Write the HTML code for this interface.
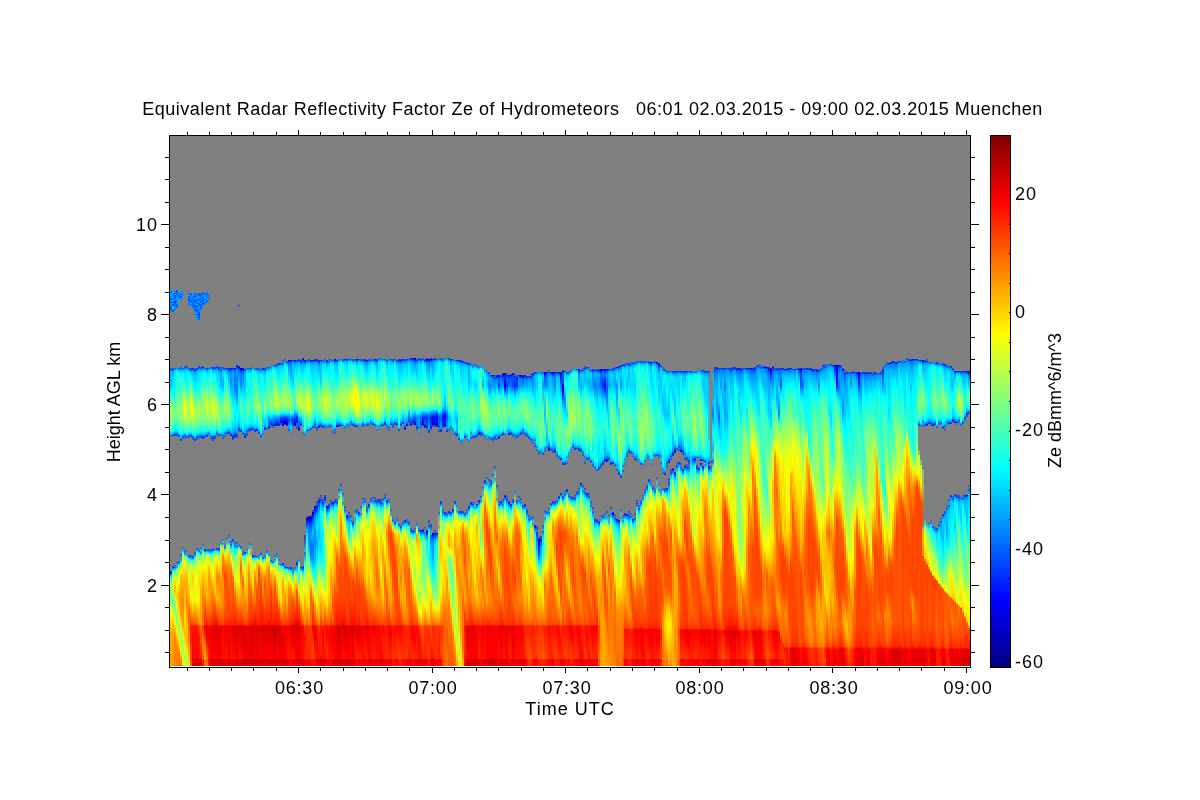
<!DOCTYPE html>
<html><head><meta charset="utf-8"><style>
html,body{margin:0;padding:0;background:#fff;width:1200px;height:800px;overflow:hidden;position:relative}
#hm{position:absolute;left:170px;top:136px;width:800px;height:530px;background:#808080;display:flex}
#hm i{display:block;width:2px;height:530px;flex:none}
svg{position:absolute;left:0;top:0;display:block;will-change:transform}
text{font-family:"Liberation Sans",sans-serif;font-size:18px;fill:#000}
</style></head><body>
<div id="hm"><i style="background:linear-gradient(#808080 0px 155px,#0af 155px,#04f 156.5px,#09f 157.5px,#09f 158.5px,#0af 160.5px,#07f 161.5px,#06f 162.5px,#03f 163.5px,#0bf 164.5px,#05f 166.5px,#09f 167.5px,#08f 168.5px,#07f 170.5px,#05f 171.5px,#06f 173.5px,#45b 175px,#808080 175px 232px,#45b 232px,#04f 233.5px,#0af 235.5px,#0bf 237.5px,#0bf 249.5px,#0ff 256.5px,#8f7 270.5px,#9f6 276.5px,#8f7 285.5px,#5fa 292.5px,#2fd 295.5px,#1de 297.5px,#0bf 298.5px,#07f 299.5px,#47b 301px,#808080 301px 435px,#44b 435px,#01f 436.5px,#0bf 439.5px,#0ef 441.5px,#1fe 442.5px,#9f6 449.5px,#8f7 461.5px,#9f6 464.5px,#df2 471.5px,#ff0 479.5px,#fa0 497.5px,#f90 530px)"></i><i style="background:linear-gradient(#808080 0px 155px,#0af 155px,#08f 158.5px,#06f 159.5px,#0af 161.5px,#07f 163.5px,#0af 165.5px,#05f 166.5px,#09f 167.5px,#04f 168.5px,#06f 169.5px,#0bf 170.5px,#0bf 172.5px,#05f 174.5px,#06f 176px,#808080 176px 232px,#45b 232px,#05f 233.5px,#0af 235.5px,#0cf 238.5px,#0ff 254.5px,#7f8 269.5px,#8f7 275.5px,#7f8 284.5px,#1fe 294.5px,#0ff 295.5px,#0bf 297.5px,#03f 300px,#808080 300px 430px,#45b 430px,#04f 431.5px,#08f 432.5px,#1ce 433.5px,#4fb 435.5px,#8f7 437.5px,#af5 439.5px,#df2 449.5px,#5fa 464.5px,#df2 476.5px,#fe0 480.5px,#fa0 492.5px,#f90 530px)"></i><i style="background:linear-gradient(#808080 0px 154px,#49b 154px,#47b 155.5px,#09f 156.5px,#04f 157.5px,#0bf 158.5px,#04f 159.5px,#05f 160.5px,#04f 161.5px,#07f 162.5px,#08f 164.5px,#03f 165.5px,#06f 167.5px,#07f 170.5px,#0af 171.5px,#09f 172.5px,#06f 173.5px,#49b 174.5px,#48b 176px,#808080 176px 232px,#05f 232px,#09f 233.5px,#0cf 234.5px,#0ef 237.5px,#0ff 254.5px,#7f8 274.5px,#6f9 281.5px,#0ff 292.5px,#0cf 295.5px,#07f 297.5px,#03f 298.5px,#44b 300px,#808080 300px 429px,#45b 429px,#47b 430.5px,#06f 431.5px,#0df 433.5px,#1fe 434.5px,#3fc 435.5px,#9f6 438.5px,#df2 442.5px,#fd0 446.5px,#fb0 450.5px,#fc0 456.5px,#cf3 461.5px,#8f7 466.5px,#6f9 471.5px,#8f8 476.5px,#df2 484.5px,#fe0 488.5px,#f80 500.5px,#f80 530px)"></i><i style="background:linear-gradient(#808080 0px 154px,#47b 154px,#04f 155.5px,#08f 157.5px,#05f 158.5px,#08f 159.5px,#08f 161.5px,#0bf 162.5px,#08f 163.5px,#07f 164.5px,#09f 165.5px,#07f 166.5px,#09f 167.5px,#06f 168.5px,#05f 169.5px,#06f 170.5px,#46b 172px,#808080 172px 232px,#08f 232px,#0cf 233.5px,#0ff 235.5px,#2fd 239.5px,#2fd 250.5px,#8f7 273.5px,#6f9 282.5px,#0ff 292.5px,#0cf 295.5px,#07f 297.5px,#03f 298.5px,#44b 300px,#808080 300px 426px,#45b 426px,#4bb 429.5px,#29d 430.5px,#6f9 433.5px,#9f6 437.5px,#af5 441.5px,#ff0 451.5px,#fc0 459.5px,#fe0 466.5px,#df2 471.5px,#af5 476.5px,#8f7 481.5px,#9f6 485.5px,#df2 492.5px,#fd0 497.5px,#f80 509.5px,#f70 530px)"></i><i style="background:linear-gradient(#808080 0px 154px,#47b 154px,#4ab 155.5px,#07f 156.5px,#09f 157.5px,#06f 159.5px,#07f 161.5px,#06f 162.5px,#0cf 163.5px,#49b 165px,#808080 165px 232px,#04f 232px,#09f 233.5px,#0cf 234.5px,#1fe 236.5px,#3fc 251.5px,#9f6 274.5px,#7f8 283.5px,#0ff 295.5px,#0af 298.5px,#03f 301px,#808080 301px 425px,#44b 425px,#05f 426.5px,#0df 428.5px,#2fd 429.5px,#9f6 432.5px,#af5 433.5px,#ff0 444.5px,#fb0 456.5px,#fa0 462.5px,#fb0 469.5px,#fd0 476.5px,#df2 483.5px,#9f6 491.5px,#af5 496.5px,#df2 501.5px,#fd0 506.5px,#f80 516.5px,#f60 530px)"></i><i style="background:linear-gradient(#808080 0px 154px,#49b 154px,#48b 155.5px,#0af 156.5px,#05f 158.5px,#0af 159.5px,#03f 160.5px,#09f 162.5px,#46b 164px,#808080 164px 231px,#45b 231px,#06f 232.5px,#09f 233.5px,#0df 235.5px,#1fe 240.5px,#4fb 256.5px,#9f6 274.5px,#8f7 284.5px,#1fe 297.5px,#0cf 300.5px,#08f 302.5px,#04f 303.5px,#45b 305px,#808080 305px 418px,#44b 418px,#4ab 422.5px,#09f 423.5px,#3fc 426.5px,#bf4 430.5px,#ff0 434.5px,#fe0 436.5px,#fb0 441.5px,#f80 467.5px,#f90 479.5px,#fd0 487.5px,#df2 492.5px,#9f6 501.5px,#af5 506.5px,#df2 511.5px,#fd0 517.5px,#f90 523.5px,#f60 530px)"></i><i style="background:linear-gradient(#808080 0px 156px,#46b 156px,#48b 158.5px,#47b 159.5px,#49b 160.5px,#48b 161.5px,#49b 163px,#808080 163px 232px,#05f 232px,#09f 233.5px,#0cf 234.5px,#0ff 237.5px,#3fc 249.5px,#9f6 260.5px,#bf4 271.5px,#9f6 281.5px,#1fe 294.5px,#0df 297.5px,#09f 299.5px,#05f 300.5px,#46b 301.5px,#44b 303px,#808080 303px 411px,#44b 411px,#49b 413.5px,#0af 414.5px,#3fc 416.5px,#6f9 417.5px,#bf4 420.5px,#df2 422.5px,#fd0 436.5px,#fb0 442.5px,#f80 464.5px,#f90 486.5px,#fd0 496.5px,#df2 502.5px,#9f6 512.5px,#af5 517.5px,#df2 523.5px,#fc0 530px)"></i><i style="background:linear-gradient(#808080 0px 230px,#45b 230px,#05f 231.5px,#08f 232.5px,#0cf 234.5px,#0ef 239.5px,#2fd 249.5px,#df2 265.5px,#ef1 273.5px,#cf3 281.5px,#2fd 294.5px,#0ef 296.5px,#09f 298.5px,#05f 299.5px,#46b 300.5px,#44b 302px,#808080 302px 414px,#44b 414px,#48b 416.5px,#08f 417.5px,#4fb 420.5px,#6f9 421.5px,#bf4 424.5px,#ef1 428.5px,#fd0 434.5px,#fa0 447.5px,#fc0 470.5px,#fe0 479.5px,#fb0 497.5px,#fd0 506.5px,#df2 512.5px,#af5 520.5px,#bf4 530px)"></i><i style="background:linear-gradient(#808080 0px 230px,#45b 230px,#06f 231.5px,#0cf 233.5px,#0ef 236.5px,#1fe 251.5px,#bf4 268.5px,#cf3 276.5px,#9f6 287.5px,#2fd 296.5px,#0ef 298.5px,#08f 300.5px,#03f 302px,#808080 302px 415px,#46b 415px,#4ab 417.5px,#18e 418.5px,#5fa 421.5px,#af5 425.5px,#fd0 433.5px,#fb0 441.5px,#f80 467.5px,#fb0 485.5px,#fb0 506.5px,#fe0 516.5px,#af5 530px)"></i><i style="background:linear-gradient(#808080 0px 156px,#48b 156px,#47b 157.5px,#07f 158.5px,#0bf 159.5px,#06f 160.5px,#07f 161.5px,#05f 163.5px,#05f 164.5px,#09f 166.5px,#07f 167.5px,#08f 168.5px,#07f 170px,#808080 170px 232px,#04f 232px,#0bf 234.5px,#0ef 236.5px,#0ff 238.5px,#bf4 273.5px,#9f6 283.5px,#5fa 291.5px,#1fe 295.5px,#0cf 297.5px,#06f 299.5px,#46b 300.5px,#44b 302px,#808080 302px 419px,#45b 419px,#05f 420.5px,#0df 422.5px,#1fe 423.5px,#7f8 426.5px,#df2 438.5px,#fd0 447.5px,#fb0 463.5px,#f70 472.5px,#f60 478.5px,#f60 490.5px,#fa0 514.5px,#ee1 530px)"></i><i style="background:linear-gradient(#808080 0px 157px,#46b 157px,#06f 158.5px,#09f 160.5px,#08f 163.5px,#05f 164.5px,#05f 166.5px,#0af 167.5px,#07f 168.5px,#0bf 170px,#808080 170px 232px,#44b 232px,#04f 233.5px,#0af 235.5px,#0df 237.5px,#1fe 243.5px,#df2 264.5px,#ef1 269.5px,#df2 274.5px,#bf4 281.5px,#4fb 291.5px,#1fe 295.5px,#0cf 297.5px,#05f 299.5px,#44b 301px,#808080 301px 419px,#44b 419px,#46b 420.5px,#07f 421.5px,#0bf 422.5px,#3fc 424.5px,#9f6 427.5px,#ef1 432.5px,#ee1 435.5px,#de2 444.5px,#df2 455.5px,#fe0 464.5px,#f90 473.5px,#f40 488.5px,#f20 490.5px,#f20 502.5px,#f50 522.5px,#f40 523.5px,#f60 530px)"></i><i style="background:linear-gradient(#808080 0px 156px,#47b 156px,#4ab 157.5px,#08f 158.5px,#09f 159.5px,#07f 160.5px,#08f 161.5px,#06f 163.5px,#08f 164.5px,#05f 165.5px,#07f 166.5px,#06f 168.5px,#07f 169.5px,#45b 170.5px,#46b 171.5px,#49b 173px,#808080 173px 232px,#01e 232px,#08f 234.5px,#0bf 236.5px,#1fe 248.5px,#4fb 255.5px,#bf4 265.5px,#df2 272.5px,#df2 278.5px,#bf4 283.5px,#5fa 292.5px,#0ff 297.5px,#0bf 299.5px,#04f 301.5px,#46b 302.5px,#44a 304px,#808080 304px 420px,#44b 420px,#04f 421.5px,#0df 423.5px,#1fe 424.5px,#7f8 427.5px,#fe0 436.5px,#fc0 441.5px,#fe0 454.5px,#ef1 463.5px,#fe0 468.5px,#f40 488.5px,#f10 490.5px,#e00 530px)"></i><i style="background:linear-gradient(#808080 0px 156px,#45b 156px,#46b 157.5px,#07f 158.5px,#07f 159.5px,#04f 160.5px,#05f 161.5px,#0bf 162.5px,#05f 163.5px,#05f 165.5px,#07f 166.5px,#09f 168.5px,#03f 170.5px,#08f 171.5px,#07f 172.5px,#04f 173.5px,#07f 174.5px,#09f 176.5px,#47b 177.5px,#49b 180px,#808080 180px 233px,#01d 233px,#07f 235.5px,#0bf 238.5px,#0ff 253.5px,#8f6 269.5px,#af5 275.5px,#8f7 286.5px,#1fe 298.5px,#0ff 299.5px,#0bf 301.5px,#04f 303.5px,#44b 305px,#808080 305px 416px,#44b 416px,#46b 417.5px,#06f 418.5px,#0df 420.5px,#1fe 421.5px,#6f9 424.5px,#cf3 434.5px,#ef1 439.5px,#ef1 447.5px,#df2 454.5px,#ef1 458.5px,#fe0 464.5px,#fb0 469.5px,#f60 485.5px,#f40 488.5px,#f10 490.5px,#f10 522.5px,#d00 523.5px,#d00 530px)"></i><i style="background:linear-gradient(#808080 0px 157px,#48b 157px,#07f 158.5px,#07f 159.5px,#0af 160.5px,#08f 161.5px,#0af 162.5px,#07f 163.5px,#08f 164.5px,#06f 165.5px,#08f 166.5px,#06f 167.5px,#0af 168.5px,#07f 169.5px,#06f 170.5px,#08f 172.5px,#05f 175.5px,#0bf 177.5px,#04f 178.5px,#09f 179.5px,#0af 180.5px,#06f 181.5px,#0af 182.5px,#08f 184px,#808080 184px 232px,#01f 232px,#06f 233.5px,#08f 234.5px,#0bf 236.5px,#0ff 250.5px,#8f7 265.5px,#af5 277.5px,#5fa 289.5px,#0ff 296.5px,#0af 299.5px,#04f 301.5px,#45b 302.5px,#44a 304px,#808080 304px 412px,#02f 412px,#0bf 414.5px,#2fd 416.5px,#6f9 418.5px,#cf3 429.5px,#ef1 440.5px,#df2 454.5px,#ff0 464.5px,#f50 488.5px,#f10 490.5px,#f00 522.5px,#d00 523.5px,#c00 530px)"></i><i style="background:linear-gradient(#808080 0px 157px,#46b 157px,#05f 158.5px,#0af 161.5px,#06f 162.5px,#07f 163.5px,#06f 164.5px,#0bf 165.5px,#04f 168.5px,#05f 169.5px,#09f 170.5px,#07f 171.5px,#0af 172.5px,#06f 174.5px,#09f 175.5px,#06f 176.5px,#04f 178.5px,#04f 179.5px,#06f 180.5px,#04f 181.5px,#07f 182.5px,#06f 184px,#808080 184px 230px,#45b 230px,#04f 231.5px,#0af 233.5px,#0cf 235.5px,#0ff 249.5px,#3fc 256.5px,#9f6 266.5px,#bf4 274.5px,#9f6 281.5px,#2fd 294.5px,#0cf 298.5px,#05f 300.5px,#47b 301.5px,#44b 303px,#808080 303px 414px,#02f 414px,#0cf 416.5px,#1fe 417.5px,#8f7 420.5px,#ef1 430.5px,#fd0 444.5px,#ff0 463.5px,#f80 487.5px,#f70 488.5px,#f40 490.5px,#f10 502.5px,#f10 522.5px,#d00 523.5px,#d00 530px)"></i><i style="background:linear-gradient(#808080 0px 157px,#47b 157px,#06f 158.5px,#06f 159.5px,#08f 161.5px,#06f 162.5px,#08f 163.5px,#06f 164.5px,#08f 167.5px,#07f 168.5px,#04f 169.5px,#07f 170.5px,#05f 171.5px,#06f 172.5px,#46b 173.5px,#49b 175px,#808080 175px 231px,#44b 231px,#05f 232.5px,#09f 233.5px,#0cf 235.5px,#0ef 238.5px,#0ff 245.5px,#9f6 274.5px,#7f8 284.5px,#1fe 294.5px,#0cf 297.5px,#07f 299.5px,#04f 300.5px,#44b 302px,#808080 302px 411px,#45b 411px,#4bb 414.5px,#4bb 415.5px,#28e 416.5px,#3ec 419.5px,#4fb 420.5px,#7f8 422.5px,#ef1 430.5px,#fe0 437.5px,#fb0 451.5px,#f90 488.5px,#f60 490.5px,#f40 508.5px,#f10 522.5px,#d00 523.5px,#d00 530px)"></i><i style="background:linear-gradient(#808080 0px 156px,#47b 156px,#05f 157.5px,#07f 158.5px,#09f 160.5px,#04f 161.5px,#08f 162.5px,#06f 163.5px,#06f 166.5px,#04f 167.5px,#07f 168.5px,#08f 169.5px,#49b 170.5px,#46b 172px,#808080 172px 230px,#44b 230px,#03f 231.5px,#07f 232.5px,#0cf 234.5px,#0ff 237.5px,#1fe 239.5px,#af5 273.5px,#7f8 284.5px,#0ff 295.5px,#0bf 298.5px,#05f 300.5px,#02e 301.5px,#44a 303px,#808080 303px 408px,#44b 408px,#4bb 411.5px,#5ba 412.5px,#2ad 413.5px,#4eb 415.5px,#6f9 416.5px,#af5 419.5px,#ef1 430.5px,#fb0 442.5px,#f80 455.5px,#f60 488.5px,#f30 490.5px,#f80 505.5px,#f80 511.5px,#f50 522.5px,#f20 523.5px,#e10 530px)"></i><i style="background:linear-gradient(#808080 0px 157px,#47b 157px,#07f 158.5px,#09f 159.5px,#08f 160.5px,#0bf 161.5px,#0af 162.5px,#05f 163.5px,#09f 164.5px,#09f 165.5px,#06f 167.5px,#48b 169px,#808080 169px 232px,#06f 232px,#0cf 234.5px,#0ff 237.5px,#3fc 248.5px,#9f6 258.5px,#bf4 266.5px,#6f9 287.5px,#1fe 295.5px,#0bf 298.5px,#05f 300.5px,#45b 302px,#808080 302px 413px,#45b 413px,#04f 414.5px,#1de 416.5px,#3fc 417.5px,#9f6 420.5px,#ff0 430.5px,#fc0 443.5px,#fa0 456.5px,#f40 475.5px,#f20 488.5px,#e00 490.5px,#f20 499.5px,#f70 508.5px,#fa0 518.5px,#fa0 522.5px,#f70 523.5px,#f60 530px)"></i><i style="background:linear-gradient(#808080 0px 156px,#46b 156px,#07f 157.5px,#07f 159.5px,#09f 160.5px,#06f 161.5px,#0bf 162.5px,#08f 163.5px,#06f 165.5px,#47b 167px,#808080 167px 232px,#01f 232px,#06f 233.5px,#0bf 235.5px,#0ef 238.5px,#0ff 242.5px,#4fc 252.5px,#cf3 266.5px,#df2 271.5px,#cf3 277.5px,#0ff 294.5px,#0af 297.5px,#03f 299.5px,#44b 301px,#808080 301px 413px,#46b 413px,#06f 414.5px,#0bf 415.5px,#2ed 416.5px,#4fa 417.5px,#af5 419.5px,#df2 421.5px,#fe0 430.5px,#fa0 463.5px,#f50 480.5px,#f20 488.5px,#f00 489.5px,#e00 490.5px,#e00 502.5px,#f70 522.5px,#f50 523.5px,#f70 530px)"></i><i style="background:linear-gradient(#808080 0px 158px,#48b 158px,#46b 159.5px,#48b 160.5px,#46b 161.5px,#48b 165px,#808080 165px 232px,#05f 232px,#0cf 234.5px,#0ef 236.5px,#1fe 243.5px,#4fb 254.5px,#af5 265.5px,#bf4 272.5px,#8f7 284.5px,#6f9 289.5px,#2fd 293.5px,#0df 295.5px,#07f 297.5px,#48b 298.5px,#46b 300px,#808080 300px 413px,#46b 413px,#05f 414.5px,#0af 415.5px,#2fd 417.5px,#af5 420.5px,#fe0 427.5px,#fb0 433.5px,#f90 441.5px,#fa0 455.5px,#f90 463.5px,#f30 488.5px,#e00 490.5px,#f00 505.5px,#f20 522.5px,#f00 523.5px,#f20 530px)"></i><i style="background:linear-gradient(#808080 0px 231px,#05f 231px,#0cf 233.5px,#1fe 236.5px,#af5 264.5px,#bf4 271.5px,#8f7 282.5px,#1fe 295.5px,#0cf 298.5px,#06f 300.5px,#46b 301.5px,#44b 303px,#808080 303px 413px,#44b 413px,#46b 414.5px,#06f 415.5px,#0ef 417.5px,#2fd 418.5px,#7f8 421.5px,#ef1 430.5px,#f90 447.5px,#f80 463.5px,#f50 480.5px,#f20 488.5px,#e00 490.5px,#f00 522.5px,#d00 523.5px,#d00 530px)"></i><i style="background:linear-gradient(#808080 0px 231px,#44b 231px,#04f 232.5px,#0bf 234.5px,#0ff 238.5px,#3fc 250.5px,#cf3 266.5px,#df2 273.5px,#af5 281.5px,#1fe 294.5px,#0cf 298.5px,#05f 301.5px,#02e 302.5px,#44b 303.5px,#449 305px,#808080 305px 413px,#01f 413px,#0ef 416.5px,#2fd 417.5px,#8f7 420.5px,#df2 429.5px,#ff0 438.5px,#f80 456.5px,#f20 487.5px,#f00 489.5px,#e00 490.5px,#f00 522.5px,#c00 523.5px,#c00 530px)"></i><i style="background:linear-gradient(#808080 0px 231px,#44b 231px,#05f 232.5px,#09f 233.5px,#0df 235.5px,#0ff 239.5px,#3fc 252.5px,#bf4 268.5px,#cf3 275.5px,#8f7 286.5px,#1fe 295.5px,#0df 297.5px,#09f 299.5px,#05f 300.5px,#45b 301.5px,#449 303px,#808080 303px 413px,#05f 413px,#0ff 415.5px,#cf3 419.5px,#fe0 429.5px,#fc0 442.5px,#fc0 455.5px,#f50 470.5px,#f10 488.5px,#f00 489.5px,#d00 490.5px,#f00 522.5px,#c00 523.5px,#c00 530px)"></i><i style="background:linear-gradient(#808080 0px 230px,#44b 230px,#04f 231.5px,#0af 233.5px,#0cf 235.5px,#1fe 250.5px,#af5 266.5px,#bf4 272.5px,#9f6 281.5px,#1fe 292.5px,#0df 294.5px,#05e 297.5px,#47b 298.5px,#45b 300px,#808080 300px 412px,#44b 412px,#05f 413.5px,#1ee 415.5px,#bf4 419.5px,#df2 421.5px,#fe0 425.5px,#fb0 430.5px,#f80 441.5px,#fb0 463.5px,#e00 489.5px,#d00 490.5px,#d00 493.5px,#f00 522.5px,#c00 523.5px,#c00 530px)"></i><i style="background:linear-gradient(#808080 0px 231px,#44a 231px,#03f 232.5px,#09f 234.5px,#0cf 237.5px,#0ff 255.5px,#9f6 272.5px,#af5 278.5px,#7f8 288.5px,#2fd 294.5px,#0ef 296.5px,#08f 298.5px,#03f 300px,#808080 300px 412px,#44b 412px,#04f 413.5px,#0df 415.5px,#1fe 416.5px,#7f8 419.5px,#df2 426.5px,#fe0 429.5px,#f80 441.5px,#fa0 463.5px,#f30 488.5px,#e00 490.5px,#d00 502.5px,#f00 522.5px,#c00 523.5px,#c00 530px)"></i><i style="background:linear-gradient(#808080 0px 231px,#44b 231px,#46b 232.5px,#05f 233.5px,#07f 234.5px,#09f 236.5px,#0bf 248.5px,#0ff 256.5px,#6f9 272.5px,#5fa 285.5px,#1fe 294.5px,#0ef 296.5px,#0cf 297.5px,#04f 300px,#808080 300px 405px,#45b 405px,#48b 406.5px,#09f 407.5px,#4eb 409.5px,#9f6 411.5px,#cf3 414.5px,#fd0 427.5px,#f80 451.5px,#f90 467.5px,#f30 488.5px,#e00 490.5px,#f00 522.5px,#c00 523.5px,#c00 530px)"></i><i style="background:linear-gradient(#808080 0px 231px,#46b 231px,#05f 232.5px,#0bf 234.5px,#0df 236.5px,#0cf 243.5px,#0af 249.5px,#0ff 257.5px,#6f9 266.5px,#8f7 273.5px,#7f8 279.5px,#1fe 290.5px,#0ef 295.5px,#0bf 297.5px,#07f 299.5px,#47b 300.5px,#44b 303px,#808080 303px 403px,#45b 403px,#4bb 405.5px,#6b9 406.5px,#48b 407.5px,#7e8 409.5px,#ed1 413.5px,#fd0 414.5px,#f80 422.5px,#f60 432.5px,#f90 448.5px,#f80 463.5px,#f50 485.5px,#f40 488.5px,#f00 490.5px,#f10 522.5px,#d00 523.5px,#c00 530px)"></i><i style="background:linear-gradient(#808080 0px 232px,#03f 232px,#08f 233.5px,#0bf 234.5px,#0ef 236.5px,#0ff 238.5px,#3fc 255.5px,#8f7 267.5px,#9f6 272.5px,#8f7 280.5px,#1fe 292.5px,#0cf 295.5px,#06f 297.5px,#47b 298.5px,#44a 301px,#808080 301px 409px,#44b 409px,#47b 410.5px,#06f 411.5px,#1ae 412.5px,#5fa 414.5px,#cf3 417.5px,#fd0 421.5px,#f80 428.5px,#f40 439.5px,#f60 466.5px,#f40 481.5px,#f20 488.5px,#e00 490.5px,#f10 522.5px,#e00 523.5px,#d00 530px)"></i><i style="background:linear-gradient(#808080 0px 232px,#02f 232px,#07f 233.5px,#0bf 235.5px,#0ef 240.5px,#2fd 247.5px,#8f7 263.5px,#af5 271.5px,#6f9 282.5px,#1fe 290.5px,#0bf 294.5px,#06f 296.5px,#02f 298px,#808080 298px 402px,#44b 402px,#4bb 405.5px,#6b9 406.5px,#4ab 407.5px,#6f9 409.5px,#bf4 412.5px,#df2 413.5px,#fd0 419.5px,#f70 432.5px,#f50 441.5px,#f40 480.5px,#f20 488.5px,#e00 490.5px,#f10 522.5px,#e00 523.5px,#d00 530px)"></i><i style="background:linear-gradient(#808080 0px 232px,#44b 232px,#02f 233.5px,#07f 235.5px,#09f 237.5px,#0ef 251.5px,#1fe 255.5px,#9f6 266.5px,#af5 273.5px,#9f6 279.5px,#3fc 288.5px,#0ff 291.5px,#0af 294.5px,#02f 296.5px,#44b 298px,#808080 298px 399px,#44b 399px,#4bb 403.5px,#5ba 404.5px,#38c 405.5px,#6e9 408.5px,#9f6 410.5px,#be4 412.5px,#fc0 418.5px,#fa0 422.5px,#f80 429.5px,#f50 456.5px,#f40 480.5px,#f20 488.5px,#e00 490.5px,#f00 522.5px,#d00 523.5px,#d00 530px)"></i><i style="background:linear-gradient(#808080 0px 232px,#00f 232px,#06f 234.5px,#09f 237.5px,#08f 249.5px,#0ef 260.5px,#2fd 265.5px,#4fb 270.5px,#5fa 276.5px,#3fc 285.5px,#0ef 293.5px,#0cf 295.5px,#08f 297.5px,#00f 300px,#808080 300px 405px,#44b 405px,#47b 407.5px,#05f 408.5px,#0af 410.5px,#1fe 413.5px,#df2 422.5px,#fd0 425.5px,#f70 433.5px,#f60 437.5px,#f60 464.5px,#f20 488.5px,#e00 490.5px,#f10 522.5px,#d00 523.5px,#d00 530px)"></i><i style="background:linear-gradient(#808080 0px 232px,#01f 232px,#08f 234.5px,#0af 237.5px,#0bf 256.5px,#1fe 271.5px,#2fd 279.5px,#0ff 285.5px,#0af 296.5px,#08f 298.5px,#03f 300.5px,#02d 301.5px,#44b 302.5px,#449 304px,#808080 304px 403px,#45b 403px,#03f 404.5px,#0af 406.5px,#0ff 409.5px,#df2 428.5px,#fc0 435.5px,#f70 441.5px,#f50 447.5px,#f40 478.5px,#f20 488.5px,#f00 489.5px,#d00 490.5px,#f10 522.5px,#e00 523.5px,#d00 530px)"></i><i style="background:linear-gradient(#808080 0px 232px,#00f 232px,#06f 234.5px,#08f 236.5px,#07f 250.5px,#0ef 265.5px,#0ff 270.5px,#0ef 282.5px,#0bf 291.5px,#09f 295.5px,#03f 298.5px,#01e 299.5px,#44b 300.5px,#448 302px,#808080 302px 406px,#44b 406px,#48b 408.5px,#06f 409.5px,#0df 412.5px,#1fe 414.5px,#9f6 425.5px,#ef1 442.5px,#f60 460.5px,#f20 485.5px,#f20 488.5px,#f00 489.5px,#d00 490.5px,#f00 513.5px,#f10 522.5px,#d00 523.5px,#e00 530px)"></i><i style="background:linear-gradient(#808080 0px 229px,#44b 229px,#02e 230.5px,#04f 231.5px,#08f 233.5px,#09f 235.5px,#07f 255.5px,#0ff 275.5px,#0ff 283.5px,#0cf 291.5px,#09f 296.5px,#03f 299.5px,#45b 300.5px,#44b 302px,#808080 302px 406px,#44b 406px,#4ab 409.5px,#07f 410.5px,#2fd 413.5px,#6f9 417.5px,#ef1 443.5px,#f50 474.5px,#f20 488.5px,#f00 489.5px,#d00 490.5px,#f00 522.5px,#c00 523.5px,#c00 530px)"></i><i style="background:linear-gradient(#808080 0px 166px,#46b 166px,#49b 167.5px,#45b 169.5px,#47b 171px,#808080 171px 230px,#44a 230px,#01e 231.5px,#03f 232.5px,#06f 234.5px,#08f 236.5px,#0ef 254.5px,#2ed 265.5px,#1fe 271.5px,#0df 286.5px,#0af 290.5px,#03e 293.5px,#46b 294.5px,#44b 296px,#808080 296px 409px,#03f 409px,#0ef 411.5px,#5fa 412.5px,#bf4 414.5px,#df2 415.5px,#ee1 416.5px,#ed1 425.5px,#ff0 446.5px,#f20 488.5px,#f00 489.5px,#d00 490.5px,#f10 522.5px,#d00 523.5px,#c00 530px)"></i><i style="background:linear-gradient(#808080 0px 232px,#009 232px,#00f 233.5px,#03f 234.5px,#07f 237.5px,#08f 249.5px,#0ef 257.5px,#2fd 261.5px,#4fb 266.5px,#5fa 272.5px,#2fd 280.5px,#0ef 290.5px,#09f 293.5px,#01e 296px,#808080 296px 410px,#46b 410px,#05f 411.5px,#0af 412.5px,#5fa 414.5px,#bf4 416.5px,#ce2 417.5px,#fc0 421.5px,#f80 426.5px,#f60 433.5px,#fa0 449.5px,#fb0 456.5px,#f20 488.5px,#f00 489.5px,#d00 490.5px,#f10 522.5px,#d00 523.5px,#d00 530px)"></i><i style="background:linear-gradient(#808080 0px 232px,#00b 232px,#01f 233.5px,#05f 235.5px,#07f 238.5px,#0ff 261.5px,#3fc 269.5px,#4fb 276.5px,#0ff 292.5px,#0bf 295.5px,#06f 297.5px,#45b 299px,#808080 299px 415px,#44b 415px,#47b 416.5px,#05f 417.5px,#09f 418.5px,#1fe 420.5px,#8f7 424.5px,#df2 429.5px,#fd0 434.5px,#f60 445.5px,#f90 464.5px,#f50 480.5px,#f20 488.5px,#f00 489.5px,#d00 490.5px,#d00 496.5px,#f00 522.5px,#c00 523.5px,#d00 530px)"></i><i style="background:linear-gradient(#808080 0px 233px,#02e 233px,#08f 235.5px,#0af 237.5px,#0bf 249.5px,#0ff 262.5px,#3fc 272.5px,#1fe 283.5px,#0df 290.5px,#0af 296.5px,#04f 299.5px,#01e 300.5px,#44a 302px,#808080 302px 416px,#00f 416px,#0ef 419.5px,#2fd 420.5px,#8f7 423.5px,#ef1 440.5px,#fd0 446.5px,#f70 469.5px,#f60 480.5px,#f30 488.5px,#e00 490.5px,#d00 502.5px,#f00 522.5px,#c00 523.5px,#c00 530px)"></i><i style="background:linear-gradient(#808080 0px 232px,#04f 232px,#09f 233.5px,#0cf 234.5px,#0ff 237.5px,#1ee 249.5px,#1fe 255.5px,#5fa 271.5px,#4fb 278.5px,#1fe 287.5px,#0cf 292.5px,#05f 295.5px,#47b 296.5px,#44b 298.5px,#448 300px,#808080 300px 413px,#45b 413px,#4ab 415.5px,#19e 416.5px,#4eb 418.5px,#6f9 419.5px,#cf3 422.5px,#df2 424.5px,#fd0 431.5px,#fa0 463.5px,#f40 485.5px,#f30 488.5px,#e00 490.5px,#e00 522.5px,#c00 523.5px,#c00 530px)"></i><i style="background:linear-gradient(#808080 0px 232px,#04f 232px,#08f 233.5px,#0bf 234.5px,#0ef 236.5px,#0ff 238.5px,#1fe 251.5px,#5fa 269.5px,#4fb 277.5px,#1fe 286.5px,#0cf 290.5px,#08f 292.5px,#04f 293.5px,#46b 294.5px,#44b 296px,#808080 296px 407px,#45b 407px,#4ab 409.5px,#5ba 410.5px,#38c 411.5px,#6e9 413.5px,#7f8 414.5px,#cf3 417.5px,#ef1 420.5px,#fe0 423.5px,#f80 437.5px,#f40 480.5px,#f20 488.5px,#e00 490.5px,#e00 522.5px,#c00 523.5px,#c00 530px)"></i><i style="background:linear-gradient(#808080 0px 232px,#03f 232px,#08f 233.5px,#0af 234.5px,#0ef 237.5px,#0ff 252.5px,#4fa 271.5px,#0ff 286.5px,#0bf 290.5px,#06f 292.5px,#03f 293.5px,#44a 295px,#808080 295px 408px,#46b 408px,#4bb 410.5px,#9b6 414.5px,#ab5 416.5px,#699 417.5px,#7e8 419.5px,#8f7 420.5px,#cf3 423.5px,#ee2 433.5px,#fb0 444.5px,#f60 455.5px,#f30 480.5px,#f10 488.5px,#e00 489.5px,#d00 490.5px,#e00 522.5px,#c00 523.5px,#c00 530px)"></i><i style="background:linear-gradient(#808080 0px 230px,#45b 230px,#48b 231.5px,#0af 232.5px,#0df 233.5px,#1fe 235.5px,#4fb 269.5px,#0ff 285.5px,#0ef 288.5px,#0bf 290.5px,#06f 292.5px,#03f 294px,#808080 294px 419px,#44b 419px,#03f 420.5px,#1de 422.5px,#3fc 423.5px,#bf4 426.5px,#df2 428.5px,#ed1 435.5px,#fe0 447.5px,#f50 468.5px,#f20 487.5px,#f00 489.5px,#d00 490.5px,#d00 491.5px,#e00 522.5px,#c00 523.5px,#c00 530px)"></i><i style="background:linear-gradient(#808080 0px 232px,#47b 232px,#08f 233.5px,#0ef 235.5px,#1fe 237.5px,#8f7 266.5px,#7f8 273.5px,#1fe 287.5px,#0cf 291.5px,#07f 293.5px,#03f 294.5px,#44b 296px,#808080 296px 419px,#44b 419px,#06f 420.5px,#0ef 422.5px,#bf4 426.5px,#df2 429.5px,#fe0 432.5px,#fa0 436.5px,#f70 444.5px,#f70 464.5px,#e00 489.5px,#d00 490.5px,#f00 522.5px,#c00 523.5px,#c00 530px)"></i><i style="background:linear-gradient(#808080 0px 232px,#44b 232px,#06f 233.5px,#0cf 235.5px,#0ff 239.5px,#af5 267.5px,#8f7 273.5px,#3fc 280.5px,#0ff 285.5px,#0df 289.5px,#0bf 291.5px,#05f 293.5px,#01f 295px,#808080 295px 420px,#04f 420px,#0bf 421.5px,#3ec 422.5px,#af5 424.5px,#ec1 427.5px,#fa0 444.5px,#f60 450.5px,#f50 455.5px,#f30 480.5px,#f10 488.5px,#f00 489.5px,#d00 491.5px,#e00 522.5px,#c00 523.5px,#c00 530px)"></i><i style="background:linear-gradient(#808080 0px 232px,#46b 232px,#05f 233.5px,#09f 234.5px,#0cf 236.5px,#0ef 240.5px,#1fe 251.5px,#8f7 266.5px,#9f6 271.5px,#8f7 277.5px,#2fd 288.5px,#0ef 291.5px,#0cf 293.5px,#07f 295.5px,#04f 296.5px,#44b 298px,#808080 298px 419px,#45b 419px,#48b 420.5px,#08f 421.5px,#4fb 423.5px,#df2 425.5px,#fe0 426.5px,#fc0 427.5px,#f50 433.5px,#f40 437.5px,#f50 456.5px,#f20 485.5px,#f20 488.5px,#f00 489.5px,#d00 490.5px,#f00 522.5px,#c00 523.5px,#c00 530px)"></i><i style="background:linear-gradient(#808080 0px 233px,#04f 233px,#09f 234.5px,#0bf 235.5px,#0ff 239.5px,#1fe 256.5px,#7f8 274.5px,#4fb 290.5px,#1fe 295.5px,#0ef 296.5px,#0af 298.5px,#02f 301px,#808080 301px 417px,#01f 417px,#0cf 419.5px,#2fd 420.5px,#df2 424.5px,#ff0 427.5px,#f70 441.5px,#f40 451.5px,#f10 488.5px,#d00 490.5px,#f00 522.5px,#c00 523.5px,#c00 530px)"></i><i style="background:linear-gradient(#808080 0px 232px,#00f 232px,#05f 233.5px,#09f 234.5px,#0cf 236.5px,#0ef 239.5px,#1fe 244.5px,#3fc 255.5px,#4fb 268.5px,#4fb 272.5px,#1fe 278.5px,#1de 283.5px,#1de 291.5px,#0cf 293.5px,#09f 295.5px,#49b 296.5px,#45b 299px,#808080 299px 421px,#46b 421px,#06f 422.5px,#0cf 423.5px,#2ed 424.5px,#cf3 427.5px,#ef1 428.5px,#fe0 430.5px,#fa0 438.5px,#f80 456.5px,#f30 471.5px,#f10 488.5px,#e00 489.5px,#c00 490.5px,#f00 522.5px,#c00 523.5px,#c00 530px)"></i><i style="background:linear-gradient(#808080 0px 232px,#45b 232px,#04f 233.5px,#0af 235.5px,#0df 239.5px,#0ff 250.5px,#7f8 264.5px,#9f6 270.5px,#7f8 275.5px,#2fd 280.5px,#0df 284.5px,#0af 289.5px,#05f 291.5px,#01f 292.5px,#44a 294px,#808080 294px 419px,#46b 419px,#48b 420.5px,#09f 421.5px,#3fc 423.5px,#9f6 425.5px,#cf3 427.5px,#fe0 432.5px,#f80 440.5px,#f50 448.5px,#f60 465.5px,#f30 480.5px,#f10 488.5px,#e00 489.5px,#d00 490.5px,#d00 496.5px,#f00 522.5px,#d00 523.5px,#d00 530px)"></i><i style="background:linear-gradient(#808080 0px 231px,#45b 231px,#07f 232.5px,#0df 234.5px,#1fe 237.5px,#5fa 265.5px,#5fa 271.5px,#2fd 276.5px,#0df 282.5px,#0df 289.5px,#0af 291.5px,#07f 292.5px,#46b 294px,#808080 294px 415px,#44b 415px,#07f 416.5px,#0df 417.5px,#3fc 418.5px,#df2 421.5px,#fe0 424.5px,#fa0 432.5px,#f40 468.5px,#f20 485.5px,#f10 488.5px,#f00 489.5px,#d00 490.5px,#f00 522.5px,#d00 523.5px,#d00 530px)"></i><i style="background:linear-gradient(#808080 0px 231px,#05f 231px,#0bf 233.5px,#0ff 237.5px,#9f6 266.5px,#7f8 271.5px,#2fd 276.5px,#0df 279.5px,#09f 282.5px,#06f 288.5px,#04f 290.5px,#01f 291.5px,#44a 293px,#808080 293px 418px,#04f 418px,#0bf 419.5px,#2fd 420.5px,#df2 423.5px,#fe0 424.5px,#f70 435.5px,#f50 463.5px,#f30 480.5px,#e00 489.5px,#d00 490.5px,#f00 522.5px,#c00 523.5px,#c00 530px)"></i><i style="background:linear-gradient(#808080 0px 230px,#47b 230px,#09f 231.5px,#0df 233.5px,#1fe 236.5px,#2fd 246.5px,#8f7 267.5px,#7f8 273.5px,#1fe 278.5px,#03e 288.5px,#46b 289.5px,#44b 291px,#808080 291px 424px,#45b 424px,#07f 425.5px,#0cf 426.5px,#2fd 427.5px,#cf3 430.5px,#ff0 432.5px,#f90 442.5px,#f40 454.5px,#f10 488.5px,#d00 490.5px,#f00 518.5px,#f00 522.5px,#c00 523.5px,#c00 530px)"></i><i style="background:linear-gradient(#808080 0px 229px,#47b 229px,#0af 230.5px,#0df 231.5px,#1fe 233.5px,#8f7 267.5px,#7f8 272.5px,#1fe 277.5px,#0ff 278.5px,#09f 282.5px,#06f 287.5px,#03f 289.5px,#46b 290.5px,#44b 292px,#808080 292px 425px,#46b 425px,#08f 426.5px,#0df 427.5px,#3fc 428.5px,#df2 431.5px,#ff0 432.5px,#fe0 434.5px,#fa0 442.5px,#f70 454.5px,#f10 488.5px,#e00 489.5px,#c00 491.5px,#f00 522.5px,#c00 523.5px,#c00 530px)"></i><i style="background:linear-gradient(#808080 0px 229px,#03f 229px,#08f 230.5px,#0df 232.5px,#1fe 235.5px,#af5 256.5px,#bf4 263.5px,#9f6 271.5px,#6f9 274.5px,#1fe 277.5px,#0ef 278.5px,#08f 282.5px,#04f 287.5px,#00f 290px,#808080 290px 419px,#44b 419px,#4bb 422.5px,#18e 423.5px,#4eb 426.5px,#4fb 427.5px,#9f6 430.5px,#df2 434.5px,#fe0 436.5px,#f80 444.5px,#f50 452.5px,#f50 463.5px,#f10 488.5px,#e00 489.5px,#c00 490.5px,#e00 522.5px,#c00 523.5px,#c00 530px)"></i><i style="background:linear-gradient(#808080 0px 228px,#01f 228px,#06f 229.5px,#09f 230.5px,#0cf 232.5px,#0ff 240.5px,#3fc 246.5px,#cf3 261.5px,#df2 266.5px,#af4 272.5px,#7f8 275.5px,#1fe 278.5px,#0df 279.5px,#08f 282.5px,#02f 287.5px,#01d 288.5px,#44b 290px,#808080 290px 417px,#44b 417px,#49b 419.5px,#09f 420.5px,#5fa 423.5px,#9f6 426.5px,#ff0 438.5px,#f40 467.5px,#f10 488.5px,#c00 490.5px,#f00 511.5px,#f00 522.5px,#c00 523.5px,#c00 530px)"></i><i style="background:linear-gradient(#808080 0px 227px,#00f 227px,#06f 228.5px,#09f 229.5px,#0cf 231.5px,#0ff 243.5px,#9f6 261.5px,#af5 267.5px,#9f6 272.5px,#7f8 274.5px,#2fd 277.5px,#0df 279.5px,#08f 282.5px,#04f 287.5px,#01f 290px,#808080 290px 423px,#45b 423px,#4bb 426.5px,#29d 427.5px,#4fb 430.5px,#9f6 434.5px,#ef1 446.5px,#fc0 462.5px,#f40 474.5px,#f10 488.5px,#e00 489.5px,#c00 490.5px,#c00 494.5px,#f00 522.5px,#c00 523.5px,#d00 530px)"></i><i style="background:linear-gradient(#808080 0px 227px,#03f 227px,#08f 228.5px,#0cf 230.5px,#0ef 233.5px,#0ff 237.5px,#9f6 266.5px,#7f8 272.5px,#1fe 276.5px,#0ef 277.5px,#05f 281.5px,#02f 283.5px,#01c 286.5px,#44b 287.5px,#44a 289px,#808080 289px 428px,#04f 428px,#0ff 430.5px,#cf3 434.5px,#ee1 444.5px,#fe0 464.5px,#f20 488.5px,#d00 490.5px,#e00 522.5px,#c00 523.5px,#c00 530px)"></i><i style="background:linear-gradient(#808080 0px 224px,#44b 224px,#48b 226.5px,#06f 227.5px,#0cf 230.5px,#0ff 236.5px,#9f6 262.5px,#8f7 270.5px,#5fa 273.5px,#2fd 275.5px,#0ff 276.5px,#03f 282.5px,#01f 284.5px,#01f 287.5px,#00c 290px,#808080 290px 427px,#44b 427px,#03f 428.5px,#0df 430.5px,#2fd 431.5px,#af5 434.5px,#cf3 436.5px,#fe0 440.5px,#fa0 445.5px,#f90 456.5px,#fb0 463.5px,#f90 472.5px,#f30 488.5px,#f00 490.5px,#e00 502.5px,#f00 522.5px,#d00 523.5px,#c00 530px)"></i><i style="background:linear-gradient(#808080 0px 223px,#44b 223px,#47b 224.5px,#08f 225.5px,#0df 227.5px,#0ff 229.5px,#2fd 242.5px,#9f6 257.5px,#bf4 264.5px,#8f7 271.5px,#5fa 274.5px,#1fe 276.5px,#0ef 277.5px,#04f 281.5px,#01f 283.5px,#00e 285.5px,#00a 287.5px,#448 289px,#808080 289px 430px,#02f 430px,#07f 431.5px,#0ff 433.5px,#6f9 436.5px,#ef1 447.5px,#fa0 459.5px,#f30 488.5px,#e00 490.5px,#f00 522.5px,#d00 523.5px,#d00 530px)"></i><i style="background:linear-gradient(#808080 0px 225px,#46b 225px,#06f 226.5px,#0cf 228.5px,#1fe 232.5px,#af5 266.5px,#8f7 272.5px,#2fd 276.5px,#0ff 277.5px,#05f 281.5px,#02f 283.5px,#00f 286.5px,#00c 288.5px,#449 290px,#808080 290px 431px,#03f 431px,#0ef 433.5px,#3fc 434.5px,#af5 437.5px,#fe0 446.5px,#fb0 457.5px,#fa0 467.5px,#f70 478.5px,#f30 488.5px,#e00 490.5px,#f10 522.5px,#d00 523.5px,#d00 530px)"></i><i style="background:linear-gradient(#808080 0px 224px,#00c 224px,#02f 225.5px,#07f 227.5px,#09f 229.5px,#0ef 241.5px,#1fe 246.5px,#8f7 257.5px,#9f6 265.5px,#8f7 271.5px,#6f9 273.5px,#1fe 276.5px,#0ef 277.5px,#07f 280.5px,#05f 283.5px,#05f 285.5px,#0af 290.5px,#09f 292.5px,#06f 293.5px,#46b 295px,#808080 295px 431px,#46b 431px,#06f 432.5px,#1ee 434.5px,#bf4 438.5px,#ff0 442.5px,#fa0 449.5px,#f70 461.5px,#f30 488.5px,#e00 490.5px,#f20 522.5px,#e00 523.5px,#e00 530px)"></i><i style="background:linear-gradient(#808080 0px 224px,#00e 224px,#06f 226.5px,#08f 228.5px,#0af 238.5px,#0ef 247.5px,#1fe 250.5px,#8f7 260.5px,#bf4 267.5px,#8f7 273.5px,#2fd 277.5px,#0cf 279.5px,#07f 282.5px,#06f 284.5px,#0cf 290.5px,#0df 292.5px,#0af 294.5px,#49b 295.5px,#46b 298px,#808080 298px 431px,#44b 431px,#03f 432.5px,#0bf 434.5px,#0ef 435.5px,#2fd 436.5px,#8f7 439.5px,#ef1 445.5px,#fa0 452.5px,#f60 460.5px,#f40 478.5px,#f10 488.5px,#f00 489.5px,#d00 490.5px,#f00 506.5px,#f10 518.5px,#e00 530px)"></i><i style="background:linear-gradient(#808080 0px 224px,#02f 224px,#07f 225.5px,#09f 226.5px,#0cf 229.5px,#0cf 244.5px,#0ff 253.5px,#6f9 262.5px,#7f8 268.5px,#6f9 272.5px,#2fd 276.5px,#0df 278.5px,#07f 281.5px,#04f 283.5px,#03f 286.5px,#04c 288.5px,#47b 289.5px,#45b 292px,#808080 292px 432px,#45b 432px,#4ab 434.5px,#08f 435.5px,#3ec 439.5px,#ff0 450.5px,#f50 464.5px,#f10 488.5px,#f00 489.5px,#d00 490.5px,#f00 507.5px,#f20 522.5px,#e00 523.5px,#e00 530px)"></i><i style="background:linear-gradient(#808080 0px 224px,#00d 224px,#03f 225.5px,#07f 226.5px,#0af 228.5px,#0ef 236.5px,#0ff 240.5px,#5fa 257.5px,#2fd 272.5px,#0df 275.5px,#03f 282.5px,#00f 287.5px,#00e 288.5px,#00b 290px,#808080 290px 431px,#45b 431px,#48b 432.5px,#08f 433.5px,#1ce 434.5px,#3ec 435.5px,#9f6 437.5px,#df2 439.5px,#fc0 448.5px,#e00 489.5px,#d00 490.5px,#f00 511.5px,#f10 522.5px,#d00 523.5px,#e00 530px)"></i><i style="background:linear-gradient(#808080 0px 224px,#02f 224px,#06f 225.5px,#09f 226.5px,#0bf 228.5px,#1fe 242.5px,#8f7 255.5px,#af5 261.5px,#8f7 268.5px,#3fc 273.5px,#0df 276.5px,#04f 280.5px,#02e 282.5px,#02b 286.5px,#46b 287.5px,#44b 291.5px,#44a 293px,#808080 293px 425px,#44a 425px,#45b 426.5px,#02e 427.5px,#09f 430.5px,#0cf 432.5px,#5fa 438.5px,#9f6 441.5px,#fc0 447.5px,#f50 456.5px,#f20 480.5px,#e00 489.5px,#d00 490.5px,#f00 522.5px,#d00 523.5px,#d00 530px)"></i><i style="background:linear-gradient(#808080 0px 223px,#44a 223px,#03f 224.5px,#0af 226.5px,#0cf 228.5px,#1fe 236.5px,#4fb 248.5px,#cf3 265.5px,#af5 272.5px,#3fc 277.5px,#0ef 279.5px,#08f 283.5px,#05f 290.5px,#02f 292.5px,#01c 293.5px,#44a 295px,#808080 295px 422px,#46b 422px,#48b 423.5px,#08f 424.5px,#1fe 426.5px,#5fa 428.5px,#7f8 430.5px,#3fc 441.5px,#4fb 444.5px,#df2 452.5px,#fc0 458.5px,#f50 469.5px,#e00 489.5px,#d00 490.5px,#f00 522.5px,#d00 523.5px,#d00 530px)"></i><i style="background:linear-gradient(#808080 0px 224px,#44b 224px,#02f 225.5px,#08f 227.5px,#0bf 229.5px,#1fe 242.5px,#af5 256.5px,#cf3 264.5px,#af5 272.5px,#0ef 280.5px,#05f 287.5px,#03e 288.5px,#45b 290px,#808080 290px 431px,#01f 431px,#0bf 433.5px,#3fc 435.5px,#8f7 437.5px,#cf3 440.5px,#ff0 459.5px,#fd0 464.5px,#f70 473.5px,#f20 488.5px,#e00 490.5px,#f00 522.5px,#c00 523.5px,#d00 530px)"></i><i style="background:linear-gradient(#808080 0px 222px,#449 222px,#00e 223.5px,#03f 224.5px,#08f 226.5px,#0bf 229.5px,#0ff 241.5px,#9f6 260.5px,#bf4 267.5px,#af5 273.5px,#2fd 281.5px,#1ee 283.5px,#1ce 288.5px,#19e 290.5px,#5ba 291.5px,#4bb 294.5px,#45b 298px,#808080 298px 430px,#44b 430px,#02e 431.5px,#0cf 435.5px,#3fc 438.5px,#bf4 444.5px,#ef1 450.5px,#fd0 471.5px,#f40 488.5px,#f00 490.5px,#f10 522.5px,#d00 523.5px,#d00 530px)"></i><i style="background:linear-gradient(#808080 0px 224px,#00d 224px,#03f 225.5px,#06f 226.5px,#0af 228.5px,#0ef 233.5px,#0ff 237.5px,#bf4 268.5px,#af5 274.5px,#4fb 283.5px,#4fb 290.5px,#1fe 294.5px,#0cf 296.5px,#08f 297.5px,#48b 298.5px,#45b 300px,#808080 300px 399px,#448 399px,#44b 403.5px,#4bb 415.5px,#18c 416.5px,#28d 418.5px,#3fc 427.5px,#6f9 432.5px,#ef1 453.5px,#fa0 467.5px,#f80 485.5px,#f70 488.5px,#f30 490.5px,#f30 493.5px,#f10 502.5px,#f20 522.5px,#e00 523.5px,#e00 530px)"></i><i style="background:linear-gradient(#808080 0px 224px,#44b 224px,#06f 225.5px,#09f 226.5px,#0df 228.5px,#0ff 235.5px,#2fd 242.5px,#bf4 257.5px,#df2 264.5px,#cf3 272.5px,#3fc 282.5px,#0ff 289.5px,#0cf 292.5px,#06f 294.5px,#46b 296px,#808080 296px 380px,#449 380px,#44a 381.5px,#00d 382.5px,#00e 383.5px,#09f 392.5px,#0df 398.5px,#2fd 402.5px,#bf4 444.5px,#ef1 454.5px,#fd0 464.5px,#f80 480.5px,#f50 488.5px,#f20 490.5px,#f30 511.5px,#f20 522.5px,#f00 523.5px,#e00 530px)"></i><i style="background:linear-gradient(#808080 0px 223px,#44b 223px,#04f 224.5px,#08f 225.5px,#0cf 227.5px,#0ff 231.5px,#2fc 245.5px,#ef1 263.5px,#ff0 268.5px,#df2 274.5px,#1fe 290.5px,#0cf 292.5px,#03f 295px,#808080 295px 380px,#449 380px,#00b 381.5px,#02f 385.5px,#07f 391.5px,#09f 408.5px,#0cf 414.5px,#4fb 423.5px,#cf3 433.5px,#ef1 438.5px,#ed1 445.5px,#fd0 467.5px,#f70 488.5px,#f30 490.5px,#f20 522.5px,#f00 523.5px,#e00 530px)"></i><i style="background:linear-gradient(#808080 0px 224px,#00f 224px,#08f 226.5px,#0bf 228.5px,#0ff 243.5px,#8f7 261.5px,#af5 270.5px,#9f6 276.5px,#1fe 288.5px,#0df 290.5px,#07f 292.5px,#45b 294px,#808080 294px 379px,#449 379px,#44a 380.5px,#00b 381.5px,#02f 386.5px,#06f 391.5px,#0af 400.5px,#07f 409.5px,#06f 415.5px,#09f 422.5px,#0df 427.5px,#3fc 432.5px,#bf4 440.5px,#fd0 447.5px,#f80 454.5px,#f60 458.5px,#f60 488.5px,#f30 490.5px,#f30 521.5px,#f30 522.5px,#f10 523.5px,#f00 530px)"></i><i style="background:linear-gradient(#808080 0px 224px,#00e 224px,#08f 226.5px,#0bf 229.5px,#0fe 248.5px,#6f9 259.5px,#8f7 267.5px,#6f9 274.5px,#1fe 284.5px,#0cf 288.5px,#07f 290.5px,#03f 292px,#808080 292px 374px,#449 374px,#44a 375.5px,#00c 376.5px,#02f 380.5px,#07f 386.5px,#0cf 396.5px,#07f 408.5px,#07f 414.5px,#09f 423.5px,#0ef 432.5px,#1fe 435.5px,#df2 450.5px,#fe0 454.5px,#f80 463.5px,#f50 469.5px,#f20 488.5px,#e00 490.5px,#f40 511.5px,#f40 522.5px,#f10 523.5px,#f10 530px)"></i><i style="background:linear-gradient(#808080 0px 223px,#44a 223px,#02f 224.5px,#09f 226.5px,#0cf 229.5px,#0ff 245.5px,#6f9 264.5px,#5fa 271.5px,#0ff 280.5px,#0bf 285.5px,#04f 288.5px,#47b 289.5px,#44a 292px,#808080 292px 370px,#00c 370px,#01f 373.5px,#08f 380.5px,#0af 384.5px,#0af 391.5px,#08f 397.5px,#08f 402.5px,#0bf 424.5px,#0ff 435.5px,#df2 457.5px,#fe0 462.5px,#f90 470.5px,#f30 488.5px,#e00 490.5px,#e00 500.5px,#f00 505.5px,#f30 522.5px,#f10 523.5px,#f10 530px)"></i><i style="background:linear-gradient(#808080 0px 223px,#44b 223px,#02f 224.5px,#09f 226.5px,#0cf 229.5px,#0ff 245.5px,#5fa 256.5px,#7f8 266.5px,#6f9 274.5px,#0ff 284.5px,#0bf 289.5px,#04f 292.5px,#46b 293.5px,#44b 295px,#808080 295px 365px,#44a 365px,#45b 368.5px,#02e 369.5px,#02f 371.5px,#0af 379.5px,#0ef 389.5px,#0af 406.5px,#0ef 421.5px,#1fe 427.5px,#ff0 468.5px,#f50 488.5px,#f10 490.5px,#f00 503.5px,#f10 522.5px,#d00 523.5px,#e00 530px)"></i><i style="background:linear-gradient(#808080 0px 224px,#44b 224px,#02e 225.5px,#04f 226.5px,#08f 228.5px,#0af 230.5px,#1fe 245.5px,#7f8 256.5px,#9f6 264.5px,#7f8 272.5px,#0ff 283.5px,#0bf 287.5px,#05f 289.5px,#02d 290.5px,#44b 292px,#808080 292px 362px,#44b 362px,#44b 363.5px,#01e 364.5px,#09f 373.5px,#0df 382.5px,#0cf 399.5px,#0ff 419.5px,#3fc 427.5px,#cf3 441.5px,#ef1 448.5px,#fa0 480.5px,#f70 488.5px,#f30 490.5px,#f20 497.5px,#f10 522.5px,#d00 523.5px,#d00 530px)"></i><i style="background:linear-gradient(#808080 0px 224px,#02f 224px,#06f 225.5px,#09f 226.5px,#0bf 228.5px,#0cf 244.5px,#1fe 251.5px,#8f7 259.5px,#af5 266.5px,#8f7 274.5px,#1fe 283.5px,#0cf 286.5px,#07f 288.5px,#04f 289.5px,#44b 291px,#808080 291px 359px,#44b 359px,#46b 362.5px,#04f 363.5px,#0bf 369.5px,#0ff 375.5px,#0df 411.5px,#0ef 417.5px,#5fa 433.5px,#df2 448.5px,#fe0 453.5px,#f40 488.5px,#f10 490.5px,#f20 508.5px,#f10 522.5px,#d00 523.5px,#d00 530px)"></i><i style="background:linear-gradient(#808080 0px 224px,#03f 224px,#0af 226.5px,#0df 228.5px,#0fe 235.5px,#9f6 258.5px,#af5 265.5px,#7f8 277.5px,#4fb 283.5px,#0ff 286.5px,#0bf 288.5px,#03f 290.5px,#44b 292px,#808080 292px 363px,#44b 363px,#45b 365.5px,#03e 366.5px,#04f 367.5px,#0cf 372.5px,#2fd 377.5px,#5fa 383.5px,#0ef 400.5px,#1fe 426.5px,#3fc 434.5px,#ff0 455.5px,#fb0 467.5px,#f90 480.5px,#f50 488.5px,#f20 490.5px,#f10 491.5px,#f00 502.5px,#f10 522.5px,#d00 523.5px,#d00 530px)"></i><i style="background:linear-gradient(#808080 0px 223px,#44b 223px,#47b 224.5px,#07f 225.5px,#0af 226.5px,#0df 228.5px,#0ff 237.5px,#3fc 244.5px,#bf4 258.5px,#df2 265.5px,#9f6 276.5px,#5fa 282.5px,#1fe 286.5px,#0ef 287.5px,#08f 289.5px,#47b 290.5px,#44b 292px,#808080 292px 359px,#44b 359px,#44b 360.5px,#01e 361.5px,#0cf 368.5px,#2fd 372.5px,#af5 379.5px,#cf3 387.5px,#bf4 395.5px,#6f9 412.5px,#5fa 420.5px,#8f7 445.5px,#df2 458.5px,#fd0 464.5px,#f70 477.5px,#f40 488.5px,#f10 490.5px,#f20 508.5px,#f10 522.5px,#d00 523.5px,#d00 530px)"></i><i style="background:linear-gradient(#808080 0px 224px,#44a 224px,#02f 225.5px,#06f 226.5px,#09f 227.5px,#0cf 229.5px,#1fe 237.5px,#cf3 265.5px,#af5 274.5px,#6f9 282.5px,#2fd 286.5px,#0df 288.5px,#09f 289.5px,#48b 290.5px,#45b 292px,#808080 292px 370px,#00e 370px,#00f 371.5px,#0ef 379.5px,#1fe 381.5px,#9f6 388.5px,#cf3 400.5px,#cf3 411.5px,#af5 430.5px,#df2 445.5px,#fe0 467.5px,#f40 488.5px,#f10 490.5px,#f00 502.5px,#f20 509.5px,#f30 522.5px,#f00 523.5px,#f00 530px)"></i><i style="background:linear-gradient(#808080 0px 223px,#45b 223px,#47b 224.5px,#06f 225.5px,#0bf 227.5px,#0ef 231.5px,#0ff 241.5px,#9f6 258.5px,#bf4 267.5px,#8f7 276.5px,#2fd 285.5px,#0ef 287.5px,#08f 289.5px,#47b 290.5px,#44b 292px,#808080 292px 368px,#44b 368px,#44b 369.5px,#02f 370.5px,#0df 376.5px,#0ff 378.5px,#8f7 385.5px,#cf3 397.5px,#ef1 416.5px,#fd0 440.5px,#fd0 456.5px,#f60 484.5px,#f50 488.5px,#f10 490.5px,#f00 502.5px,#f20 522.5px,#e00 523.5px,#f00 530px)"></i><i style="background:linear-gradient(#808080 0px 223px,#45b 223px,#07f 224.5px,#0af 225.5px,#0ef 227.5px,#0ff 238.5px,#2fd 248.5px,#8f7 258.5px,#af5 267.5px,#7f8 277.5px,#2fd 285.5px,#0df 287.5px,#07f 289.5px,#46b 291px,#808080 291px 364px,#44b 364px,#46b 366.5px,#04f 367.5px,#0bf 370.5px,#2fd 373.5px,#9f6 378.5px,#af5 380.5px,#ef1 401.5px,#ff0 413.5px,#fe0 423.5px,#f90 445.5px,#fa0 467.5px,#f30 488.5px,#e00 490.5px,#f10 518.5px,#e00 530px)"></i><i style="background:linear-gradient(#808080 0px 224px,#05f 224px,#09f 225.5px,#0df 227.5px,#0ff 231.5px,#2fd 249.5px,#6f9 260.5px,#8f7 270.5px,#6f9 277.5px,#2fd 286.5px,#1de 289.5px,#0af 291.5px,#4ab 292.5px,#48b 294.5px,#44b 297px,#808080 297px 366px,#00e 366px,#0bf 371.5px,#1fe 374.5px,#6f9 378.5px,#8f7 381.5px,#cf3 389.5px,#ff0 398.5px,#fb0 440.5px,#f50 466.5px,#f60 481.5px,#f40 488.5px,#f00 490.5px,#f00 492.5px,#e00 502.5px,#f10 522.5px,#d00 523.5px,#d00 530px)"></i><i style="background:linear-gradient(#808080 0px 223px,#00b 223px,#02f 224.5px,#08f 226.5px,#0bf 228.5px,#1fe 242.5px,#7f8 256.5px,#8f7 267.5px,#6f9 277.5px,#1fe 287.5px,#0df 291.5px,#06f 294.5px,#48b 295.5px,#44b 298px,#808080 298px 363px,#44b 363px,#45b 364.5px,#03f 365.5px,#0bf 368.5px,#0ff 371.5px,#3fc 374.5px,#5fa 380.5px,#df2 396.5px,#fe0 400.5px,#fa0 411.5px,#fa0 435.5px,#f50 455.5px,#f30 480.5px,#f20 488.5px,#e00 490.5px,#f00 522.5px,#c00 523.5px,#c00 530px)"></i><i style="background:linear-gradient(#808080 0px 224px,#02e 224px,#08f 226.5px,#0bf 229.5px,#0ff 245.5px,#8f7 258.5px,#af5 265.5px,#8f7 272.5px,#1fe 282.5px,#0bf 286.5px,#03f 289.5px,#00d 291px,#808080 291px 363px,#44b 363px,#46b 365.5px,#04f 366.5px,#0cf 369.5px,#2fd 372.5px,#6f9 375.5px,#7f8 378.5px,#8f7 397.5px,#ef2 404.5px,#fd0 408.5px,#f80 416.5px,#f50 423.5px,#f60 450.5px,#f10 488.5px,#d00 490.5px,#f00 522.5px,#d00 523.5px,#c00 530px)"></i><i style="background:linear-gradient(#808080 0px 223px,#46b 223px,#08f 224.5px,#0df 226.5px,#0ff 229.5px,#1fe 242.5px,#9f6 259.5px,#af5 265.5px,#8f7 272.5px,#1fe 282.5px,#0bf 286.5px,#02e 289.5px,#44b 291px,#808080 291px 353px,#44b 353px,#4bb 357.5px,#7b8 359.5px,#48b 360.5px,#6c8 362.5px,#8f7 364.5px,#de2 370.5px,#fd0 388.5px,#fd0 410.5px,#f50 430.5px,#f40 463.5px,#f10 488.5px,#c00 490.5px,#e00 522.5px,#c00 523.5px,#c00 530px)"></i><i style="background:linear-gradient(#808080 0px 223px,#47b 223px,#0af 224.5px,#0ff 226.5px,#3fc 230.5px,#4fc 244.5px,#9f6 258.5px,#bf4 266.5px,#7f8 276.5px,#0ff 284.5px,#0ef 285.5px,#09f 287.5px,#01f 290px,#808080 290px 348px,#44b 348px,#4ab 352.5px,#07f 353.5px,#09f 354.5px,#4fb 358.5px,#af5 363.5px,#cf3 367.5px,#fc0 376.5px,#f80 389.5px,#f70 414.5px,#f40 433.5px,#f40 463.5px,#f10 488.5px,#d00 490.5px,#f00 518.5px,#f00 522.5px,#c00 523.5px,#c00 530px)"></i><i style="background:linear-gradient(#808080 0px 223px,#44b 223px,#06f 224.5px,#0df 226.5px,#1fe 229.5px,#af5 261.5px,#9f6 274.5px,#6f9 281.5px,#3fc 285.5px,#1de 287.5px,#08f 289.5px,#49b 290.5px,#46b 292px,#808080 292px 357px,#44b 357px,#4bb 362.5px,#6b9 365.5px,#38c 366.5px,#5fa 371.5px,#af5 375.5px,#df2 382.5px,#fc0 397.5px,#f60 411.5px,#f40 463.5px,#f20 480.5px,#e00 489.5px,#d00 490.5px,#f00 508.5px,#f10 522.5px,#d00 523.5px,#d00 530px)"></i><i style="background:linear-gradient(#808080 0px 223px,#01f 223px,#07f 224.5px,#0cf 226.5px,#0ef 229.5px,#0ff 233.5px,#3fc 243.5px,#bf4 256.5px,#cf3 263.5px,#9f6 274.5px,#4fb 284.5px,#1fe 287.5px,#0cf 289.5px,#04f 292px,#808080 292px 370px,#44b 370px,#48b 373.5px,#06f 374.5px,#09f 375.5px,#4fb 379.5px,#af5 384.5px,#ef1 391.5px,#fb0 405.5px,#f40 422.5px,#f40 463.5px,#f10 488.5px,#c00 490.5px,#f00 515.5px,#f10 522.5px,#d00 523.5px,#d00 530px)"></i><i style="background:linear-gradient(#808080 0px 223px,#02e 223px,#09f 225.5px,#0cf 227.5px,#0ff 237.5px,#af5 260.5px,#cf3 266.5px,#8f7 278.5px,#1fe 285.5px,#0ef 286.5px,#08f 288.5px,#46b 290px,#808080 290px 379px,#44b 379px,#01f 380.5px,#0af 384.5px,#0df 386.5px,#3fc 390.5px,#cf3 399.5px,#fe0 404.5px,#f50 425.5px,#f40 432.5px,#f40 478.5px,#f20 488.5px,#d00 490.5px,#d00 500.5px,#f00 522.5px,#c00 523.5px,#d00 530px)"></i><i style="background:linear-gradient(#808080 0px 222px,#47b 222px,#07f 223.5px,#0cf 225.5px,#0ff 228.5px,#2fd 239.5px,#5fa 249.5px,#af5 257.5px,#bf4 262.5px,#9f6 269.5px,#3fc 279.5px,#1de 286.5px,#0af 288.5px,#07f 289.5px,#48b 290.5px,#46b 292px,#808080 292px 376px,#44b 376px,#47b 379.5px,#05e 380.5px,#06f 381.5px,#0bf 385.5px,#0ef 397.5px,#cf3 409.5px,#fe0 414.5px,#f90 423.5px,#f40 443.5px,#f30 484.5px,#f20 488.5px,#e00 490.5px,#f00 522.5px,#c00 523.5px,#c00 530px)"></i><i style="background:linear-gradient(#808080 0px 223px,#04f 223px,#09f 224.5px,#0cf 225.5px,#1fe 228.5px,#3fc 238.5px,#cf3 256.5px,#ef1 264.5px,#af5 272.5px,#0ff 282.5px,#0cf 284.5px,#06f 286.5px,#47b 287.5px,#45b 289px,#808080 289px 379px,#44b 379px,#4ab 383.5px,#07f 384.5px,#1be 386.5px,#3fc 389.5px,#5fa 394.5px,#5fa 401.5px,#9f6 411.5px,#df2 417.5px,#fd0 422.5px,#f70 433.5px,#f50 449.5px,#f10 488.5px,#d00 490.5px,#f00 508.5px,#f00 521.5px,#f00 522.5px,#c00 523.5px,#c00 530px)"></i><i style="background:linear-gradient(#808080 0px 223px,#45b 223px,#06f 224.5px,#0cf 226.5px,#0ff 228.5px,#3fc 233.5px,#ef1 259.5px,#ff0 264.5px,#af4 273.5px,#1fe 284.5px,#0cf 286.5px,#04f 288.5px,#45b 290px,#808080 290px 385px,#44b 385px,#45b 386.5px,#03f 387.5px,#0bf 390.5px,#2fd 393.5px,#7f8 396.5px,#bf4 400.5px,#ef1 407.5px,#ee1 411.5px,#fe0 423.5px,#f60 440.5px,#f40 446.5px,#f40 463.5px,#f10 488.5px,#c00 490.5px,#f00 522.5px,#d00 523.5px,#c00 530px)"></i><i style="background:linear-gradient(#808080 0px 223px,#44b 223px,#06f 224.5px,#0df 226.5px,#0ff 228.5px,#4fb 240.5px,#9f6 247.5px,#ff0 254.5px,#ff0 267.5px,#df2 272.5px,#1fe 284.5px,#0df 286.5px,#08f 288.5px,#04f 289.5px,#44b 291px,#808080 291px 374px,#45b 374px,#4bb 378.5px,#6b9 381.5px,#38c 382.5px,#4cb 386.5px,#4fb 391.5px,#6f9 397.5px,#ef1 407.5px,#f80 422.5px,#f80 437.5px,#f40 451.5px,#f20 480.5px,#f10 488.5px,#f00 489.5px,#d00 490.5px,#f10 507.5px,#f10 522.5px,#e00 523.5px,#d00 530px)"></i><i style="background:linear-gradient(#808080 0px 223px,#00d 223px,#04f 224.5px,#0af 226.5px,#0ef 230.5px,#3fc 239.5px,#ef1 257.5px,#ff0 261.5px,#ef1 275.5px,#9f6 281.5px,#2fd 286.5px,#0bf 288.5px,#02f 291px,#808080 291px 373px,#44b 373px,#46b 374.5px,#04f 375.5px,#0cf 378.5px,#2fd 381.5px,#7f8 385.5px,#9f6 389.5px,#df2 400.5px,#ef1 409.5px,#ff0 412.5px,#f50 434.5px,#f30 480.5px,#f10 488.5px,#f00 489.5px,#d00 490.5px,#f00 505.5px,#f30 522.5px,#f00 523.5px,#f10 530px)"></i><i style="background:linear-gradient(#808080 0px 223px,#03f 223px,#08f 224.5px,#0bf 225.5px,#0ef 228.5px,#1fe 241.5px,#df2 258.5px,#ff0 264.5px,#ff0 269.5px,#af5 279.5px,#7f8 283.5px,#2fd 286.5px,#0df 287.5px,#09f 289px,#808080 289px 376px,#44b 376px,#02f 377.5px,#0ef 381.5px,#1fe 382.5px,#7f8 387.5px,#8f7 397.5px,#ef1 406.5px,#fe0 412.5px,#f40 449.5px,#f40 468.5px,#f10 488.5px,#f00 489.5px,#d00 490.5px,#f00 506.5px,#f20 522.5px,#e00 523.5px,#f00 530px)"></i><i style="background:linear-gradient(#808080 0px 223px,#44b 223px,#06f 224.5px,#0cf 226.5px,#1fe 229.5px,#5fa 249.5px,#bf4 265.5px,#8f7 278.5px,#3fc 285.5px,#0bf 288.5px,#49b 289.5px,#47b 291px,#808080 291px 370px,#44b 370px,#4bb 375.5px,#4bb 376.5px,#18d 377.5px,#5fa 382.5px,#cf3 387.5px,#df2 390.5px,#ed1 400.5px,#fe0 414.5px,#fa0 428.5px,#f40 457.5px,#f40 480.5px,#f20 488.5px,#e00 490.5px,#e00 500.5px,#f00 505.5px,#f20 522.5px,#f00 523.5px,#f00 530px)"></i><i style="background:linear-gradient(#808080 0px 223px,#45b 223px,#05f 224.5px,#09f 225.5px,#0cf 227.5px,#0ff 231.5px,#3fc 242.5px,#bf4 256.5px,#cf3 264.5px,#af5 271.5px,#2fd 282.5px,#0df 285.5px,#08f 287.5px,#04f 288.5px,#46b 289.5px,#44b 291px,#808080 291px 362px,#44b 362px,#49b 365.5px,#07f 366.5px,#4fb 371.5px,#9f6 376.5px,#ef1 391.5px,#fa0 410.5px,#fa0 431.5px,#f50 449.5px,#f30 485.5px,#f30 488.5px,#e00 490.5px,#f10 522.5px,#e00 523.5px,#f00 530px)"></i><i style="background:linear-gradient(#808080 0px 223px,#449 223px,#01f 224.5px,#05f 225.5px,#0af 227.5px,#0ef 235.5px,#1fe 240.5px,#cf3 258.5px,#df2 264.5px,#bf4 271.5px,#8f7 278.5px,#4fb 283.5px,#0ff 286.5px,#0af 288.5px,#05f 290px,#808080 290px 362px,#44b 362px,#48b 364.5px,#05f 365.5px,#09f 366.5px,#1be 367.5px,#4fb 370.5px,#9f6 373.5px,#cf3 377.5px,#ef1 388.5px,#ff0 401.5px,#fc0 415.5px,#fb0 440.5px,#f50 457.5px,#f20 488.5px,#e00 490.5px,#f00 502.5px,#f20 515.5px,#d00 530px)"></i><i style="background:linear-gradient(#808080 0px 224px,#01f 224px,#07f 226.5px,#0af 228.5px,#0ff 242.5px,#bf4 258.5px,#df2 265.5px,#9f6 274.5px,#1fe 284.5px,#0cf 286.5px,#05f 288.5px,#45b 290px,#808080 290px 371px,#44b 371px,#47b 373.5px,#05f 374.5px,#0bf 376.5px,#3fc 379.5px,#af5 384.5px,#cf3 389.5px,#ff0 397.5px,#ff0 408.5px,#fd0 444.5px,#f50 468.5px,#f10 488.5px,#f00 489.5px,#d00 490.5px,#f00 504.5px,#f20 522.5px,#f00 523.5px,#f00 530px)"></i><i style="background:linear-gradient(#808080 0px 223px,#45b 223px,#05f 224.5px,#0af 226.5px,#0df 229.5px,#1fe 241.5px,#af5 258.5px,#cf3 264.5px,#af5 271.5px,#1fe 284.5px,#0cf 286.5px,#06f 288.5px,#46b 290px,#808080 290px 368px,#44b 368px,#02f 369.5px,#0df 373.5px,#2fd 375.5px,#8f7 380.5px,#ef1 396.5px,#fd0 411.5px,#fd0 428.5px,#f80 464.5px,#f20 488.5px,#e00 490.5px,#f00 510.5px,#f10 522.5px,#d00 523.5px,#e00 530px)"></i><i style="background:linear-gradient(#808080 0px 223px,#45b 223px,#06f 224.5px,#09f 225.5px,#0df 227.5px,#0ff 232.5px,#3fc 241.5px,#cf3 257.5px,#df2 263.5px,#af5 271.5px,#1fe 282.5px,#0cf 284.5px,#06f 286.5px,#46b 288px,#808080 288px 362px,#45b 362px,#47b 363.5px,#05f 364.5px,#09f 365.5px,#1ce 366.5px,#5fa 369.5px,#bf4 374.5px,#fe0 388.5px,#fb0 422.5px,#fe0 441.5px,#f70 467.5px,#f30 488.5px,#f00 490.5px,#f10 522.5px,#d00 523.5px,#d00 530px)"></i><i style="background:linear-gradient(#808080 0px 223px,#46b 223px,#07f 224.5px,#0df 226.5px,#0ff 228.5px,#3fc 242.5px,#cf3 257.5px,#ff0 265.5px,#af5 274.5px,#1fe 283.5px,#0df 285.5px,#0af 286.5px,#01e 289px,#808080 289px 361px,#44b 361px,#49b 364.5px,#07f 365.5px,#0af 366.5px,#4fb 369.5px,#8f7 371.5px,#ef1 376.5px,#f90 411.5px,#fb0 423.5px,#fb0 457.5px,#f20 488.5px,#e00 490.5px,#f20 520.5px,#f20 522.5px,#e00 523.5px,#e00 530px)"></i><i style="background:linear-gradient(#808080 0px 223px,#00d 223px,#04f 224.5px,#07f 225.5px,#0bf 227.5px,#0ef 230.5px,#1fe 236.5px,#5fa 249.5px,#bf4 260.5px,#cf3 268.5px,#8f7 279.5px,#4fb 283.5px,#0ff 286.5px,#08f 288.5px,#03f 290px,#808080 290px 361px,#44b 361px,#47b 363.5px,#04e 364.5px,#0bf 367.5px,#3fc 371.5px,#cf3 381.5px,#fd0 388.5px,#f80 422.5px,#fa0 463.5px,#f20 488.5px,#e00 490.5px,#f20 522.5px,#e00 523.5px,#e00 530px)"></i><i style="background:linear-gradient(#808080 0px 223px,#44b 223px,#02f 224.5px,#08f 226.5px,#0af 228.5px,#0ff 242.5px,#4fb 249.5px,#bf4 256.5px,#ef1 263.5px,#df2 271.5px,#6f9 283.5px,#2fd 287.5px,#09f 290.5px,#4bb 291.5px,#45b 295px,#808080 295px 363px,#44b 363px,#46b 364.5px,#03f 365.5px,#0cf 369.5px,#2fd 372.5px,#5fa 375.5px,#ef1 394.5px,#fa0 411.5px,#f60 437.5px,#f90 464.5px,#f30 488.5px,#f00 490.5px,#f10 518.5px,#f10 522.5px,#e00 523.5px,#e00 530px)"></i><i style="background:linear-gradient(#808080 0px 222px,#04f 222px,#08f 223.5px,#0bf 224.5px,#0df 226.5px,#1fe 242.5px,#bf4 261.5px,#df2 268.5px,#af5 278.5px,#6f9 284.5px,#2fd 287.5px,#1ce 289.5px,#09f 290.5px,#4ab 291.5px,#46b 294px,#808080 294px 363px,#44b 363px,#02f 364.5px,#0cf 368.5px,#2fd 371.5px,#6f9 374.5px,#8f7 377.5px,#df2 389.5px,#ff0 411.5px,#f70 447.5px,#f90 467.5px,#f30 488.5px,#f00 490.5px,#f10 522.5px,#d00 523.5px,#e00 530px)"></i><i style="background:linear-gradient(#808080 0px 222px,#46b 222px,#08f 223.5px,#0df 225.5px,#0ff 227.5px,#2fd 241.5px,#af5 257.5px,#bf4 265.5px,#9f6 274.5px,#4fb 282.5px,#1fe 285.5px,#0ef 286.5px,#0cf 287.5px,#04f 290px,#808080 290px 363px,#44b 363px,#46b 365.5px,#03f 366.5px,#08f 368.5px,#0df 371.5px,#2fd 375.5px,#df2 389.5px,#fe0 395.5px,#fc0 400.5px,#fb0 411.5px,#ff0 435.5px,#fa0 455.5px,#f50 485.5px,#f40 488.5px,#f10 490.5px,#f00 522.5px,#d00 523.5px,#c00 530px)"></i><i style="background:linear-gradient(#808080 0px 223px,#06f 223px,#0bf 224.5px,#0ff 226.5px,#2fd 229.5px,#3fc 244.5px,#9f6 259.5px,#af5 266.5px,#7f8 276.5px,#1fe 284.5px,#0ff 285.5px,#0bf 287.5px,#02f 290px,#808080 290px 362px,#44b 362px,#4ab 366.5px,#08f 367.5px,#3dc 371.5px,#4fb 374.5px,#6f9 377.5px,#9f6 389.5px,#ef1 401.5px,#fb0 411.5px,#f90 422.5px,#fd0 455.5px,#fc0 462.5px,#f40 488.5px,#f00 490.5px,#f20 509.5px,#f10 522.5px,#e00 523.5px,#d00 530px)"></i><i style="background:linear-gradient(#808080 0px 223px,#04f 223px,#09f 224.5px,#0cf 225.5px,#1fe 227.5px,#3fc 231.5px,#4fb 241.5px,#af6 259.5px,#7f8 270.5px,#1fe 280.5px,#0ef 282.5px,#0cf 284.5px,#03e 287.5px,#44b 289px,#808080 289px 358px,#44b 358px,#47b 360.5px,#04f 361.5px,#0af 363.5px,#4fb 367.5px,#af5 371.5px,#ff0 380.5px,#fd0 389.5px,#ee1 400.5px,#ff0 411.5px,#f80 433.5px,#f60 444.5px,#f90 467.5px,#f40 488.5px,#f10 490.5px,#f20 522.5px,#f00 523.5px,#e00 530px)"></i><i style="background:linear-gradient(#808080 0px 224px,#03f 224px,#07f 225.5px,#0af 226.5px,#0cf 228.5px,#0ef 232.5px,#2fd 242.5px,#af5 255.5px,#bf4 263.5px,#9f6 271.5px,#1fe 283.5px,#0cf 287.5px,#07f 289.5px,#48b 290.5px,#45b 293px,#808080 293px 364px,#45b 364px,#03e 365.5px,#1de 369.5px,#2fd 371.5px,#9f6 375.5px,#ef1 381.5px,#fe0 384.5px,#f80 397.5px,#fd0 422.5px,#fd0 433.5px,#f60 456.5px,#f40 488.5px,#f10 490.5px,#f30 522.5px,#f00 523.5px,#f00 530px)"></i><i style="background:linear-gradient(#808080 0px 223px,#05f 223px,#09f 224.5px,#0cf 225.5px,#0ef 228.5px,#1fe 249.5px,#8f7 260.5px,#bf4 267.5px,#9f6 274.5px,#1fe 285.5px,#0df 288.5px,#06f 291.5px,#48b 292.5px,#44b 295px,#808080 295px 363px,#45b 363px,#47b 364.5px,#06f 365.5px,#1ce 367.5px,#3fc 369.5px,#cf3 373.5px,#fe0 376.5px,#f70 389.5px,#f50 395.5px,#f70 414.5px,#fb0 433.5px,#fb0 441.5px,#f90 463.5px,#f20 488.5px,#e00 490.5px,#f20 522.5px,#f00 523.5px,#f00 530px)"></i><i style="background:linear-gradient(#808080 0px 223px,#04f 223px,#08f 224.5px,#0cf 226.5px,#0ef 230.5px,#1fe 240.5px,#6f9 260.5px,#5fa 270.5px,#1fe 279.5px,#0cf 284.5px,#08f 286.5px,#01e 289px,#808080 289px 373px,#45b 373px,#4ab 376.5px,#18e 377.5px,#6f9 381.5px,#9f6 382.5px,#fb0 387.5px,#f80 390.5px,#f40 398.5px,#f50 423.5px,#fa0 444.5px,#fa0 463.5px,#f70 480.5px,#f40 488.5px,#f00 490.5px,#f00 502.5px,#f20 518.5px,#f20 522.5px,#e00 523.5px,#e00 530px)"></i><i style="background:linear-gradient(#808080 0px 223px,#45b 223px,#04f 224.5px,#0bf 226.5px,#0ef 230.5px,#0ff 241.5px,#2fd 250.5px,#6f9 257.5px,#7f8 262.5px,#6f9 271.5px,#0ff 281.5px,#0bf 286.5px,#07f 288.5px,#04f 289.5px,#45b 290.5px,#44a 292px,#808080 292px 382px,#45b 382px,#47b 383.5px,#06f 384.5px,#1de 386.5px,#5fa 388.5px,#af5 390.5px,#fc0 393.5px,#f70 397.5px,#f40 409.5px,#f50 444.5px,#f80 464.5px,#f50 485.5px,#f50 488.5px,#f10 490.5px,#f30 522.5px,#f10 523.5px,#f10 530px)"></i><i style="background:linear-gradient(#808080 0px 223px,#04f 223px,#09f 224.5px,#0cf 225.5px,#0ff 228.5px,#2fd 242.5px,#6f9 258.5px,#7f8 267.5px,#5fa 273.5px,#0ff 281.5px,#0af 285.5px,#04f 287.5px,#44b 289px,#808080 289px 386px,#02f 386px,#0df 389.5px,#1fe 390.5px,#ef1 395.5px,#fd0 396.5px,#fb0 397.5px,#f40 422.5px,#f50 480.5px,#f40 488.5px,#f00 490.5px,#f30 522.5px,#f00 523.5px,#f10 530px)"></i><i style="background:linear-gradient(#808080 0px 224px,#02f 224px,#09f 226.5px,#0df 229.5px,#2fd 242.5px,#7f8 255.5px,#9f6 262.5px,#8f8 269.5px,#0ff 280.5px,#0bf 285.5px,#06f 287.5px,#02f 289px,#808080 289px 382px,#45b 382px,#47b 383.5px,#07f 384.5px,#0df 386.5px,#3fc 388.5px,#cf3 392.5px,#ef1 394.5px,#f80 411.5px,#f80 422.5px,#f40 443.5px,#f40 480.5px,#f30 488.5px,#f00 490.5px,#f30 508.5px,#f30 519.5px,#f30 522.5px,#f00 523.5px,#f00 530px)"></i><i style="background:linear-gradient(#808080 0px 223px,#44a 223px,#02f 224.5px,#08f 226.5px,#0bf 229.5px,#0ef 244.5px,#1fe 250.5px,#7f8 259.5px,#9f6 269.5px,#1fe 288.5px,#0df 291.5px,#07f 293.5px,#02f 295px,#808080 295px 388px,#03f 388px,#0ef 391.5px,#2fd 392.5px,#df2 396.5px,#fc0 398.5px,#fb0 400.5px,#fb0 410.5px,#f90 425.5px,#fa0 444.5px,#f50 465.5px,#f30 488.5px,#f00 490.5px,#f40 522.5px,#f20 523.5px,#f10 530px)"></i><i style="background:linear-gradient(#808080 0px 223px,#44a 223px,#01e 224.5px,#05f 225.5px,#09f 227.5px,#0bf 229.5px,#0ff 244.5px,#8f7 259.5px,#9f6 266.5px,#7f8 272.5px,#0ff 281.5px,#0bf 285.5px,#07f 287.5px,#03f 288.5px,#44b 290px,#808080 290px 389px,#45b 389px,#46b 390.5px,#05f 391.5px,#0bf 393.5px,#2ed 395.5px,#4fc 396.5px,#df2 401.5px,#fe0 405.5px,#fa0 413.5px,#fa0 427.5px,#f70 441.5px,#fa0 455.5px,#fa0 463.5px,#f50 476.5px,#f30 488.5px,#f00 490.5px,#f10 502.5px,#f40 522.5px,#f20 523.5px,#f20 530px)"></i><i style="background:linear-gradient(#808080 0px 223px,#00f 223px,#05f 224.5px,#08f 225.5px,#0bf 227.5px,#0ff 241.5px,#7f8 254.5px,#9f6 261.5px,#6f9 269.5px,#1fe 276.5px,#09f 284.5px,#05f 286.5px,#01f 288px,#808080 288px 385px,#45b 385px,#47b 386.5px,#06f 387.5px,#0af 388.5px,#4fb 391.5px,#cf3 395.5px,#ee1 398.5px,#fe0 406.5px,#f80 425.5px,#fb0 444.5px,#fa0 464.5px,#f80 478.5px,#f40 488.5px,#f10 490.5px,#f30 522.5px,#f00 523.5px,#f10 530px)"></i><i style="background:linear-gradient(#808080 0px 223px,#45b 223px,#04f 224.5px,#07f 225.5px,#0bf 227.5px,#0ef 232.5px,#1fe 243.5px,#8f7 257.5px,#bf4 265.5px,#8f7 271.5px,#1fe 278.5px,#09f 288.5px,#06f 290.5px,#00f 292.5px,#449 294px,#808080 294px 384px,#45b 384px,#03f 385.5px,#0cf 388.5px,#2fd 390.5px,#bf4 395.5px,#df2 397.5px,#fd0 403.5px,#f90 411.5px,#f90 422.5px,#f60 434.5px,#f70 444.5px,#fa0 455.5px,#fb0 464.5px,#f70 485.5px,#f60 488.5px,#f20 490.5px,#f20 502.5px,#f30 522.5px,#f10 523.5px,#f10 530px)"></i><i style="background:linear-gradient(#808080 0px 223px,#02f 223px,#09f 225.5px,#0cf 229.5px,#0ff 242.5px,#7f8 257.5px,#9f6 266.5px,#8f7 271.5px,#1fe 278.5px,#09f 285.5px,#06f 287.5px,#02f 288.5px,#00d 290px,#808080 290px 383px,#45b 383px,#46b 384.5px,#05f 385.5px,#0cf 388.5px,#2fd 391.5px,#7f8 395.5px,#ef1 405.5px,#f90 416.5px,#f70 425.5px,#f60 455.5px,#f80 478.5px,#f60 488.5px,#f20 490.5px,#f30 522.5px,#f00 523.5px,#f00 530px)"></i><i style="background:linear-gradient(#808080 0px 223px,#04f 223px,#08f 224.5px,#0cf 226.5px,#0ef 229.5px,#1fe 233.5px,#2fd 241.5px,#9f6 259.5px,#7f8 267.5px,#1fe 273.5px,#07f 279.5px,#05f 282.5px,#04c 285.5px,#47b 286.5px,#45b 289px,#808080 289px 385px,#44b 385px,#46b 386.5px,#05f 387.5px,#0bf 389.5px,#1fe 391.5px,#8f6 397.5px,#df2 412.5px,#fd0 419.5px,#f50 434.5px,#f60 480.5px,#f50 488.5px,#f20 490.5px,#f20 522.5px,#e00 523.5px,#f00 530px)"></i><i style="background:linear-gradient(#808080 0px 222px,#00f 222px,#07f 224.5px,#0bf 226.5px,#1fe 242.5px,#9f6 256.5px,#bf4 263.5px,#af5 269.5px,#1fe 276.5px,#0ef 278.5px,#04f 286.5px,#02b 288.5px,#44b 290px,#808080 290px 392px,#44b 392px,#46b 393.5px,#04f 394.5px,#0de 397.5px,#3fc 399.5px,#9f6 403.5px,#bf4 405.5px,#df2 427.5px,#fc0 436.5px,#f80 445.5px,#f30 488.5px,#f00 490.5px,#f20 510.5px,#f20 522.5px,#e00 523.5px,#e00 530px)"></i><i style="background:linear-gradient(#808080 0px 222px,#00d 222px,#03f 223.5px,#06f 224.5px,#0af 227.5px,#0ff 241.5px,#7f8 254.5px,#9f6 261.5px,#6f8 269.5px,#1fe 274.5px,#0df 276.5px,#03f 285.5px,#02d 286.5px,#45b 287.5px,#44b 289px,#808080 289px 394px,#44b 394px,#03f 395.5px,#0ef 398.5px,#1fe 399.5px,#bf4 405.5px,#ef1 443.5px,#f90 460.5px,#f30 488.5px,#f00 490.5px,#f00 502.5px,#f30 522.5px,#f10 523.5px,#f00 530px)"></i><i style="background:linear-gradient(#808080 0px 222px,#009 222px,#00f 223.5px,#03f 224.5px,#07f 226.5px,#0af 229.5px,#0ef 237.5px,#1fe 242.5px,#8f7 257.5px,#af5 263.5px,#7f8 269.5px,#1fe 274.5px,#06f 280.5px,#02f 286.5px,#00f 287.5px,#00c 289px,#808080 289px 392px,#44b 392px,#48b 394.5px,#07f 395.5px,#0bf 396.5px,#3fc 399.5px,#af5 403.5px,#cf3 408.5px,#ef1 420.5px,#af5 434.5px,#bf4 441.5px,#ef1 451.5px,#f70 473.5px,#f40 488.5px,#f10 490.5px,#f00 502.5px,#f20 522.5px,#e00 523.5px,#f00 530px)"></i><i style="background:linear-gradient(#808080 0px 223px,#44b 223px,#04f 224.5px,#09f 226.5px,#0bf 228.5px,#0cf 237.5px,#1fe 245.5px,#8f7 257.5px,#af5 263.5px,#8f7 270.5px,#0ff 276.5px,#08f 281.5px,#07f 288.5px,#05f 290.5px,#03d 291.5px,#45b 292.5px,#44b 294px,#808080 294px 387px,#45b 387px,#47b 388.5px,#09f 389.5px,#0df 390.5px,#2fd 391.5px,#bf4 394.5px,#fe0 396.5px,#f90 399.5px,#fd0 410.5px,#ff0 419.5px,#ef1 434.5px,#bf4 450.5px,#bf4 455.5px,#df2 460.5px,#fd0 467.5px,#f80 476.5px,#f40 488.5px,#f00 490.5px,#f20 511.5px,#f20 522.5px,#e00 523.5px,#e00 530px)"></i><i style="background:linear-gradient(#808080 0px 222px,#44b 222px,#04f 223.5px,#0af 225.5px,#0df 228.5px,#1fe 246.5px,#9f6 259.5px,#bf4 265.5px,#9f6 270.5px,#0ff 276.5px,#0ef 277.5px,#08f 281.5px,#0af 289.5px,#07e 292.5px,#4bb 293.5px,#49b 295.5px,#46b 298px,#808080 298px 392px,#45b 392px,#47b 393.5px,#05f 394.5px,#09f 395.5px,#5fa 398.5px,#af5 400.5px,#dc2 403.5px,#fc0 405.5px,#fc0 411.5px,#ef0 424.5px,#cf3 435.5px,#af5 462.5px,#ef1 471.5px,#fe0 476.5px,#f60 488.5px,#f20 490.5px,#f00 502.5px,#f10 522.5px,#e00 523.5px,#e00 530px)"></i><i style="background:linear-gradient(#808080 0px 223px,#01f 223px,#06f 224.5px,#09f 225.5px,#0cf 227.5px,#0ff 241.5px,#8f7 257.5px,#9f6 263.5px,#8f7 269.5px,#2fd 274.5px,#0df 276.5px,#06f 281.5px,#04e 288.5px,#47b 289.5px,#44b 292px,#808080 292px 394px,#00e 394px,#0df 399.5px,#3fc 402.5px,#8f7 405.5px,#cf3 420.5px,#af5 441.5px,#cf3 463.5px,#ff0 477.5px,#f90 488.5px,#f50 490.5px,#f40 494.5px,#f20 502.5px,#f10 522.5px,#d00 523.5px,#d00 530px)"></i><i style="background:linear-gradient(#808080 0px 222px,#45b 222px,#05f 223.5px,#09f 224.5px,#0cf 225.5px,#0ff 228.5px,#2fe 243.5px,#9f6 263.5px,#7f8 269.5px,#2fe 273.5px,#0ff 274.5px,#06f 278.5px,#03f 281.5px,#00e 287.5px,#00c 288.5px,#448 290px,#808080 290px 393px,#44b 393px,#01f 394.5px,#0cf 398.5px,#2fd 401.5px,#5fa 404.5px,#7f8 441.5px,#ef1 464.5px,#fa0 485.5px,#f80 488.5px,#f50 490.5px,#f20 522.5px,#e00 523.5px,#e00 530px)"></i><i style="background:linear-gradient(#808080 0px 223px,#45b 223px,#03f 224.5px,#07f 225.5px,#0cf 227.5px,#0ef 231.5px,#2fd 240.5px,#9f6 261.5px,#7f8 268.5px,#2fd 273.5px,#0ff 274.5px,#07f 278.5px,#03f 281.5px,#05f 287.5px,#01e 290.5px,#44b 292px,#808080 292px 391px,#44b 391px,#4ab 395.5px,#07d 396.5px,#08e 397.5px,#4cb 401.5px,#4fb 404.5px,#6f9 407.5px,#9f6 453.5px,#ef1 466.5px,#fe0 470.5px,#fa0 478.5px,#f60 488.5px,#f30 490.5px,#f20 518.5px,#f20 522.5px,#e00 523.5px,#e00 530px)"></i><i style="background:linear-gradient(#808080 0px 222px,#448 222px,#00c 223.5px,#02f 224.5px,#07f 226.5px,#0af 229.5px,#1fe 244.5px,#8f7 257.5px,#af5 264.5px,#8f7 269.5px,#1fe 274.5px,#0ef 275.5px,#07f 278.5px,#03f 281.5px,#03f 283.5px,#05f 288.5px,#04f 290.5px,#03d 291.5px,#46b 292.5px,#44b 294px,#808080 294px 394px,#449 394px,#00b 395.5px,#01e 396.5px,#02f 397.5px,#08f 400.5px,#0ef 405.5px,#2fd 416.5px,#5fa 422.5px,#bf4 441.5px,#bf4 462.5px,#ef1 471.5px,#f70 488.5px,#f30 490.5px,#f30 516.5px,#f20 522.5px,#f00 523.5px,#e00 530px)"></i><i style="background:linear-gradient(#808080 0px 223px,#00c 223px,#02f 224.5px,#07f 226.5px,#08f 228.5px,#0ff 248.5px,#9f6 265.5px,#7f8 270.5px,#0ef 275.5px,#07f 279.5px,#05f 281.5px,#06f 284.5px,#0bf 290.5px,#09f 293.5px,#03f 295.5px,#44b 297px,#808080 297px 384px,#44a 384px,#44b 385.5px,#48b 388.5px,#05e 389.5px,#0df 393.5px,#2fd 396.5px,#4fb 400.5px,#0ff 422.5px,#3fc 429.5px,#ef1 444.5px,#ff0 448.5px,#fe0 456.5px,#fd0 478.5px,#f80 488.5px,#f40 490.5px,#f20 500.5px,#f40 522.5px,#f10 523.5px,#f10 530px)"></i><i style="background:linear-gradient(#808080 0px 222px,#448 222px,#00f 223.5px,#04f 224.5px,#09f 227.5px,#0cf 231.5px,#0ef 237.5px,#1fe 249.5px,#5fa 257.5px,#7f8 265.5px,#5fa 269.5px,#1fe 273.5px,#04f 279.5px,#02f 281.5px,#02f 283.5px,#04f 288.5px,#02f 290.5px,#02d 291.5px,#44b 292.5px,#449 294px,#808080 294px 388px,#449 388px,#44b 390.5px,#48b 393.5px,#4ab 398.5px,#06b 399.5px,#07e 402.5px,#0bf 410.5px,#0ef 428.5px,#4fb 440.5px,#df2 454.5px,#fd0 463.5px,#fb0 467.5px,#f70 488.5px,#f40 490.5px,#f10 522.5px,#d00 523.5px,#e00 530px)"></i><i style="background:linear-gradient(#808080 0px 223px,#01f 223px,#06f 224.5px,#08f 225.5px,#0af 227.5px,#0bf 238.5px,#0ef 243.5px,#2fd 247.5px,#8f7 256.5px,#9f6 263.5px,#7f8 268.5px,#0ff 273.5px,#04f 278.5px,#00f 281.5px,#01e 286.5px,#00b 288.5px,#44b 289.5px,#449 291px,#808080 291px 397px,#00b 397px,#01f 399.5px,#06f 402.5px,#09f 407.5px,#09f 416.5px,#0ff 436.5px,#fe0 470.5px,#f60 488.5px,#f20 490.5px,#f30 508.5px,#f10 522.5px,#d00 523.5px,#d00 530px)"></i><i style="background:linear-gradient(#808080 0px 222px,#00e 222px,#08f 224.5px,#0bf 226.5px,#0ff 240.5px,#2fd 249.5px,#6f9 257.5px,#7f8 264.5px,#6f9 268.5px,#2fd 272.5px,#0df 274.5px,#03f 279.5px,#01f 281.5px,#01e 286.5px,#00c 288.5px,#44b 289.5px,#449 291px,#808080 291px 394px,#44a 394px,#45b 396.5px,#02d 397.5px,#04f 399.5px,#0bf 404.5px,#0ef 410.5px,#2ed 422.5px,#1fe 438.5px,#af5 462.5px,#ef1 470.5px,#f70 488.5px,#f30 490.5px,#f20 502.5px,#f30 522.5px,#f00 523.5px,#e00 530px)"></i><i style="background:linear-gradient(#808080 0px 223px,#05f 223px,#0bf 225.5px,#0ef 228.5px,#0ff 240.5px,#9f6 261.5px,#7f8 267.5px,#2fd 272.5px,#0cf 274.5px,#03f 278.5px,#00f 280.5px,#01e 286.5px,#00a 289.5px,#448 291px,#808080 291px 397px,#00f 397px,#08f 400.5px,#0df 403.5px,#2fd 408.5px,#1fe 415.5px,#7f8 433.5px,#6f9 456.5px,#9f6 464.5px,#ef1 472.5px,#f70 488.5px,#f30 490.5px,#f30 522.5px,#f00 523.5px,#f00 530px)"></i><i style="background:linear-gradient(#808080 0px 222px,#46b 222px,#08f 223.5px,#0ef 225.5px,#1fe 227.5px,#1fe 244.5px,#af5 265.5px,#7f8 270.5px,#2fd 274.5px,#0df 276.5px,#07f 279.5px,#05f 281.5px,#06f 288.5px,#05f 290.5px,#05d 291.5px,#48b 292.5px,#44a 296px,#808080 296px 376px,#45b 376px,#4bb 380.5px,#ab5 386.5px,#bb4 389.5px,#798 390.5px,#8e7 394.5px,#dd2 401.5px,#ce3 416.5px,#8f7 433.5px,#df2 454.5px,#df2 463.5px,#fe0 472.5px,#fb0 480.5px,#f70 488.5px,#f30 490.5px,#f20 502.5px,#f20 522.5px,#f00 523.5px,#f00 530px)"></i><i style="background:linear-gradient(#808080 0px 222px,#45b 222px,#06f 223.5px,#0cf 225.5px,#0ef 228.5px,#5fa 263.5px,#4fb 269.5px,#2fd 272.5px,#0df 275.5px,#08f 278.5px,#06f 281.5px,#06f 283.5px,#0af 290.5px,#08f 292.5px,#02f 294.5px,#44a 296px,#808080 296px 365px,#45b 365px,#02f 366.5px,#0df 370.5px,#1fe 372.5px,#5fa 376.5px,#cf3 390.5px,#fd0 399.5px,#fb0 413.5px,#fe0 432.5px,#df2 441.5px,#ff0 455.5px,#f60 488.5px,#f30 490.5px,#f40 511.5px,#f30 522.5px,#e10 523.5px,#e00 530px)"></i><i style="background:linear-gradient(#808080 0px 223px,#46b 223px,#07f 224.5px,#0cf 226.5px,#0ef 229.5px,#1fe 257.5px,#1fe 264.5px,#0ef 270.5px,#01f 280.5px,#02f 287.5px,#02d 289.5px,#44b 290.5px,#44a 292px,#808080 292px 373px,#44b 373px,#47b 375.5px,#06f 376.5px,#0bf 378.5px,#2fd 381.5px,#7f8 386.5px,#9f6 397.5px,#ef1 408.5px,#fd0 421.5px,#fe0 441.5px,#f60 488.5px,#f40 490.5px,#f50 522.5px,#f40 523.5px,#f40 530px)"></i><i style="background:linear-gradient(#808080 0px 222px,#45b 222px,#09f 223.5px,#0cf 224.5px,#0fe 226.5px,#2fd 232.5px,#1fe 246.5px,#0ef 255.5px,#0bf 269.5px,#09f 272.5px,#02f 278.5px,#01f 281.5px,#02f 286.5px,#01e 288.5px,#00d 289.5px,#44a 291px,#808080 291px 376px,#44b 376px,#02f 377.5px,#0ef 381.5px,#1fe 382.5px,#9f6 387.5px,#ef1 409.5px,#fe0 420.5px,#fb0 433.5px,#fd0 445.5px,#fd0 450.5px,#f60 478.5px,#f60 530px)"></i><i style="background:linear-gradient(#808080 0px 222px,#05f 222px,#0bf 223.5px,#0ef 224.5px,#1fe 225.5px,#3fc 228.5px,#4fb 233.5px,#3fc 256.5px,#2fd 267.5px,#0df 272.5px,#06f 278.5px,#05f 281.5px,#09f 291.5px,#07f 293.5px,#01e 296px,#808080 296px 376px,#45b 376px,#47b 377.5px,#05f 378.5px,#0cf 380.5px,#4fb 383.5px,#af5 386.5px,#df2 388.5px,#fe0 395.5px,#fd0 400.5px,#ee1 409.5px,#ef1 411.5px,#bf4 421.5px,#fd0 435.5px,#f90 445.5px,#f90 466.5px,#f50 500.5px,#f70 530px)"></i><i style="background:linear-gradient(#808080 0px 222px,#01f 222px,#07f 223.5px,#0cf 225.5px,#1fe 229.5px,#7f8 264.5px,#5fa 269.5px,#1fe 274.5px,#0ef 276.5px,#0af 281.5px,#0df 288.5px,#0cf 290.5px,#0af 292.5px,#07f 293.5px,#46b 295px,#808080 295px 375px,#44b 375px,#03f 376.5px,#0df 379.5px,#1fe 380.5px,#cf3 386.5px,#fe0 392.5px,#fa0 400.5px,#fa0 409.5px,#ff0 414.5px,#6f9 424.5px,#8f7 433.5px,#cf3 444.5px,#fd0 453.5px,#f80 466.5px,#f50 530px)"></i><i style="background:linear-gradient(#808080 0px 223px,#01f 223px,#08f 225.5px,#0bf 228.5px,#1fe 243.5px,#6f9 257.5px,#7f8 266.5px,#6f9 271.5px,#1fe 277.5px,#0df 281.5px,#0cf 288.5px,#09f 290.5px,#06f 291.5px,#46b 293px,#808080 293px 376px,#45b 376px,#04f 377.5px,#0ef 380.5px,#1fe 381.5px,#bf4 387.5px,#ff0 395.5px,#fc0 402.5px,#fc0 409.5px,#ff0 415.5px,#7f8 424.5px,#6f9 436.5px,#8f8 448.5px,#cf3 460.5px,#fd0 470.5px,#f90 478.5px,#f70 488.5px,#f50 530px)"></i><i style="background:linear-gradient(#808080 0px 223px,#05f 223px,#09f 224.5px,#0bf 225.5px,#0df 227.5px,#0df 239.5px,#0ff 251.5px,#7f8 268.5px,#6fa 272.5px,#0ff 279.5px,#0ff 289.5px,#0ef 291.5px,#09f 293.5px,#49b 294.5px,#47b 296px,#808080 296px 373px,#44b 373px,#02f 374.5px,#0ef 378.5px,#1fe 379.5px,#9f6 383.5px,#bf4 385.5px,#ff0 399.5px,#fd0 409.5px,#fe0 417.5px,#bf4 426.5px,#6f9 441.5px,#8f7 465.5px,#df2 478.5px,#fd0 486.5px,#f80 500.5px,#f50 530px)"></i><i style="background:linear-gradient(#808080 0px 224px,#05f 224px,#0af 225.5px,#0ef 227.5px,#1fe 230.5px,#0ff 249.5px,#2fd 261.5px,#1fe 271.5px,#0cf 280.5px,#1fe 290.5px,#0ff 293.5px,#0cf 295.5px,#06f 297.5px,#45b 299px,#808080 299px 365px,#44b 365px,#03f 366.5px,#0ef 369.5px,#2fd 370.5px,#cf3 376.5px,#fe0 390.5px,#fa0 400.5px,#f90 412.5px,#fd0 429.5px,#df2 439.5px,#bf4 444.5px,#cf3 456.5px,#9f6 476.5px,#af5 485.5px,#df2 493.5px,#fd0 502.5px,#f80 516.5px,#f60 530px)"></i><i style="background:linear-gradient(#808080 0px 224px,#02f 224px,#07f 225.5px,#0af 226.5px,#0df 228.5px,#0ff 237.5px,#3fc 258.5px,#3fc 269.5px,#1fe 274.5px,#0af 283.5px,#0bf 294.5px,#09f 296.5px,#03f 298.5px,#449 300px,#808080 300px 369px,#46b 369px,#4bb 372.5px,#5ba 373.5px,#39c 374.5px,#7f8 378.5px,#9f6 379.5px,#ef1 384.5px,#fe0 394.5px,#f80 422.5px,#f80 434.5px,#fd0 455.5px,#df2 481.5px,#af5 496.5px,#df2 510.5px,#fd0 518.5px,#f90 530px)"></i><i style="background:linear-gradient(#808080 0px 224px,#01e 224px,#09f 226.5px,#0cf 228.5px,#0ef 230.5px,#1fe 237.5px,#6f9 267.5px,#5fa 272.5px,#2fd 281.5px,#3fc 291.5px,#2fd 295.5px,#0cf 299.5px,#09f 301.5px,#03e 304px,#808080 304px 375px,#45b 375px,#05f 376.5px,#0df 378.5px,#1fe 379.5px,#ef1 385.5px,#fe0 388.5px,#f80 440.5px,#fb0 481.5px,#fd0 491.5px,#df2 501.5px,#bf4 514.5px,#ee1 530px)"></i><i style="background:linear-gradient(#808080 0px 224px,#44a 224px,#03f 225.5px,#09f 227.5px,#0bf 229.5px,#1fe 249.5px,#6f8 269.5px,#4fb 282.5px,#4fb 296.5px,#3fc 300.5px,#0ff 302.5px,#09f 304.5px,#05f 306px,#808080 306px 375px,#44b 375px,#03f 376.5px,#1ee 379.5px,#2fd 380.5px,#ef1 385.5px,#fe0 387.5px,#f90 400.5px,#fa0 429.5px,#f80 452.5px,#f90 467.5px,#f90 495.5px,#fd0 512.5px,#cf3 530px)"></i><i style="background:linear-gradient(#808080 0px 225px,#01f 225px,#06f 226.5px,#09f 227.5px,#0cf 230.5px,#0ff 253.5px,#4fc 261.5px,#5fa 271.5px,#4fc 280.5px,#4fb 293.5px,#1fe 300.5px,#1de 302.5px,#09f 304.5px,#4ab 305.5px,#47b 308px,#808080 308px 375px,#45b 375px,#04f 376.5px,#0cf 378.5px,#3fc 380.5px,#df2 384.5px,#fc0 386.5px,#f70 395.5px,#f60 401.5px,#fa0 444.5px,#f60 467.5px,#f70 485.5px,#f60 510.5px,#fb0 530px)"></i><i style="background:linear-gradient(#808080 0px 226px,#02f 226px,#07f 227.5px,#0af 228.5px,#0df 231.5px,#0ff 249.5px,#6f9 270.5px,#1fe 294.5px,#0cf 297.5px,#08f 299.5px,#04f 300.5px,#45b 302px,#808080 302px 377px,#45b 377px,#05f 378.5px,#0cf 380.5px,#3fc 382.5px,#ef1 387.5px,#ff0 389.5px,#f90 397.5px,#f60 411.5px,#f50 424.5px,#fa0 457.5px,#f90 464.5px,#f40 478.5px,#f30 488.5px,#f10 490.5px,#f30 509.5px,#e10 530px)"></i><i style="background:linear-gradient(#808080 0px 226px,#45b 226px,#04f 227.5px,#0bf 229.5px,#0df 232.5px,#0ff 249.5px,#5fa 272.5px,#5fa 290.5px,#2fd 296.5px,#1de 298.5px,#09f 300.5px,#4ab 301.5px,#46b 304px,#808080 304px 373px,#44b 373px,#47b 375.5px,#06f 376.5px,#0df 378.5px,#3fc 380.5px,#df2 385.5px,#fe0 388.5px,#f90 400.5px,#f80 434.5px,#f60 445.5px,#f80 464.5px,#f60 480.5px,#f30 488.5px,#e00 490.5px,#d00 500.5px,#f10 522.5px,#d00 523.5px,#c00 530px)"></i><i style="background:linear-gradient(#808080 0px 227px,#02f 227px,#08f 229.5px,#0af 232.5px,#0bf 249.5px,#1fe 257.5px,#5fa 271.5px,#3fc 296.5px,#1fe 300.5px,#0ef 302.5px,#08f 304.5px,#47b 306px,#808080 306px 370px,#44b 370px,#02f 371.5px,#0bf 374.5px,#1fe 376.5px,#7f8 381.5px,#af5 389.5px,#cf3 392.5px,#fc0 401.5px,#f80 411.5px,#f80 422.5px,#fb0 442.5px,#f80 454.5px,#f40 480.5px,#f30 488.5px,#e00 490.5px,#f00 522.5px,#c00 523.5px,#c00 530px)"></i><i style="background:linear-gradient(#808080 0px 227px,#46b 227px,#07f 228.5px,#0df 230.5px,#0ef 233.5px,#0df 248.5px,#0ff 252.5px,#6f9 262.5px,#7f8 268.5px,#1fe 292.5px,#0df 295.5px,#09f 297.5px,#4ab 298.5px,#48b 300.5px,#44b 303px,#808080 303px 366px,#44b 366px,#02f 367.5px,#0cf 370.5px,#2fd 372.5px,#9f6 376.5px,#bf4 378.5px,#ff0 389.5px,#ff0 404.5px,#f90 427.5px,#f80 463.5px,#f50 471.5px,#f20 488.5px,#e00 490.5px,#f00 522.5px,#d00 523.5px,#c00 530px)"></i><i style="background:linear-gradient(#808080 0px 228px,#46b 228px,#48b 229.5px,#07f 230.5px,#0df 232.5px,#0ff 235.5px,#0ff 250.5px,#7f8 266.5px,#8f7 271.5px,#7f8 280.5px,#1fe 295.5px,#0cf 298.5px,#05f 300.5px,#45b 302px,#808080 302px 366px,#44b 366px,#46b 367.5px,#05f 368.5px,#0de 371.5px,#2fd 373.5px,#8f7 378.5px,#ff0 392.5px,#fd0 408.5px,#ff0 422.5px,#fa0 445.5px,#f90 463.5px,#f20 488.5px,#f00 489.5px,#d00 490.5px,#f00 522.5px,#d00 523.5px,#d00 530px)"></i><i style="background:linear-gradient(#808080 0px 228px,#45b 228px,#08f 229.5px,#0ef 231.5px,#1fe 233.5px,#1fe 239.5px,#0ff 242.5px,#0cf 249.5px,#0ef 252.5px,#5fa 264.5px,#6f9 270.5px,#6f9 277.5px,#2fe 292.5px,#0df 297.5px,#09f 299.5px,#05f 300.5px,#46b 301.5px,#44b 303px,#808080 303px 366px,#45b 366px,#4bb 369.5px,#5ba 370.5px,#29d 371.5px,#5fa 374.5px,#af5 376.5px,#ff0 380.5px,#fd0 396.5px,#fe0 405.5px,#fc0 422.5px,#fe0 441.5px,#f60 479.5px,#f30 488.5px,#e00 490.5px,#f00 522.5px,#d00 523.5px,#c00 530px)"></i><i style="background:linear-gradient(#808080 0px 229px,#45b 229px,#07f 230.5px,#0df 232.5px,#0ff 235.5px,#0ff 243.5px,#0df 249.5px,#0ff 257.5px,#5fa 273.5px,#4fb 281.5px,#0ff 291.5px,#0bf 296.5px,#07f 298.5px,#04f 299.5px,#44b 301px,#808080 301px 368px,#01f 368px,#0df 372.5px,#1fe 373.5px,#cf3 378.5px,#fd0 385.5px,#fb0 389.5px,#fb0 394.5px,#fd0 412.5px,#fd0 422.5px,#fa0 436.5px,#fc0 461.5px,#f60 477.5px,#f30 488.5px,#f00 490.5px,#f00 522.5px,#d00 523.5px,#d00 530px)"></i><i style="background:linear-gradient(#808080 0px 231px,#05f 231px,#0bf 232.5px,#0ef 233.5px,#1fe 234.5px,#3fc 237.5px,#2fd 248.5px,#5fa 273.5px,#4fb 280.5px,#1fe 286.5px,#0cf 292.5px,#09f 294.5px,#04f 296.5px,#02d 297.5px,#44b 299px,#808080 299px 364px,#44b 364px,#02f 365.5px,#0df 369.5px,#2fd 372.5px,#5fa 375.5px,#5fa 378.5px,#cf3 393.5px,#fd0 407.5px,#fc0 411.5px,#fb0 433.5px,#f90 449.5px,#fa0 466.5px,#f30 488.5px,#f00 490.5px,#f20 515.5px,#f20 522.5px,#e00 523.5px,#d00 530px)"></i><i style="background:linear-gradient(#808080 0px 230px,#47b 230px,#0bf 231.5px,#0ff 232.5px,#2fd 233.5px,#3fc 235.5px,#4fb 243.5px,#bf4 266.5px,#7f8 280.5px,#2fd 289.5px,#0df 293.5px,#09f 295.5px,#03f 297.5px,#45b 298.5px,#449 300px,#808080 300px 360px,#44b 360px,#4ab 363.5px,#08f 364.5px,#5fa 368.5px,#9f6 370.5px,#cf2 374.5px,#bf4 385.5px,#5fa 400.5px,#cf3 415.5px,#fd0 422.5px,#f70 433.5px,#fa0 458.5px,#f40 487.5px,#f40 488.5px,#f00 490.5px,#f10 522.5px,#e00 523.5px,#e00 530px)"></i><i style="background:linear-gradient(#808080 0px 230px,#49b 230px,#08f 231.5px,#1de 233.5px,#1fe 236.5px,#0ef 240.5px,#0af 249.5px,#0cf 251.5px,#3fc 255.5px,#7f8 259.5px,#af5 264.5px,#bf4 270.5px,#8f7 285.5px,#5fa 290.5px,#1fe 294.5px,#0ef 295.5px,#08f 297.5px,#47b 298.5px,#44b 300px,#808080 300px 351px,#44b 351px,#4bb 354.5px,#8b7 357.5px,#59a 358.5px,#7d8 360.5px,#8e7 362.5px,#ee1 368.5px,#fd0 373.5px,#fa0 389.5px,#fc0 398.5px,#bf4 411.5px,#cf3 422.5px,#ff0 427.5px,#f70 444.5px,#f70 455.5px,#f90 467.5px,#f20 488.5px,#e00 490.5px,#f10 522.5px,#d00 523.5px,#d00 530px)"></i><i style="background:linear-gradient(#808080 0px 233px,#46b 233px,#48b 234.5px,#09f 235.5px,#0ef 237.5px,#0ff 240.5px,#1ee 249.5px,#2fd 254.5px,#9f6 267.5px,#bf4 274.5px,#6f9 290.5px,#2fd 296.5px,#0df 298.5px,#07f 300.5px,#47b 302px,#808080 302px 344px,#44b 344px,#02f 345.5px,#0ef 349.5px,#bf4 355.5px,#df2 357.5px,#fc0 362.5px,#f80 368.5px,#f60 376.5px,#fb0 444.5px,#f40 485.5px,#f30 488.5px,#f00 490.5px,#f10 522.5px,#d00 523.5px,#d00 530px)"></i><i style="background:linear-gradient(#808080 0px 234px,#46b 234px,#48b 235.5px,#08f 236.5px,#0af 237.5px,#0cf 239.5px,#0cf 249.5px,#2fd 255.5px,#8f7 267.5px,#af5 277.5px,#7f8 289.5px,#2fd 297.5px,#0af 300.5px,#4ab 301.5px,#46b 304px,#808080 304px 341px,#45b 341px,#4bb 345.5px,#18e 346.5px,#4fb 351.5px,#9f6 356.5px,#df2 363.5px,#fd0 370.5px,#f70 380.5px,#f40 388.5px,#f40 399.5px,#f70 414.5px,#f60 434.5px,#fa0 463.5px,#f20 488.5px,#e00 490.5px,#f00 521.5px,#f00 522.5px,#c00 523.5px,#d00 530px)"></i><i style="background:linear-gradient(#808080 0px 236px,#45b 236px,#04f 237.5px,#07f 238.5px,#0af 240.5px,#07f 249.5px,#0ef 259.5px,#2fd 263.5px,#6f9 269.5px,#8f7 279.5px,#6f9 291.5px,#4fb 295.5px,#0ff 298.5px,#0df 299.5px,#07f 301.5px,#46b 303px,#808080 303px 343px,#44b 343px,#4bb 348.5px,#08f 349.5px,#2ed 353.5px,#3fc 355.5px,#7f8 359.5px,#ef1 371.5px,#fc0 380.5px,#f50 395.5px,#f40 402.5px,#f40 417.5px,#f80 441.5px,#f80 463.5px,#f50 480.5px,#f20 488.5px,#e00 490.5px,#f00 522.5px,#c00 523.5px,#c00 530px)"></i><i style="background:linear-gradient(#808080 0px 239px,#02f 239px,#06f 240.5px,#0af 242.5px,#09f 250.5px,#0ff 262.5px,#4fb 271.5px,#6f9 282.5px,#4fb 292.5px,#1fe 298.5px,#0df 300.5px,#06f 302.5px,#44b 304px,#808080 304px 344px,#44b 344px,#46b 346.5px,#04f 347.5px,#0bf 350.5px,#2fd 353.5px,#6f9 357.5px,#ef1 377.5px,#fe0 384.5px,#fa0 393.5px,#f40 423.5px,#f40 433.5px,#f70 452.5px,#f80 463.5px,#f30 488.5px,#e00 490.5px,#f00 522.5px,#c00 523.5px,#c00 530px)"></i><i style="background:linear-gradient(#808080 0px 239px,#00f 239px,#04f 240.5px,#08f 242.5px,#09f 249.5px,#1fe 257.5px,#4fb 265.5px,#6f9 273.5px,#5fa 283.5px,#0ff 296.5px,#0df 299.5px,#09f 301.5px,#05f 302.5px,#46b 303.5px,#44b 305px,#808080 305px 338px,#44b 338px,#4bb 342.5px,#6b9 344.5px,#39c 345.5px,#6f9 349.5px,#bf4 354.5px,#fd0 370.5px,#fd0 381.5px,#fd0 389.5px,#f90 411.5px,#f50 444.5px,#f70 469.5px,#f30 488.5px,#e00 490.5px,#f00 518.5px,#e00 522.5px,#c00 523.5px,#c00 530px)"></i><i style="background:linear-gradient(#808080 0px 239px,#44a 239px,#46b 240.5px,#03f 241.5px,#06f 242.5px,#08f 244.5px,#09f 250.5px,#0fe 259.5px,#5fa 271.5px,#7f8 278.5px,#5fa 287.5px,#0ff 295.5px,#0cf 298.5px,#04f 301.5px,#46b 302.5px,#44b 304px,#808080 304px 330px,#44b 330px,#4bb 335.5px,#8b7 341.5px,#58a 342.5px,#6f9 347.5px,#9f6 350.5px,#fc0 362.5px,#fa0 367.5px,#f60 388.5px,#fa0 411.5px,#f50 480.5px,#f30 488.5px,#f00 490.5px,#f00 522.5px,#d00 523.5px,#c00 530px)"></i><i style="background:linear-gradient(#808080 0px 239px,#449 239px,#01e 240.5px,#04f 241.5px,#08f 243.5px,#0af 249.5px,#0ef 254.5px,#1fe 257.5px,#4fb 264.5px,#6f9 275.5px,#5fa 284.5px,#1fe 294.5px,#0df 297.5px,#08f 299.5px,#49b 300.5px,#44b 304px,#808080 304px 349px,#44b 349px,#4bb 354.5px,#8b7 361.5px,#58a 362.5px,#6f9 367.5px,#af5 370.5px,#ce3 372.5px,#fd0 382.5px,#f60 400.5px,#fc0 424.5px,#f70 449.5px,#f50 480.5px,#f30 488.5px,#f00 490.5px,#f00 522.5px,#d00 523.5px,#d00 530px)"></i><i style="background:linear-gradient(#808080 0px 239px,#00d 239px,#02f 240.5px,#05f 242.5px,#04f 249.5px,#0df 256.5px,#2fd 259.5px,#7f8 267.5px,#8f7 277.5px,#6f9 284.5px,#0fe 294.5px,#0cf 297.5px,#08f 299.5px,#05f 300.5px,#02e 301.5px,#44a 303px,#808080 303px 365px,#44b 365px,#48b 367.5px,#05f 368.5px,#1be 370.5px,#4fb 373.5px,#af5 378.5px,#fe0 387.5px,#fb0 394.5px,#f80 415.5px,#f80 422.5px,#fd0 434.5px,#fe0 440.5px,#f70 456.5px,#f30 487.5px,#e00 490.5px,#f10 522.5px,#e00 523.5px,#d00 530px)"></i><i style="background:linear-gradient(#808080 0px 239px,#45b 239px,#03f 240.5px,#06f 241.5px,#08f 243.5px,#09f 250.5px,#0ff 260.5px,#6fa 273.5px,#6f9 279.5px,#4fa 289.5px,#1fe 294.5px,#0ff 295.5px,#0bf 297.5px,#04f 300px,#808080 300px 365px,#44b 365px,#02f 366.5px,#0cf 369.5px,#2fd 371.5px,#cf3 376.5px,#ff0 381.5px,#f60 411.5px,#f70 433.5px,#fa0 455.5px,#f40 473.5px,#f20 488.5px,#f00 489.5px,#d00 490.5px,#f00 506.5px,#f00 522.5px,#d00 523.5px,#d00 530px)"></i><i style="background:linear-gradient(#808080 0px 237px,#449 237px,#00c 238.5px,#01f 239.5px,#04f 241.5px,#09f 249.5px,#0ff 255.5px,#4fb 262.5px,#7f8 273.5px,#5fa 282.5px,#1fe 292.5px,#0cf 295.5px,#05f 297.5px,#00f 299px,#808080 299px 363px,#44b 363px,#49b 367.5px,#07f 368.5px,#09f 369.5px,#3fc 373.5px,#9f6 378.5px,#ef1 384.5px,#f90 393.5px,#f70 400.5px,#f50 441.5px,#f70 464.5px,#f40 480.5px,#f20 488.5px,#f00 489.5px,#e00 490.5px,#f10 522.5px,#d00 523.5px,#d00 530px)"></i><i style="background:linear-gradient(#808080 0px 237px,#00c 237px,#01e 238.5px,#02f 239.5px,#03f 240.5px,#00e 244.5px,#00b 248.5px,#00c 250.5px,#03f 253.5px,#0cf 258.5px,#3fc 262.5px,#7f8 269.5px,#9f6 278.5px,#6f9 289.5px,#2fd 294.5px,#0df 296.5px,#05f 299px,#808080 299px 359px,#44b 359px,#01f 360.5px,#0cf 364.5px,#0ff 366.5px,#6f9 370.5px,#ef1 380.5px,#fe0 383.5px,#f60 405.5px,#f40 415.5px,#f50 477.5px,#f30 488.5px,#e00 490.5px,#f10 522.5px,#d00 523.5px,#d00 530px)"></i><i style="background:linear-gradient(#808080 0px 237px,#44b 237px,#46b 238.5px,#03e 239.5px,#06f 242.5px,#03f 249.5px,#0cf 259.5px,#1fe 265.5px,#4fb 273.5px,#3fc 289.5px,#2dd 293.5px,#1ae 295.5px,#4bb 296.5px,#48b 299px,#808080 299px 360px,#44b 360px,#46b 362.5px,#04f 363.5px,#08f 365.5px,#0df 368.5px,#2fd 371.5px,#cf3 383.5px,#fd0 388.5px,#f70 400.5px,#f40 436.5px,#f50 466.5px,#f30 488.5px,#e00 490.5px,#f00 522.5px,#d00 523.5px,#d00 530px)"></i><i style="background:linear-gradient(#808080 0px 239px,#00d 239px,#02f 240.5px,#05f 242.5px,#06f 249.5px,#0ef 257.5px,#1fe 259.5px,#6f9 265.5px,#6f8 272.5px,#5fa 279.5px,#0ef 290.5px,#09f 295.5px,#00e 299px,#808080 299px 365px,#44b 365px,#02e 366.5px,#0df 371.5px,#1fe 373.5px,#4fb 376.5px,#df2 393.5px,#fd0 400.5px,#f80 409.5px,#f60 415.5px,#f40 448.5px,#f40 479.5px,#f20 488.5px,#e00 490.5px,#f20 516.5px,#d00 530px)"></i><i style="background:linear-gradient(#808080 0px 238px,#44b 238px,#02d 239.5px,#03f 240.5px,#05f 242.5px,#07f 250.5px,#0ff 260.5px,#5fa 269.5px,#6f8 277.5px,#4fb 285.5px,#0ff 292.5px,#0af 295.5px,#03f 297.5px,#44b 299px,#808080 299px 368px,#00e 368px,#0bf 372.5px,#0ff 374.5px,#7f8 378.5px,#df2 388.5px,#fe0 401.5px,#f80 416.5px,#f60 428.5px,#f40 480.5px,#f30 488.5px,#e00 490.5px,#f20 522.5px,#e00 523.5px,#e00 530px)"></i><i style="background:linear-gradient(#808080 0px 237px,#00d 237px,#02f 238.5px,#05f 240.5px,#04f 249.5px,#0cf 256.5px,#0ff 261.5px,#5fa 276.5px,#4fb 284.5px,#1fe 293.5px,#0cf 296.5px,#06f 298.5px,#46b 299.5px,#44b 301px,#808080 301px 363px,#44b 363px,#45b 364.5px,#04f 365.5px,#0cf 368.5px,#2fd 371.5px,#6f9 374.5px,#ef1 386.5px,#fa0 397.5px,#f40 434.5px,#f60 463.5px,#f20 488.5px,#e00 490.5px,#f00 522.5px,#d00 523.5px,#d00 530px)"></i><i style="background:linear-gradient(#808080 0px 238px,#44a 238px,#45b 239.5px,#02f 240.5px,#05f 242.5px,#02f 249.5px,#0cf 259.5px,#1fe 264.5px,#4fb 270.5px,#5fa 278.5px,#4fb 286.5px,#1fe 293.5px,#0df 296.5px,#07f 299.5px,#49b 300.5px,#45b 303px,#808080 303px 355px,#45b 355px,#4bb 359.5px,#ab5 363.5px,#798 364.5px,#8d7 367.5px,#ec1 373.5px,#fb0 381.5px,#f70 397.5px,#f70 423.5px,#f40 443.5px,#f70 467.5px,#f30 488.5px,#e00 490.5px,#f10 522.5px,#e00 523.5px,#d00 530px)"></i><i style="background:linear-gradient(#808080 0px 239px,#44a 239px,#45b 240.5px,#02e 241.5px,#02f 242.5px,#03f 249.5px,#0ef 258.5px,#0ff 261.5px,#6fa 278.5px,#4fb 286.5px,#0ff 294.5px,#0cf 297.5px,#07f 299.5px,#03f 300.5px,#44b 302px,#808080 302px 364px,#44b 364px,#46b 365.5px,#06f 366.5px,#1fe 369.5px,#df2 374.5px,#fe0 377.5px,#f70 389.5px,#f60 397.5px,#f50 411.5px,#f70 444.5px,#f60 481.5px,#f40 488.5px,#f00 490.5px,#f10 522.5px,#e00 523.5px,#e00 530px)"></i><i style="background:linear-gradient(#808080 0px 239px,#01f 239px,#04f 240.5px,#08f 242.5px,#09f 250.5px,#0df 255.5px,#1fe 261.5px,#6f9 273.5px,#4fb 283.5px,#1fe 292.5px,#0df 295.5px,#09f 297.5px,#06f 298.5px,#47b 299.5px,#45b 301px,#808080 301px 360px,#44b 360px,#49b 363.5px,#06f 364.5px,#09f 365.5px,#3fc 369.5px,#af5 374.5px,#ff0 380.5px,#f90 389.5px,#f60 397.5px,#f50 432.5px,#f80 463.5px,#f30 488.5px,#f00 490.5px,#f10 522.5px,#d00 523.5px,#d00 530px)"></i><i style="background:linear-gradient(#808080 0px 239px,#00b 239px,#01f 240.5px,#04f 241.5px,#08f 243.5px,#09f 249.5px,#1fe 257.5px,#6f9 264.5px,#7f8 271.5px,#4fb 283.5px,#1fe 290.5px,#0cf 294.5px,#07f 296.5px,#03f 297.5px,#45b 299px,#808080 299px 362px,#44b 362px,#49b 365.5px,#07f 366.5px,#1ce 368.5px,#4fb 371.5px,#9f6 376.5px,#df2 383.5px,#fd0 390.5px,#f80 400.5px,#fa0 422.5px,#f60 444.5px,#f80 463.5px,#f30 488.5px,#e00 490.5px,#f10 522.5px,#d00 523.5px,#d00 530px)"></i><i style="background:linear-gradient(#808080 0px 239px,#44a 239px,#01d 240.5px,#02f 241.5px,#06f 243.5px,#09f 249.5px,#0ef 255.5px,#1fe 257.5px,#5fa 265.5px,#7f8 274.5px,#6f9 280.5px,#0ff 289.5px,#0df 291.5px,#06f 294.5px,#47b 295.5px,#44a 298px,#808080 298px 369px,#45b 369px,#04f 370.5px,#0df 373.5px,#3fc 375.5px,#9f6 378.5px,#af4 380.5px,#ef1 398.5px,#fa0 419.5px,#fd0 441.5px,#fa0 452.5px,#f60 480.5px,#f40 488.5px,#f00 490.5px,#f10 522.5px,#d00 523.5px,#d00 530px)"></i><i style="background:linear-gradient(#808080 0px 239px,#00d 239px,#02f 240.5px,#05f 241.5px,#08f 243.5px,#0af 249.5px,#0ff 256.5px,#6fa 264.5px,#7f8 273.5px,#6f9 282.5px,#1fe 292.5px,#0cf 295.5px,#06f 297.5px,#46b 298.5px,#44b 300px,#808080 300px 368px,#44b 368px,#02f 369.5px,#0df 373.5px,#2fd 375.5px,#7f8 379.5px,#ef1 391.5px,#fe0 400.5px,#ff0 418.5px,#fb0 445.5px,#fb0 464.5px,#f50 488.5px,#f20 490.5px,#f20 512.5px,#f20 522.5px,#e00 523.5px,#e00 530px)"></i><i style="background:linear-gradient(#808080 0px 240px,#44a 240px,#03f 241.5px,#06f 242.5px,#08f 244.5px,#0af 250.5px,#0df 254.5px,#1fe 258.5px,#6f9 267.5px,#9f6 277.5px,#7f8 283.5px,#1fe 293.5px,#0cf 296.5px,#06f 298.5px,#46b 299.5px,#44b 301px,#808080 301px 373px,#44b 373px,#45b 374.5px,#03e 375.5px,#0cf 380.5px,#2fd 385.5px,#3fc 389.5px,#cf2 403.5px,#fe0 410.5px,#fd0 420.5px,#ff0 440.5px,#fb0 456.5px,#f70 480.5px,#f50 488.5px,#f20 490.5px,#f40 518.5px,#f40 522.5px,#f10 523.5px,#f10 530px)"></i><i style="background:linear-gradient(#808080 0px 240px,#02f 240px,#06f 241.5px,#09f 243.5px,#0bf 250.5px,#0ff 257.5px,#5fa 268.5px,#7f8 278.5px,#6f9 288.5px,#2fd 295.5px,#0df 298.5px,#08f 300.5px,#04f 301.5px,#45b 303px,#808080 303px 379px,#44b 379px,#48b 382.5px,#06f 383.5px,#0bf 385.5px,#0ff 387.5px,#1fe 388.5px,#4fb 392.5px,#4fb 400.5px,#df2 418.5px,#fe0 424.5px,#fc0 433.5px,#fd0 453.5px,#fc0 466.5px,#f50 488.5px,#f20 490.5px,#f50 522.5px,#f30 523.5px,#f30 530px)"></i><i style="background:linear-gradient(#808080 0px 238px,#44b 238px,#46b 239.5px,#03e 240.5px,#05f 241.5px,#09f 244.5px,#0ff 258.5px,#6f9 278.5px,#5fa 289.5px,#1fe 298.5px,#0cf 301.5px,#05f 303.5px,#47b 304.5px,#45b 306px,#808080 306px 381px,#45b 381px,#05f 382.5px,#0df 384.5px,#2fe 385.5px,#cf3 389.5px,#fe0 391.5px,#dd2 400.5px,#cf3 406.5px,#af5 413.5px,#cf3 420.5px,#ff0 426.5px,#fa0 441.5px,#f80 480.5px,#f50 488.5px,#f20 490.5px,#f20 502.5px,#f50 522.5px,#f20 523.5px,#f30 530px)"></i><i style="background:linear-gradient(#808080 0px 237px,#44a 237px,#02f 238.5px,#05f 239.5px,#08f 241.5px,#09f 249.5px,#1fe 262.5px,#4fb 270.5px,#6f9 278.5px,#1fe 297.5px,#0df 301.5px,#07f 304.5px,#48b 305.5px,#45b 308px,#808080 308px 380px,#44b 380px,#4ab 384.5px,#6ba 386.5px,#38c 387.5px,#7f8 392.5px,#ce3 396.5px,#dd2 400.5px,#fe0 411.5px,#df2 421.5px,#ff0 430.5px,#f90 449.5px,#f70 480.5px,#f50 488.5px,#f10 490.5px,#f30 518.5px,#f30 522.5px,#f00 523.5px,#f10 530px)"></i><i style="background:linear-gradient(#808080 0px 236px,#02f 236px,#06f 237.5px,#09f 238.5px,#0bf 240.5px,#0bf 249.5px,#0ff 267.5px,#4fb 276.5px,#5fa 284.5px,#5fa 289.5px,#2fd 297.5px,#1de 301.5px,#08f 304.5px,#4ab 305.5px,#47b 308.5px,#44a 311px,#808080 311px 389px,#44a 389px,#00f 390.5px,#0af 394.5px,#0ef 397.5px,#2fd 399.5px,#8f7 417.5px,#ff0 430.5px,#f80 467.5px,#f60 485.5px,#f60 488.5px,#f20 490.5px,#f30 522.5px,#f00 523.5px,#f00 530px)"></i><i style="background:linear-gradient(#808080 0px 236px,#46b 236px,#07f 237.5px,#0bf 239.5px,#0cf 241.5px,#0cf 250.5px,#0ff 259.5px,#5fa 281.5px,#3fc 295.5px,#0fe 306.5px,#0cf 309.5px,#08f 311.5px,#49b 312.5px,#44b 315px,#808080 315px 390px,#449 390px,#44b 392.5px,#47b 395.5px,#03d 396.5px,#05f 399.5px,#08f 405.5px,#0cf 414.5px,#2fd 422.5px,#cf3 435.5px,#fe0 442.5px,#fc0 449.5px,#fb0 465.5px,#f50 488.5px,#f20 490.5px,#f40 511.5px,#f30 522.5px,#f00 523.5px,#f00 530px)"></i><i style="background:linear-gradient(#808080 0px 236px,#07f 236px,#0df 238.5px,#0ef 240.5px,#1fe 257.5px,#7f8 289.5px,#5fa 299.5px,#1fe 309.5px,#0df 313.5px,#08f 315.5px,#05f 316.5px,#44b 318px,#808080 318px 401px,#448 401px,#449 402.5px,#00a 403.5px,#00f 407.5px,#01f 411.5px,#04f 418.5px,#0cf 425.5px,#2fd 429.5px,#9f6 436.5px,#ff0 447.5px,#f90 478.5px,#f60 488.5px,#f30 490.5px,#f50 522.5px,#f20 523.5px,#f10 530px)"></i><i style="background:linear-gradient(#808080 0px 236px,#05f 236px,#0cf 238.5px,#0ef 240.5px,#1fe 247.5px,#6f9 287.5px,#6f9 302.5px,#4fb 308.5px,#2fd 311.5px,#0bf 314.5px,#08f 315.5px,#49b 316.5px,#47b 318px,#808080 318px 400px,#449 400px,#44b 402.5px,#01c 403.5px,#04f 406.5px,#0af 411.5px,#0bf 419.5px,#3fc 432.5px,#df2 446.5px,#fe0 452.5px,#f60 488.5px,#f30 490.5px,#f40 522.5px,#f20 523.5px,#f20 530px)"></i><i style="background:linear-gradient(#808080 0px 236px,#04f 236px,#08f 237.5px,#0cf 239.5px,#09f 250.5px,#0cf 254.5px,#2cd 262.5px,#3fc 269.5px,#5fa 275.5px,#7f8 287.5px,#2fd 308.5px,#0df 314.5px,#0cf 315.5px,#05f 317.5px,#47b 319px,#808080 319px 389px,#44b 389px,#4ab 394.5px,#06e 395.5px,#1ce 399.5px,#1ee 404.5px,#1fe 416.5px,#4fa 422.5px,#ef1 432.5px,#ed1 443.5px,#fe0 455.5px,#fe0 463.5px,#f50 488.5px,#f20 490.5px,#f50 518.5px,#f50 522.5px,#f20 523.5px,#f20 530px)"></i><i style="background:linear-gradient(#808080 0px 236px,#008 236px,#00d 237.5px,#01f 238.5px,#05f 241.5px,#08f 249.5px,#0ef 256.5px,#2dd 263.5px,#0cf 278.5px,#0df 282.5px,#6f9 296.5px,#4fb 302.5px,#1fe 308.5px,#0df 310.5px,#08f 312.5px,#48b 313.5px,#45b 316px,#808080 316px 374px,#44b 374px,#4bb 379.5px,#5ba 380.5px,#28d 381.5px,#4eb 386.5px,#4fb 388.5px,#6f9 391.5px,#6f9 415.5px,#ef1 431.5px,#f90 445.5px,#f70 451.5px,#f90 467.5px,#f80 480.5px,#f60 488.5px,#f20 490.5px,#f20 502.5px,#f50 522.5px,#f20 523.5px,#f20 530px)"></i><i style="background:linear-gradient(#808080 0px 236px,#01e 236px,#06f 238.5px,#08f 240.5px,#08f 249.5px,#0ff 258.5px,#6f9 266.5px,#9f6 276.5px,#4fb 284.5px,#3dc 288.5px,#0df 294.5px,#0bf 300.5px,#1ce 303.5px,#0cf 308.5px,#09f 310.5px,#06f 311.5px,#47b 313px,#808080 313px 375px,#45b 375px,#04f 376.5px,#0ef 379.5px,#2fe 380.5px,#9f6 384.5px,#bf4 386.5px,#bf4 399.5px,#9f6 413.5px,#bf4 422.5px,#ff0 429.5px,#f90 447.5px,#f50 488.5px,#f10 490.5px,#f40 521.5px,#f40 522.5px,#f10 523.5px,#f10 530px)"></i><i style="background:linear-gradient(#808080 0px 234px,#44a 234px,#46b 235.5px,#05f 236.5px,#09f 238.5px,#0bf 241.5px,#0cf 254.5px,#0ef 262.5px,#2fd 268.5px,#7f8 279.5px,#8f7 288.5px,#5fa 297.5px,#2fd 301.5px,#0cf 306.5px,#03f 311.5px,#00c 313.5px,#449 315px,#808080 315px 372px,#44b 372px,#49b 375.5px,#06f 376.5px,#0be 378.5px,#4fb 381.5px,#cf3 386.5px,#ef1 389.5px,#fd0 397.5px,#fd0 419.5px,#f70 456.5px,#f50 480.5px,#f40 488.5px,#f00 490.5px,#f30 522.5px,#f00 523.5px,#f00 530px)"></i><i style="background:linear-gradient(#808080 0px 236px,#00e 236px,#07f 238.5px,#0bf 241.5px,#1fe 267.5px,#3fc 284.5px,#4fb 297.5px,#3fc 304.5px,#1fe 308.5px,#0cf 310.5px,#06f 312.5px,#46b 313.5px,#44b 315px,#808080 315px 367px,#45b 367px,#04f 368.5px,#0bf 370.5px,#2fd 372.5px,#bf4 377.5px,#df2 389.5px,#ff0 393.5px,#fb0 421.5px,#f60 442.5px,#f70 461.5px,#f40 488.5px,#f10 490.5px,#f20 522.5px,#f00 523.5px,#f00 530px)"></i><i style="background:linear-gradient(#808080 0px 236px,#00a 236px,#01e 237.5px,#03f 238.5px,#07f 240.5px,#09f 243.5px,#1fe 270.5px,#4fb 283.5px,#0ef 305.5px,#0bf 310.5px,#09f 312.5px,#04f 314.5px,#45b 315.5px,#44a 317px,#808080 317px 365px,#44b 365px,#03f 366.5px,#0df 369.5px,#3fc 371.5px,#bf4 375.5px,#ef1 379.5px,#f80 391.5px,#f80 397.5px,#fd0 411.5px,#fd0 421.5px,#fb0 435.5px,#f60 454.5px,#f60 480.5px,#f40 488.5px,#f10 490.5px,#f30 513.5px,#f20 522.5px,#e00 523.5px,#e00 530px)"></i><i style="background:linear-gradient(#808080 0px 236px,#00d 236px,#03f 237.5px,#07f 240.5px,#08f 250.5px,#0df 259.5px,#1fe 266.5px,#5fa 287.5px,#4fb 294.5px,#1fe 304.5px,#0cf 309.5px,#04f 314.5px,#01e 315.5px,#44a 317px,#808080 317px 365px,#44b 365px,#46b 366.5px,#04f 367.5px,#0cf 369.5px,#2fc 371.5px,#bf4 375.5px,#ef1 377.5px,#fe0 382.5px,#f90 393.5px,#f70 403.5px,#f70 411.5px,#fb0 423.5px,#fd0 434.5px,#fc0 441.5px,#f60 467.5px,#f50 488.5px,#f10 490.5px,#f40 522.5px,#f20 523.5px,#f10 530px)"></i><i style="background:linear-gradient(#808080 0px 236px,#01e 236px,#09f 238.5px,#0cf 241.5px,#1fe 265.5px,#6f9 290.5px,#6f9 300.5px,#1fe 312.5px,#0df 315.5px,#09f 317.5px,#06f 318.5px,#46b 319.5px,#44b 321px,#808080 321px 364px,#45b 364px,#04f 365.5px,#0ee 368.5px,#ef1 374.5px,#ff0 376.5px,#f80 390.5px,#f40 410.5px,#f50 424.5px,#fc0 444.5px,#fc0 452.5px,#f40 488.5px,#f00 490.5px,#f40 521.5px,#f40 522.5px,#f10 523.5px,#f20 530px)"></i><i style="background:linear-gradient(#808080 0px 236px,#00d 236px,#03f 237.5px,#06f 238.5px,#0bf 241.5px,#0ff 260.5px,#5fa 277.5px,#6f9 287.5px,#5fa 309.5px,#1fe 317.5px,#0cf 319.5px,#06f 321.5px,#47b 323px,#808080 323px 360px,#44b 360px,#02f 361.5px,#0df 364.5px,#1fe 365.5px,#cf3 370.5px,#ff0 372.5px,#f70 386.5px,#f40 396.5px,#f50 413.5px,#f40 440.5px,#f60 447.5px,#fa0 456.5px,#fc0 464.5px,#f40 488.5px,#f10 490.5px,#f00 501.5px,#f30 522.5px,#f10 523.5px,#f10 530px)"></i><i style="background:linear-gradient(#808080 0px 236px,#448 236px,#00a 237.5px,#02e 239.5px,#03f 243.5px,#0ef 262.5px,#1fe 269.5px,#5fa 283.5px,#6f9 292.5px,#6f9 299.5px,#1fe 316.5px,#0ef 318.5px,#0cf 320.5px,#06f 322.5px,#02f 324px,#808080 324px 357px,#44b 357px,#04f 358.5px,#0ef 361.5px,#ef1 367.5px,#ff0 368.5px,#f80 383.5px,#f40 397.5px,#f40 411.5px,#f60 433.5px,#f40 455.5px,#f90 478.5px,#f60 488.5px,#f30 490.5px,#f10 502.5px,#f20 522.5px,#e00 523.5px,#f00 530px)"></i><i style="background:linear-gradient(#808080 0px 234px,#45b 234px,#03c 235.5px,#04e 236.5px,#06f 239.5px,#04f 243.5px,#00b 250.5px,#00e 254.5px,#0df 272.5px,#1fe 279.5px,#4fb 286.5px,#5fa 297.5px,#4fb 311.5px,#0fe 321.5px,#0cf 324.5px,#08f 326.5px,#04f 327.5px,#45b 329px,#808080 329px 360px,#45b 360px,#03f 361.5px,#0cf 364.5px,#4fb 367.5px,#cf3 371.5px,#fd0 376.5px,#f80 385.5px,#f50 396.5px,#f50 433.5px,#f80 456.5px,#f40 488.5px,#f10 490.5px,#f30 508.5px,#f20 522.5px,#e00 523.5px,#e00 530px)"></i><i style="background:linear-gradient(#808080 0px 234px,#46b 234px,#06f 235.5px,#09f 236.5px,#0df 238.5px,#0ff 242.5px,#1fe 249.5px,#08f 262.5px,#08f 265.5px,#0af 271.5px,#0fe 280.5px,#6f9 294.5px,#5fa 303.5px,#0ff 320.5px,#0cf 324.5px,#07f 326.5px,#03f 327.5px,#44b 329px,#808080 329px 355px,#45b 355px,#48b 357.5px,#06f 358.5px,#0be 360.5px,#4fb 364.5px,#8f7 368.5px,#ef1 378.5px,#f40 397.5px,#f90 422.5px,#f60 453.5px,#f70 478.5px,#f50 488.5px,#f10 490.5px,#f40 518.5px,#f30 522.5px,#f00 523.5px,#f00 530px)"></i><i style="background:linear-gradient(#808080 0px 236px,#44b 236px,#05f 237.5px,#09f 238.5px,#0cf 240.5px,#0ff 246.5px,#5fa 263.5px,#3fc 268.5px,#1de 275.5px,#0df 280.5px,#0ff 282.5px,#8f7 294.5px,#8f7 297.5px,#6f9 309.5px,#1fe 317.5px,#1de 319.5px,#09f 321.5px,#4bb 322.5px,#4ab 323.5px,#48b 325.5px,#44b 328px,#808080 328px 353px,#44b 353px,#02f 354.5px,#0ef 358.5px,#2fd 359.5px,#bf4 364.5px,#ff0 372.5px,#fb0 379.5px,#f60 397.5px,#f60 414.5px,#fc0 433.5px,#fc0 441.5px,#f70 456.5px,#f40 488.5px,#f10 490.5px,#f40 522.5px,#f10 523.5px,#f10 530px)"></i><i style="background:linear-gradient(#808080 0px 236px,#04f 236px,#08f 237.5px,#0bf 238.5px,#0ff 241.5px,#3fc 254.5px,#7f8 265.5px,#9f6 277.5px,#8f7 280.5px,#9f6 292.5px,#8f7 298.5px,#6f9 309.5px,#3fc 313.5px,#1de 315.5px,#09f 317.5px,#4ab 318.5px,#46b 321px,#808080 321px 358px,#45b 358px,#47b 359.5px,#06f 360.5px,#0cf 362.5px,#2fd 364.5px,#af5 368.5px,#cf3 370.5px,#ef0 377.5px,#f60 400.5px,#f70 425.5px,#fc0 448.5px,#fb0 455.5px,#f50 470.5px,#f30 488.5px,#f00 490.5px,#f30 517.5px,#f30 522.5px,#f00 523.5px,#f10 530px)"></i><i style="background:linear-gradient(#808080 0px 234px,#47b 234px,#06f 235.5px,#0bf 236.5px,#0ef 237.5px,#1fe 239.5px,#3fc 244.5px,#2fd 250.5px,#8f7 265.5px,#af5 281.5px,#8f8 295.5px,#5fa 305.5px,#2fd 309.5px,#0bf 312.5px,#08f 313.5px,#49b 314.5px,#47b 316px,#808080 316px 360px,#45b 360px,#46b 361.5px,#05f 362.5px,#0cf 364.5px,#3fc 366.5px,#bf4 370.5px,#ff0 373.5px,#f90 389.5px,#f50 419.5px,#f60 441.5px,#fa0 463.5px,#f20 488.5px,#f00 489.5px,#e00 490.5px,#f00 502.5px,#f20 508.5px,#f40 522.5px,#f20 523.5px,#f10 530px)"></i><i style="background:linear-gradient(#808080 0px 233px,#07f 233px,#0cf 234.5px,#0ff 235.5px,#3fc 238.5px,#3fc 250.5px,#af5 266.5px,#af5 273.5px,#9f6 284.5px,#5fa 296.5px,#2fd 301.5px,#0cf 307.5px,#07f 309.5px,#05d 310.5px,#46b 312px,#808080 312px 361px,#01f 361px,#0bf 364.5px,#1fe 366.5px,#af5 371.5px,#ef1 379.5px,#fe0 383.5px,#f80 397.5px,#f60 408.5px,#f40 442.5px,#f80 470.5px,#f70 478.5px,#f40 488.5px,#f10 490.5px,#f00 502.5px,#f30 522.5px,#f10 523.5px,#f20 530px)"></i><i style="background:linear-gradient(#808080 0px 233px,#48b 233px,#0bf 234.5px,#0ef 235.5px,#1fe 236.5px,#3fc 240.5px,#2fd 250.5px,#9f6 277.5px,#af5 284.5px,#8f7 291.5px,#0ff 306.5px,#0cf 309.5px,#07f 311.5px,#03f 312.5px,#44b 314px,#808080 314px 359px,#44b 359px,#47b 361.5px,#05f 362.5px,#0bf 364.5px,#1ee 366.5px,#af5 372.5px,#ff0 379.5px,#fc0 387.5px,#f80 413.5px,#f50 447.5px,#f60 480.5px,#f50 488.5px,#f10 490.5px,#f30 522.5px,#f00 523.5px,#f10 530px)"></i><i style="background:linear-gradient(#808080 0px 233px,#04f 233px,#09f 234.5px,#0df 235.5px,#1fe 237.5px,#3fc 241.5px,#2fd 250.5px,#6f8 264.5px,#7f8 273.5px,#5fa 300.5px,#1fe 307.5px,#0df 309.5px,#0bf 310.5px,#03f 313px,#808080 313px 355px,#44b 355px,#46b 356.5px,#04f 357.5px,#0df 360.5px,#2fd 362.5px,#8f7 367.5px,#af5 377.5px,#df2 382.5px,#fc0 390.5px,#f70 400.5px,#f80 413.5px,#f70 445.5px,#f50 481.5px,#f40 488.5px,#f00 490.5px,#f30 517.5px,#f30 522.5px,#f00 523.5px,#f00 530px)"></i><i style="background:linear-gradient(#808080 0px 233px,#00e 233px,#06f 236.5px,#0bf 247.5px,#1be 250.5px,#3fc 256.5px,#8f7 265.5px,#af5 278.5px,#8f7 288.5px,#0ff 306.5px,#0bf 310.5px,#07f 312.5px,#03f 313.5px,#44b 315px,#808080 315px 352px,#44b 352px,#47b 355.5px,#06f 356.5px,#0cf 359.5px,#2fd 363.5px,#9f6 378.5px,#af5 389.5px,#cf3 398.5px,#fc0 404.5px,#f80 411.5px,#f60 418.5px,#f80 460.5px,#f40 488.5px,#f00 490.5px,#f00 504.5px,#f20 522.5px,#e00 523.5px,#f00 530px)"></i><i style="background:linear-gradient(#808080 0px 234px,#03f 234px,#07f 235.5px,#09f 236.5px,#0cf 238.5px,#0bf 250.5px,#0ef 259.5px,#1fe 263.5px,#4fb 268.5px,#8f6 290.5px,#6f9 300.5px,#2fd 307.5px,#0cf 311.5px,#04e 314.5px,#45b 316px,#808080 316px 347px,#00e 347px,#0df 352.5px,#0ff 354.5px,#5fa 358.5px,#af5 368.5px,#bf4 373.5px,#bf4 397.5px,#ff0 405.5px,#f80 420.5px,#f50 431.5px,#f80 467.5px,#f70 478.5px,#f50 485.5px,#f40 488.5px,#f10 490.5px,#f00 522.5px,#c00 523.5px,#c00 530px)"></i><i style="background:linear-gradient(#808080 0px 232px,#44a 232px,#46b 233.5px,#05f 234.5px,#0bf 236.5px,#0df 239.5px,#0cf 249.5px,#1fe 259.5px,#5fa 274.5px,#6f9 283.5px,#2fd 306.5px,#0ff 312.5px,#0cf 314.5px,#07f 316.5px,#48b 317.5px,#44b 320px,#808080 320px 349px,#44b 349px,#4ab 353.5px,#07f 354.5px,#3ec 359.5px,#4fb 361.5px,#7f8 365.5px,#df2 380.5px,#ef1 388.5px,#df2 400.5px,#ff0 406.5px,#f70 422.5px,#f40 434.5px,#f60 480.5px,#f50 488.5px,#f20 490.5px,#f10 522.5px,#e00 523.5px,#d00 530px)"></i><i style="background:linear-gradient(#808080 0px 230px,#449 230px,#45b 231.5px,#04f 232.5px,#09f 234.5px,#0af 236.5px,#0df 249.5px,#0ff 254.5px,#5fa 265.5px,#7f8 282.5px,#7f8 295.5px,#2fd 308.5px,#0df 317.5px,#0bf 319.5px,#07f 321.5px,#49b 322.5px,#47b 325.5px,#44b 328px,#808080 328px 352px,#44b 352px,#48b 355.5px,#05e 356.5px,#07f 357.5px,#0cf 360.5px,#2fd 363.5px,#6f9 367.5px,#bf4 377.5px,#ff0 393.5px,#fd0 400.5px,#fb0 419.5px,#f40 437.5px,#f60 472.5px,#f40 488.5px,#f10 490.5px,#f30 512.5px,#f30 522.5px,#f00 523.5px,#e00 530px)"></i><i style="background:linear-gradient(#808080 0px 231px,#03f 231px,#07f 232.5px,#0af 233.5px,#0cf 235.5px,#0df 239.5px,#0bf 248.5px,#0ef 254.5px,#1fe 257.5px,#7f8 267.5px,#8f7 281.5px,#4fb 312.5px,#0ff 318.5px,#0cf 320.5px,#05f 322.5px,#45b 324px,#808080 324px 357px,#44b 357px,#02f 358.5px,#0cf 362.5px,#1fe 365.5px,#4fb 368.5px,#ef1 388.5px,#ff0 393.5px,#fb0 415.5px,#fa0 433.5px,#f50 452.5px,#f60 480.5px,#f40 488.5px,#f10 490.5px,#f00 502.5px,#f30 522.5px,#f00 523.5px,#f00 530px)"></i><i style="background:linear-gradient(#808080 0px 231px,#44b 231px,#48b 233.5px,#08f 234.5px,#0bf 235.5px,#0cf 237.5px,#0af 249.5px,#1fe 259.5px,#8f7 278.5px,#9f6 289.5px,#7f8 297.5px,#1fe 309.5px,#0ef 315.5px,#0cf 319.5px,#08f 321.5px,#04f 322.5px,#45b 324px,#808080 324px 357px,#44b 357px,#47b 359.5px,#05f 360.5px,#0cf 363.5px,#2fd 366.5px,#6f9 370.5px,#9f6 377.5px,#df2 397.5px,#fd0 404.5px,#fa0 411.5px,#f80 424.5px,#f80 452.5px,#f50 467.5px,#f40 488.5px,#f10 490.5px,#f20 508.5px,#e00 530px)"></i><i style="background:linear-gradient(#808080 0px 233px,#46b 233px,#06f 234.5px,#0bf 236.5px,#0df 238.5px,#0bf 250.5px,#0ff 261.5px,#6f9 281.5px,#8f7 300.5px,#1fe 319.5px,#0df 322.5px,#09f 324.5px,#05f 325.5px,#47b 327px,#808080 327px 365px,#44b 365px,#48b 368.5px,#06f 369.5px,#0cf 372.5px,#2fd 376.5px,#5fa 379.5px,#9f6 389.5px,#ef1 404.5px,#f50 442.5px,#f70 463.5px,#f30 488.5px,#f00 490.5px,#f30 517.5px,#f30 522.5px,#f00 523.5px,#e00 530px)"></i><i style="background:linear-gradient(#808080 0px 233px,#44b 233px,#03f 234.5px,#08f 236.5px,#09f 238.5px,#09f 249.5px,#1fe 261.5px,#6f9 294.5px,#0ef 311.5px,#1fe 321.5px,#0cf 325.5px,#09f 327.5px,#05f 328.5px,#47b 329.5px,#45b 331px,#808080 331px 371px,#44b 371px,#48b 375.5px,#06f 376.5px,#08f 377.5px,#1de 381.5px,#2fd 384.5px,#ef1 409.5px,#fa0 423.5px,#f50 454.5px,#f50 480.5px,#f30 488.5px,#f00 490.5px,#f00 501.5px,#f30 522.5px,#f00 523.5px,#f00 530px)"></i><i style="background:linear-gradient(#808080 0px 233px,#46b 233px,#05f 234.5px,#0af 236.5px,#0bf 238.5px,#06f 249.5px,#0ef 263.5px,#1fe 269.5px,#3fc 278.5px,#3fc 303.5px,#2fd 318.5px,#1fe 325.5px,#0df 328.5px,#0af 330.5px,#06f 331.5px,#46b 333px,#808080 333px 382px,#44b 382px,#45b 383.5px,#03f 384.5px,#0bf 388.5px,#1fe 392.5px,#af6 408.5px,#ef1 421.5px,#f70 445.5px,#f40 469.5px,#f40 488.5px,#f00 490.5px,#f20 522.5px,#f00 523.5px,#f00 530px)"></i><i style="background:linear-gradient(#808080 0px 233px,#45b 233px,#04f 234.5px,#09f 236.5px,#0bf 238.5px,#08f 251.5px,#0ff 274.5px,#3fc 290.5px,#0ff 306.5px,#0ef 311.5px,#1fe 322.5px,#0ff 329.5px,#0bf 332.5px,#04f 335px,#808080 335px 383px,#45b 383px,#03f 384.5px,#0df 388.5px,#1fe 390.5px,#5fa 394.5px,#ff0 420.5px,#f20 488.5px,#e00 490.5px,#f30 512.5px,#f20 522.5px,#f00 523.5px,#e00 530px)"></i><i style="background:linear-gradient(#808080 0px 233px,#44b 233px,#02e 234.5px,#08f 236.5px,#0af 238.5px,#08f 249.5px,#0ef 263.5px,#0ff 276.5px,#3fc 294.5px,#0ef 309.5px,#0df 324.5px,#0af 329.5px,#04f 332.5px,#46b 334px,#808080 334px 385px,#44b 385px,#02f 386.5px,#0df 390.5px,#2fd 393.5px,#5fa 396.5px,#bf4 408.5px,#ff0 425.5px,#fa0 441.5px,#fa0 467.5px,#f60 488.5px,#f40 490.5px,#f40 501.5px,#f70 522.5px,#f50 523.5px,#f50 530px)"></i><i style="background:linear-gradient(#808080 0px 233px,#00a 233px,#00f 234.5px,#04f 236.5px,#06f 238.5px,#06f 249.5px,#0ef 264.5px,#1fe 270.5px,#3fc 300.5px,#0ff 317.5px,#0cf 325.5px,#09f 327.5px,#04f 329.5px,#46b 330.5px,#44b 332px,#808080 332px 379px,#45b 379px,#4ab 382.5px,#09f 383.5px,#5fa 387.5px,#8f7 389.5px,#df2 393.5px,#fd0 409.5px,#fc0 434.5px,#f80 463.5px,#fa0 480.5px,#f80 512.5px,#fa0 530px)"></i><i style="background:linear-gradient(#808080 0px 233px,#00e 233px,#06f 235.5px,#08f 237.5px,#02f 249.5px,#0bf 261.5px,#0ff 275.5px,#2fd 288.5px,#0ef 319.5px,#0cf 323.5px,#05f 326.5px,#02e 327.5px,#44a 329px,#808080 329px 379px,#44b 379px,#46b 380.5px,#06f 381.5px,#0df 383.5px,#3fc 385.5px,#df2 391.5px,#fe0 400.5px,#f60 422.5px,#f50 428.5px,#f90 467.5px,#fa0 530px)"></i><i style="background:linear-gradient(#808080 0px 233px,#00c 233px,#02f 234.5px,#06f 236.5px,#07f 238.5px,#01f 247.5px,#00f 250.5px,#03f 254.5px,#0df 264.5px,#0ff 270.5px,#3fc 289.5px,#0ef 302.5px,#0af 319.5px,#08f 321.5px,#04f 323.5px,#02d 324.5px,#44b 326px,#808080 326px 377px,#45b 377px,#49b 380.5px,#09f 381.5px,#2dd 383.5px,#5fa 385.5px,#9f6 387.5px,#df2 390.5px,#fe0 394.5px,#fc0 403.5px,#fd0 411.5px,#fb0 421.5px,#f50 437.5px,#f40 445.5px,#f50 467.5px,#f90 489.5px,#fa0 530px)"></i><i style="background:linear-gradient(#808080 0px 233px,#00e 233px,#06f 235.5px,#09f 238.5px,#06f 249.5px,#05f 253.5px,#08f 265.5px,#0cf 273.5px,#1fe 281.5px,#3fc 286.5px,#3fc 295.5px,#0ef 313.5px,#0af 319.5px,#08f 321.5px,#02f 323.5px,#00d 324.5px,#449 326px,#808080 326px 375px,#44b 375px,#4ab 379.5px,#09f 380.5px,#5fa 385.5px,#bf4 390.5px,#df2 393.5px,#fc0 401.5px,#f80 411.5px,#f90 423.5px,#fc0 433.5px,#fc0 438.5px,#f70 453.5px,#f50 464.5px,#f60 489.5px,#f90 511.5px,#f90 530px)"></i><i style="background:linear-gradient(#808080 0px 233px,#01f 233px,#06f 234.5px,#09f 235.5px,#0bf 237.5px,#0af 249.5px,#0ef 257.5px,#1ee 262.5px,#2ed 267.5px,#1de 276.5px,#0ef 289.5px,#1fe 295.5px,#0ff 312.5px,#0cf 318.5px,#09f 320.5px,#04f 322.5px,#46b 323.5px,#44b 325px,#808080 325px 379px,#45b 379px,#4bb 383.5px,#5ba 384.5px,#29d 385.5px,#6f9 389.5px,#df2 395.5px,#fd0 411.5px,#f80 423.5px,#f50 433.5px,#f90 444.5px,#fa0 452.5px,#f80 471.5px,#f70 501.5px,#f90 530px)"></i><i style="background:linear-gradient(#808080 0px 233px,#46b 233px,#07f 234.5px,#0cf 236.5px,#0df 239.5px,#0bf 249.5px,#0ff 258.5px,#5fa 269.5px,#6f9 282.5px,#1fe 316.5px,#0ef 320.5px,#0cf 323.5px,#09f 325.5px,#02f 327.5px,#44a 329px,#808080 329px 371px,#44b 371px,#4ab 376.5px,#07f 377.5px,#3fc 382.5px,#af5 387.5px,#fe0 395.5px,#fc0 400.5px,#f90 411.5px,#f90 433.5px,#f60 447.5px,#f80 500.5px,#f80 530px)"></i><i style="background:linear-gradient(#808080 0px 232px,#44b 232px,#04f 233.5px,#0af 235.5px,#0cf 237.5px,#0cf 249.5px,#0ff 258.5px,#3fc 267.5px,#7f8 292.5px,#5fa 311.5px,#2fe 321.5px,#0cf 324.5px,#06f 326.5px,#01f 328px,#808080 328px 376px,#44a 376px,#00e 377.5px,#0bf 382.5px,#1fe 386.5px,#df2 404.5px,#fd0 419.5px,#f70 434.5px,#f90 455.5px,#f70 489.5px,#f80 530px)"></i><i style="background:linear-gradient(#808080 0px 231px,#45b 231px,#05f 232.5px,#08f 233.5px,#0bf 235.5px,#09f 248.5px,#0ff 259.5px,#5fa 274.5px,#6f9 283.5px,#5fa 294.5px,#1fe 311.5px,#2fd 320.5px,#0ff 324.5px,#0bf 327.5px,#04f 330px,#808080 330px 378px,#44b 378px,#47b 381.5px,#05f 382.5px,#0df 387.5px,#1fe 391.5px,#af5 411.5px,#df2 425.5px,#ef1 435.5px,#f70 456.5px,#f60 511.5px,#f80 530px)"></i><i style="background:linear-gradient(#808080 0px 231px,#00e 231px,#06f 232.5px,#0bf 234.5px,#0df 236.5px,#0ef 239.5px,#0ef 241.5px,#08f 250.5px,#0af 262.5px,#1ee 276.5px,#2fd 280.5px,#7f8 289.5px,#8f7 293.5px,#6f9 301.5px,#0ef 313.5px,#0ef 321.5px,#0df 326.5px,#09f 329.5px,#4ab 330.5px,#48b 332.5px,#44b 335px,#808080 335px 383px,#00f 383px,#0bf 388.5px,#1fe 393.5px,#4fb 400.5px,#ff0 434.5px,#ee1 444.5px,#fe0 455.5px,#f80 475.5px,#f60 530px)"></i><i style="background:linear-gradient(#808080 0px 230px,#00e 230px,#07f 232.5px,#0bf 235.5px,#0ff 251.5px,#5fa 264.5px,#3fc 269.5px,#3cc 275.5px,#0ff 285.5px,#2fd 289.5px,#9f6 300.5px,#bf4 307.5px,#af5 311.5px,#3fc 321.5px,#0df 329.5px,#0cf 332.5px,#08f 335.5px,#01f 337.5px,#44a 339px,#808080 339px 384px,#00f 384px,#05f 386.5px,#0af 389.5px,#0df 394.5px,#1fe 401.5px,#8f7 411.5px,#bf4 434.5px,#fe0 448.5px,#fc0 456.5px,#f80 482.5px,#f60 530px)"></i><i style="background:linear-gradient(#808080 0px 229px,#01e 229px,#08f 231.5px,#0bf 234.5px,#0bf 239.5px,#08f 249.5px,#0df 255.5px,#2fd 259.5px,#6f9 266.5px,#8f7 278.5px,#5fa 300.5px,#7f8 309.5px,#6f9 322.5px,#4fc 331.5px,#1fe 335.5px,#0ff 336.5px,#0bf 338.5px,#04f 340.5px,#44b 342px,#808080 342px 373px,#45b 373px,#4bb 377.5px,#7b8 380.5px,#48b 381.5px,#6f9 386.5px,#9f6 391.5px,#9f6 404.5px,#ef1 426.5px,#df2 441.5px,#fe0 451.5px,#f90 468.5px,#f80 479.5px,#f70 530px)"></i><i style="background:linear-gradient(#808080 0px 228px,#44b 228px,#05f 229.5px,#0cf 231.5px,#0ef 234.5px,#0cf 249.5px,#1fe 261.5px,#9f6 289.5px,#8f7 300.5px,#1fe 322.5px,#0de 327.5px,#08f 330.5px,#4ab 331.5px,#4ab 332.5px,#44b 336px,#808080 336px 379px,#44b 379px,#4bb 383.5px,#18e 384.5px,#6f9 389.5px,#df2 395.5px,#ff0 400.5px,#ee1 411.5px,#ff0 426.5px,#fc0 442.5px,#fb0 460.5px,#f60 493.5px,#f60 514.5px,#f40 530px)"></i><i style="background:linear-gradient(#808080 0px 228px,#45b 228px,#04f 229.5px,#0af 231.5px,#0df 234.5px,#0fe 255.5px,#4fb 267.5px,#5fa 296.5px,#4fb 311.5px,#1fe 318.5px,#0df 321.5px,#08f 323.5px,#4ab 324.5px,#46b 329px,#808080 329px 377px,#44b 377px,#02f 378.5px,#0bf 381.5px,#1fe 383.5px,#9f6 388.5px,#ef1 398.5px,#fb0 411.5px,#f90 422.5px,#fc0 447.5px,#f40 491.5px,#f10 493.5px,#f10 494.5px,#f30 522.5px,#f00 523.5px,#f00 530px)"></i><i style="background:linear-gradient(#808080 0px 227px,#03f 227px,#07f 228.5px,#0af 229.5px,#0df 231.5px,#0ef 233.5px,#0ef 238.5px,#0bf 249.5px,#1fe 260.5px,#5fa 273.5px,#6f9 280.5px,#0ef 311.5px,#0cf 315.5px,#05f 318.5px,#47b 319.5px,#44b 321px,#808080 321px 378px,#00f 378px,#0df 383.5px,#2fd 385.5px,#af5 389.5px,#ff0 396.5px,#fc0 404.5px,#fc0 411.5px,#f80 433.5px,#fa0 466.5px,#f40 491.5px,#f10 493.5px,#f10 494.5px,#f30 518.5px,#f30 522.5px,#f00 523.5px,#f00 530px)"></i><i style="background:linear-gradient(#808080 0px 227px,#46b 227px,#04e 228.5px,#09f 230.5px,#0bf 232.5px,#0df 249.5px,#0ff 256.5px,#6f9 281.5px,#7f8 289.5px,#5fa 298.5px,#2fd 306.5px,#0ef 309.5px,#0bf 312.5px,#07f 314.5px,#03f 315.5px,#45b 317px,#808080 317px 375px,#44b 375px,#47b 378.5px,#05f 379.5px,#06f 380.5px,#0cf 384.5px,#1fe 389.5px,#cf3 402.5px,#fc0 408.5px,#fa0 411.5px,#f70 422.5px,#f90 474.5px,#f50 491.5px,#f10 494.5px,#f20 505.5px,#f40 522.5px,#f20 523.5px,#f20 530px)"></i><i style="background:linear-gradient(#808080 0px 226px,#44b 226px,#47b 227.5px,#06f 228.5px,#0bf 230.5px,#0ef 233.5px,#0df 250.5px,#1fe 260.5px,#4fb 276.5px,#6f9 297.5px,#5fa 307.5px,#1fe 312.5px,#0cf 314.5px,#05f 316.5px,#45b 318px,#808080 318px 377px,#45b 377px,#48b 379.5px,#06f 380.5px,#0bf 382.5px,#2fd 385.5px,#6f9 388.5px,#8f7 391.5px,#af5 411.5px,#df2 415.5px,#fc0 424.5px,#f70 433.5px,#f50 443.5px,#f50 460.5px,#f80 479.5px,#f50 491.5px,#f20 494.5px,#f20 505.5px,#f40 522.5px,#f10 523.5px,#f20 530px)"></i><i style="background:linear-gradient(#808080 0px 226px,#46b 226px,#05f 227.5px,#08f 228.5px,#0bf 230.5px,#0df 235.5px,#0df 248.5px,#0ff 262.5px,#4fb 285.5px,#3fc 305.5px,#1fe 311.5px,#0ef 314.5px,#08f 317.5px,#48b 318.5px,#44b 321px,#808080 321px 383px,#01f 383px,#0cf 387.5px,#1fe 389.5px,#8f7 394.5px,#cf3 401.5px,#ef1 409.5px,#df2 422.5px,#ef1 429.5px,#fe0 435.5px,#f70 449.5px,#f50 457.5px,#f40 471.5px,#f50 486.5px,#f40 491.5px,#f10 494.5px,#f20 522.5px,#f00 523.5px,#f00 530px)"></i><i style="background:linear-gradient(#808080 0px 226px,#46b 226px,#06f 227.5px,#0cf 229.5px,#0ff 232.5px,#0cf 249.5px,#0ff 265.5px,#4fb 285.5px,#0ff 314.5px,#0cf 319.5px,#08f 321.5px,#04f 322.5px,#44b 324px,#808080 324px 377px,#44b 377px,#49b 381.5px,#06f 382.5px,#0cf 385.5px,#1fe 389.5px,#ff0 409.5px,#fc0 423.5px,#fd0 441.5px,#f60 463.5px,#f30 485.5px,#f20 491.5px,#e00 493.5px,#f20 521.5px,#f20 522.5px,#e00 523.5px,#e00 530px)"></i><i style="background:linear-gradient(#808080 0px 225px,#44b 225px,#05f 226.5px,#0af 227.5px,#0cf 228.5px,#0ff 231.5px,#5fa 286.5px,#4fb 300.5px,#1fe 311.5px,#0df 317.5px,#08f 320.5px,#49b 321.5px,#44b 325px,#808080 325px 364px,#44b 364px,#46b 366.5px,#04e 367.5px,#0cf 371.5px,#2fd 374.5px,#6f9 379.5px,#af5 392.5px,#af5 400.5px,#ef1 410.5px,#fb0 422.5px,#f80 433.5px,#f80 445.5px,#f30 489.5px,#f30 491.5px,#f00 493.5px,#f10 522.5px,#d00 523.5px,#e00 530px)"></i><i style="background:linear-gradient(#808080 0px 225px,#04f 225px,#09f 226.5px,#0df 227.5px,#2fd 230.5px,#3fc 234.5px,#2fd 255.5px,#7f8 278.5px,#8f7 289.5px,#3fc 314.5px,#1fe 320.5px,#0df 322.5px,#09f 324.5px,#49b 325.5px,#47b 327px,#808080 327px 369px,#44b 369px,#47b 371.5px,#04f 372.5px,#0bf 375.5px,#3fc 379.5px,#7f8 383.5px,#cf3 396.5px,#ef1 416.5px,#f60 455.5px,#f30 490.5px,#f00 493.5px,#f20 521.5px,#f20 522.5px,#e00 523.5px,#e00 530px)"></i><i style="background:linear-gradient(#808080 0px 225px,#02f 225px,#07f 226.5px,#0cf 228.5px,#0ef 230.5px,#0ff 234.5px,#4fb 255.5px,#5fa 267.5px,#af5 300.5px,#8f7 311.5px,#1fe 323.5px,#0cf 325.5px,#06f 327.5px,#46b 329px,#808080 329px 364px,#44b 364px,#46b 365.5px,#04f 366.5px,#0df 370.5px,#1fe 372.5px,#7f8 377.5px,#df2 389.5px,#ff0 399.5px,#fc0 413.5px,#fd0 433.5px,#f60 454.5px,#f40 484.5px,#f20 491.5px,#e00 493.5px,#f00 508.5px,#f20 522.5px,#e00 523.5px,#f00 530px)"></i><i style="background:linear-gradient(#808080 0px 225px,#45b 225px,#06f 226.5px,#0cf 228.5px,#1fe 231.5px,#3fc 250.5px,#6f8 265.5px,#9f6 298.5px,#9f6 308.5px,#6f9 319.5px,#5fa 322.5px,#1fe 325.5px,#0df 326.5px,#05f 329px,#808080 329px 359px,#45b 359px,#48b 361.5px,#07f 362.5px,#1ce 364.5px,#3fc 366.5px,#8f7 369.5px,#bf4 372.5px,#df2 389.5px,#ef1 394.5px,#fa0 411.5px,#f90 432.5px,#fa0 445.5px,#f60 463.5px,#f30 490.5px,#e00 494.5px,#f00 522.5px,#d00 523.5px,#d00 530px)"></i><i style="background:linear-gradient(#808080 0px 225px,#03f 225px,#07f 226.5px,#0af 227.5px,#0df 229.5px,#1fe 239.5px,#7f8 264.5px,#9f6 282.5px,#7f8 298.5px,#3fc 311.5px,#2fd 318.5px,#0df 322.5px,#07f 324.5px,#47b 326px,#808080 326px 353px,#44b 353px,#47b 355.5px,#06f 356.5px,#0bf 358.5px,#3fc 361.5px,#7f8 364.5px,#af5 367.5px,#ef1 378.5px,#fe0 384.5px,#fc0 389.5px,#fd0 397.5px,#f70 421.5px,#f80 434.5px,#f60 454.5px,#f70 467.5px,#f50 477.5px,#f30 491.5px,#f00 494.5px,#f20 512.5px,#f10 522.5px,#e00 523.5px,#d00 530px)"></i><i style="background:linear-gradient(#808080 0px 225px,#46b 225px,#08f 226.5px,#0ef 228.5px,#1fe 230.5px,#2fd 234.5px,#1fe 250.5px,#3fc 262.5px,#8f7 271.5px,#9f6 283.5px,#7f8 301.5px,#5fa 309.5px,#1fe 315.5px,#0df 317.5px,#08f 319.5px,#49b 320.5px,#46b 323px,#808080 323px 349px,#44b 349px,#46b 350.5px,#04f 351.5px,#0bf 354.5px,#1fe 356.5px,#9f6 361.5px,#df2 367.5px,#ef1 372.5px,#ee1 378.5px,#ef1 393.5px,#f70 411.5px,#f40 433.5px,#f50 455.5px,#f40 484.5px,#f30 491.5px,#f00 494.5px,#f30 522.5px,#f10 523.5px,#f10 530px)"></i><i style="background:linear-gradient(#808080 0px 225px,#45b 225px,#04f 226.5px,#0af 228.5px,#0df 230.5px,#1fe 241.5px,#4fb 275.5px,#6f9 281.5px,#8f7 296.5px,#6f9 309.5px,#4fb 314.5px,#1fe 317.5px,#0cf 319.5px,#09f 320.5px,#48b 321.5px,#46b 323px,#808080 323px 343px,#44b 343px,#03f 344.5px,#0df 348.5px,#1fe 350.5px,#ef1 371.5px,#fb0 388.5px,#fc0 397.5px,#fb0 405.5px,#f40 427.5px,#f40 478.5px,#f20 491.5px,#f00 493.5px,#f00 505.5px,#f30 522.5px,#f00 523.5px,#f10 530px)"></i><i style="background:linear-gradient(#808080 0px 226px,#00e 226px,#03f 227.5px,#08f 229.5px,#0cf 235.5px,#0ef 251.5px,#2fe 260.5px,#4fb 267.5px,#6f9 284.5px,#5fa 311.5px,#2fd 320.5px,#1de 322.5px,#09f 324.5px,#4bb 325.5px,#45b 329px,#808080 329px 345px,#46b 345px,#49b 347.5px,#08f 348.5px,#5fa 352.5px,#bf4 355.5px,#df2 358.5px,#ff0 371.5px,#f90 391.5px,#f40 430.5px,#f30 488.5px,#f20 491.5px,#f00 493.5px,#f00 507.5px,#f20 522.5px,#f00 523.5px,#f00 530px)"></i><i style="background:linear-gradient(#808080 0px 226px,#04f 226px,#09f 227.5px,#0bf 228.5px,#0ef 230.5px,#0ff 232.5px,#0df 249.5px,#0ff 266.5px,#7f8 289.5px,#4fb 308.5px,#1fe 314.5px,#1de 317.5px,#0af 319.5px,#4bb 320.5px,#4ab 322.5px,#47b 325px,#808080 325px 350px,#44b 350px,#46b 351.5px,#04f 352.5px,#0bf 354.5px,#3fc 357.5px,#bf4 361.5px,#ef1 365.5px,#fd0 386.5px,#f60 401.5px,#f30 483.5px,#f20 491.5px,#e00 493.5px,#f10 521.5px,#e00 523.5px,#e00 530px)"></i><i style="background:linear-gradient(#808080 0px 225px,#46b 225px,#05f 226.5px,#0bf 228.5px,#0df 230.5px,#0ff 240.5px,#0ff 269.5px,#3fc 284.5px,#4fb 300.5px,#3fc 311.5px,#1fe 315.5px,#0cf 317.5px,#06f 319.5px,#46b 321px,#808080 321px 353px,#45b 353px,#47b 354.5px,#06f 355.5px,#0cf 357.5px,#3fc 360.5px,#8f7 363.5px,#cf3 366.5px,#ef1 373.5px,#fd0 383.5px,#fe0 400.5px,#f90 408.5px,#f40 422.5px,#f30 488.5px,#f20 491.5px,#f00 493.5px,#f20 522.5px,#e00 523.5px,#e00 530px)"></i><i style="background:linear-gradient(#808080 0px 226px,#01c 226px,#04f 227.5px,#09f 229.5px,#0cf 231.5px,#1fe 257.5px,#3fc 271.5px,#0ff 313.5px,#0df 316.5px,#08f 318.5px,#04f 320px,#808080 320px 341px,#45b 341px,#4bb 345.5px,#7b8 348.5px,#48b 349.5px,#7f8 354.5px,#bf4 358.5px,#df2 360.5px,#fe0 367.5px,#fa0 379.5px,#f80 422.5px,#f40 440.5px,#f30 483.5px,#f20 491.5px,#f00 493.5px,#e00 494.5px,#f00 506.5px,#f30 522.5px,#f00 523.5px,#f00 530px)"></i><i style="background:linear-gradient(#808080 0px 227px,#448 227px,#00e 228.5px,#02f 229.5px,#07f 232.5px,#0bf 239.5px,#0df 246.5px,#0cf 256.5px,#1fe 271.5px,#4fb 278.5px,#4fa 286.5px,#0ff 306.5px,#0ef 313.5px,#0bf 317.5px,#06f 319.5px,#47b 320.5px,#44b 322px,#808080 322px 347px,#46b 347px,#4bb 351.5px,#5ba 352.5px,#38c 353.5px,#6f9 357.5px,#8f7 358.5px,#ef1 364.5px,#fe0 368.5px,#f90 382.5px,#f60 397.5px,#f70 412.5px,#f50 434.5px,#f40 483.5px,#f30 491.5px,#e00 494.5px,#f00 505.5px,#f30 522.5px,#f00 523.5px,#f00 530px)"></i><i style="background:linear-gradient(#808080 0px 229px,#46b 229px,#04f 230.5px,#09f 231.5px,#0bf 232.5px,#0df 235.5px,#0bf 250.5px,#0df 255.5px,#0ff 277.5px,#4fb 300.5px,#1fe 310.5px,#1de 317.5px,#08f 320.5px,#4bb 321.5px,#4ab 323.5px,#49b 325.5px,#45b 328px,#808080 328px 353px,#46b 353px,#4ab 355.5px,#09f 356.5px,#6f9 360.5px,#bf4 363.5px,#ee1 367.5px,#fe0 371.5px,#f80 389.5px,#f50 402.5px,#f70 427.5px,#f40 449.5px,#f50 483.5px,#f40 491.5px,#f20 494.5px,#f40 522.5px,#f10 523.5px,#f20 530px)"></i><i style="background:linear-gradient(#808080 0px 231px,#45b 231px,#47b 232.5px,#06f 233.5px,#0bf 235.5px,#0ef 239.5px,#0ef 252.5px,#0bf 264.5px,#1ce 275.5px,#1fe 282.5px,#2fd 285.5px,#1fe 306.5px,#2ed 311.5px,#1fe 316.5px,#1fe 327.5px,#0df 331.5px,#08f 333.5px,#4ab 334.5px,#44b 338px,#808080 338px 352px,#46b 352px,#07f 353.5px,#1fe 355.5px,#9f6 358.5px,#ff0 361.5px,#fd0 362.5px,#fa0 364.5px,#f80 378.5px,#f70 391.5px,#f40 411.5px,#f50 426.5px,#f70 441.5px,#f50 464.5px,#f90 484.5px,#f60 530px)"></i><i style="background:linear-gradient(#808080 0px 233px,#45b 233px,#05f 234.5px,#0cf 236.5px,#0ef 238.5px,#0ff 240.5px,#0cf 256.5px,#0cf 267.5px,#0cf 280.5px,#0ff 288.5px,#3fc 294.5px,#4fb 301.5px,#2fd 309.5px,#0ef 317.5px,#0cf 332.5px,#0bf 334.5px,#07f 336.5px,#00f 339px,#808080 339px 352px,#44b 352px,#45b 353.5px,#05f 354.5px,#0ff 357.5px,#3fc 358.5px,#ef1 363.5px,#fe0 364.5px,#fc0 366.5px,#f70 381.5px,#f40 404.5px,#f50 446.5px,#fc0 488.5px,#f80 515.5px,#f70 530px)"></i><i style="background:linear-gradient(#808080 0px 235px,#03f 235px,#08f 236.5px,#0af 237.5px,#0df 239.5px,#0ff 251.5px,#0ef 268.5px,#0bf 278.5px,#1fe 292.5px,#2fd 302.5px,#0ff 316.5px,#0cf 322.5px,#0af 324.5px,#06f 326.5px,#04e 327.5px,#47b 328.5px,#44b 331px,#808080 331px 352px,#00f 352px,#0df 357.5px,#3fc 360.5px,#9f6 363.5px,#ef1 369.5px,#fe0 372.5px,#fb0 380.5px,#fa0 389.5px,#f50 403.5px,#f40 411.5px,#f50 450.5px,#f80 464.5px,#fd0 479.5px,#fe0 488.5px,#fc0 504.5px,#f60 530px)"></i><i style="background:linear-gradient(#808080 0px 235px,#04f 235px,#09f 236.5px,#0bf 237.5px,#0ef 241.5px,#0cf 280.5px,#0ff 292.5px,#2fd 300.5px,#1fe 307.5px,#0cf 319.5px,#09f 322.5px,#02e 325.5px,#44b 327px,#808080 327px 342px,#44b 342px,#47b 345.5px,#04e 346.5px,#0bf 352.5px,#1fe 358.5px,#df2 372.5px,#fd0 376.5px,#f90 382.5px,#f70 389.5px,#f80 403.5px,#f40 428.5px,#f50 453.5px,#f80 462.5px,#fd0 475.5px,#fe0 483.5px,#fe0 495.5px,#f90 530px)"></i><i style="background:linear-gradient(#808080 0px 235px,#04f 235px,#09f 236.5px,#0cf 237.5px,#0ef 240.5px,#0df 249.5px,#0ff 258.5px,#2fd 267.5px,#0ff 284.5px,#0ff 311.5px,#0cf 316.5px,#07f 319.5px,#05e 320.5px,#47b 321.5px,#44b 324px,#808080 324px 333px,#44b 333px,#46b 335.5px,#04f 336.5px,#0cf 340.5px,#2fd 344.5px,#5fa 348.5px,#ef1 380.5px,#fd0 384.5px,#f60 395.5px,#f50 400.5px,#f70 421.5px,#f50 441.5px,#f50 452.5px,#f80 469.5px,#fd0 481.5px,#fe0 489.5px,#f80 530px)"></i><i style="background:linear-gradient(#808080 0px 235px,#44b 235px,#05f 236.5px,#0bf 238.5px,#0ef 241.5px,#0cf 258.5px,#2fd 270.5px,#6f9 280.5px,#5fa 286.5px,#0ef 296.5px,#0cf 300.5px,#0bf 311.5px,#09f 314.5px,#03f 317.5px,#02c 318.5px,#44b 320px,#808080 320px 332px,#44b 332px,#01f 333.5px,#0df 338.5px,#1fe 340.5px,#7f8 344.5px,#cf3 353.5px,#fe0 374.5px,#fc0 400.5px,#f80 422.5px,#f80 460.5px,#fb0 497.5px,#fa0 530px)"></i><i style="background:linear-gradient(#808080 0px 235px,#02f 235px,#06f 236.5px,#0af 238.5px,#0df 242.5px,#0ef 253.5px,#0cf 267.5px,#0df 277.5px,#3fc 285.5px,#5fa 289.5px,#6f9 294.5px,#2fd 302.5px,#0bf 309.5px,#03f 313.5px,#01f 314.5px,#00c 315.5px,#448 317px,#808080 317px 336px,#44b 336px,#01e 337.5px,#03f 338.5px,#0df 343.5px,#4fb 348.5px,#df2 365.5px,#fe0 375.5px,#f90 400.5px,#fb0 441.5px,#fa0 453.5px,#fa0 478.5px,#f80 511.5px,#fa0 530px)"></i><i style="background:linear-gradient(#808080 0px 235px,#01f 235px,#06f 236.5px,#09f 237.5px,#0cf 240.5px,#0ff 260.5px,#2fd 270.5px,#0ef 289.5px,#2ed 298.5px,#1fe 307.5px,#0df 310.5px,#08f 312.5px,#04f 314px,#808080 314px 327px,#44b 327px,#47b 329.5px,#05f 330.5px,#09f 332.5px,#2dd 335.5px,#3ec 339.5px,#2fd 348.5px,#3fc 353.5px,#9f6 362.5px,#bf4 369.5px,#ef1 380.5px,#fd0 390.5px,#f80 407.5px,#f60 422.5px,#fa0 446.5px,#f80 530px)"></i><i style="background:linear-gradient(#808080 0px 235px,#03f 235px,#08f 236.5px,#0af 237.5px,#0df 240.5px,#0cf 250.5px,#0ef 265.5px,#2fd 272.5px,#4fb 283.5px,#0ef 298.5px,#0af 307.5px,#08f 309.5px,#04f 311.5px,#46b 312.5px,#44b 315px,#808080 315px 326px,#01f 326px,#0cf 330.5px,#1fe 332.5px,#9f6 337.5px,#cf3 345.5px,#bf4 366.5px,#ef1 380.5px,#ef1 398.5px,#f80 412.5px,#f50 424.5px,#f50 444.5px,#f70 467.5px,#f60 491.5px,#f40 494.5px,#f70 522.5px,#f50 523.5px,#f50 530px)"></i><i style="background:linear-gradient(#808080 0px 235px,#02f 235px,#06f 236.5px,#09f 237.5px,#0df 239.5px,#0ef 241.5px,#0ff 252.5px,#2fd 263.5px,#1fe 293.5px,#0ef 298.5px,#09f 308.5px,#06f 312.5px,#01f 314.5px,#00c 316px,#808080 316px 327px,#44b 327px,#48b 330.5px,#05f 331.5px,#0af 333.5px,#3fc 337.5px,#9f6 343.5px,#ef1 355.5px,#fe0 359.5px,#fd0 366.5px,#fc0 405.5px,#fa0 411.5px,#f50 423.5px,#f40 430.5px,#f50 474.5px,#f30 491.5px,#f00 494.5px,#f30 522.5px,#f00 523.5px,#f10 530px)"></i><i style="background:linear-gradient(#808080 0px 235px,#02f 235px,#06f 236.5px,#09f 237.5px,#0cf 240.5px,#0df 250.5px,#0ff 257.5px,#5fa 268.5px,#7f8 278.5px,#4fc 293.5px,#0ff 300.5px,#0bf 309.5px,#08f 313.5px,#04f 315.5px,#03d 316.5px,#45b 317.5px,#44a 319px,#808080 319px 333px,#44b 333px,#03f 334.5px,#0df 338.5px,#1fe 339.5px,#af5 345.5px,#ff0 356.5px,#fa0 367.5px,#f90 378.5px,#fa0 397.5px,#f40 433.5px,#f40 484.5px,#f30 492.5px,#f00 494.5px,#f30 522.5px,#f00 523.5px,#f00 530px)"></i><i style="background:linear-gradient(#808080 0px 235px,#01f 235px,#08f 237.5px,#0bf 240.5px,#1fe 254.5px,#4fb 265.5px,#4fb 275.5px,#7f8 291.5px,#5fa 300.5px,#2fe 309.5px,#0cf 315.5px,#07f 318.5px,#49b 319.5px,#45b 322.5px,#44a 324px,#808080 324px 329px,#44b 329px,#02f 330.5px,#0ff 335.5px,#af5 341.5px,#ff0 347.5px,#fb0 355.5px,#fa0 368.5px,#f40 388.5px,#f40 396.5px,#f80 411.5px,#f40 438.5px,#f30 489.5px,#f20 492.5px,#e00 494.5px,#f10 506.5px,#f30 522.5px,#f10 523.5px,#f10 530px)"></i><i style="background:linear-gradient(#808080 0px 235px,#02f 235px,#07f 236.5px,#0af 237.5px,#0ef 240.5px,#0ff 257.5px,#5fa 275.5px,#6f9 286.5px,#0ff 315.5px,#0cf 319.5px,#08f 321.5px,#04f 322.5px,#45b 323.5px,#44a 325px,#808080 325px 328px,#44b 328px,#47b 330.5px,#04e 331.5px,#0cf 335.5px,#3fc 339.5px,#cf3 350.5px,#fd0 357.5px,#f90 367.5px,#f40 404.5px,#f40 411.5px,#f70 433.5px,#f50 448.5px,#f30 484.5px,#f20 492.5px,#f00 493.5px,#e00 494.5px,#f00 506.5px,#f20 512.5px,#f30 522.5px,#f00 523.5px,#f10 530px)"></i><i style="background:linear-gradient(#808080 0px 235px,#04f 235px,#09f 236.5px,#0cf 237.5px,#0ff 239.5px,#2fd 244.5px,#2fd 266.5px,#5fa 285.5px,#4fb 295.5px,#0ff 309.5px,#0bf 320.5px,#09f 322.5px,#05f 324.5px,#03d 325.5px,#46b 326.5px,#44b 327.5px,#47b 330.5px,#05f 331.5px,#0df 336.5px,#2fd 340.5px,#df2 362.5px,#fd0 369.5px,#f80 378.5px,#f70 386.5px,#f70 400.5px,#f40 422.5px,#f80 444.5px,#f50 463.5px,#f50 484.5px,#f30 492.5px,#e00 494.5px,#f00 508.5px,#f30 522.5px,#f00 523.5px,#f10 530px)"></i><i style="background:linear-gradient(#808080 0px 235px,#02f 235px,#07f 236.5px,#0bf 237.5px,#0ff 240.5px,#5fa 263.5px,#6f9 291.5px,#4fa 302.5px,#0ff 315.5px,#0bf 323.5px,#0cf 326.5px,#0ff 330.5px,#9f6 348.5px,#ef1 373.5px,#fd0 383.5px,#f60 400.5px,#f40 431.5px,#f70 467.5px,#f30 492.5px,#f00 494.5px,#f20 522.5px,#f00 523.5px,#f00 530px)"></i><i style="background:linear-gradient(#808080 0px 236px,#06f 236px,#0df 238.5px,#0fe 240.5px,#9f6 281.5px,#8f7 293.5px,#1fe 315.5px,#0df 319.5px,#05f 323.5px,#05f 324.5px,#0cf 329.5px,#0ff 334.5px,#cf3 356.5px,#bf4 388.5px,#cf3 394.5px,#fc0 402.5px,#f70 411.5px,#f50 418.5px,#f40 444.5px,#f60 477.5px,#f30 492.5px,#f00 494.5px,#f20 522.5px,#f00 523.5px,#f00 530px)"></i><i style="background:linear-gradient(#808080 0px 235px,#46b 235px,#08f 236.5px,#0cf 237.5px,#0ff 239.5px,#2fd 243.5px,#3fc 259.5px,#af5 289.5px,#8f7 301.5px,#5fa 309.5px,#1fe 316.5px,#0cf 319.5px,#07f 321.5px,#03f 322.5px,#02f 323.5px,#0df 328.5px,#1fe 330.5px,#6f9 335.5px,#9f6 356.5px,#ff0 375.5px,#bf4 397.5px,#ef1 406.5px,#f70 422.5px,#f50 429.5px,#f50 484.5px,#f30 492.5px,#f00 494.5px,#f30 522.5px,#f00 523.5px,#f00 530px)"></i><i style="background:linear-gradient(#808080 0px 235px,#46b 235px,#09f 236.5px,#0cf 237.5px,#1fe 239.5px,#3fc 245.5px,#7f8 300.5px,#6f9 311.5px,#4fb 315.5px,#0ff 318.5px,#0af 320.5px,#06f 322px,#808080 322px 329px,#44b 329px,#45b 330.5px,#02f 331.5px,#0bf 335.5px,#1fe 338.5px,#5fa 342.5px,#cf3 356.5px,#df2 378.5px,#ff0 383.5px,#fd0 414.5px,#f40 440.5px,#f50 484.5px,#f30 492.5px,#f00 494.5px,#f30 522.5px,#f00 523.5px,#f00 530px)"></i><i style="background:linear-gradient(#808080 0px 232px,#45b 232px,#48b 233.5px,#09f 234.5px,#0ef 236.5px,#1fe 238.5px,#2fd 243.5px,#2fe 249.5px,#5fa 256.5px,#6f8 266.5px,#7f8 282.5px,#1fe 308.5px,#1ee 318.5px,#0df 319.5px,#08f 321.5px,#48b 322.5px,#45b 324px,#808080 324px 332px,#01f 332px,#0af 335.5px,#1fe 338.5px,#6f9 343.5px,#6f9 353.5px,#df2 368.5px,#fe0 375.5px,#fd0 385.5px,#fb0 420.5px,#f40 448.5px,#f40 484.5px,#f30 492.5px,#f00 494.5px,#f20 518.5px,#f20 522.5px,#f00 523.5px,#f00 530px)"></i><i style="background:linear-gradient(#808080 0px 234px,#47b 234px,#07f 235.5px,#0bf 237.5px,#0ef 240.5px,#1fe 251.5px,#8f7 278.5px,#9f6 289.5px,#6f9 300.5px,#1fe 314.5px,#0ef 317.5px,#0cf 320.5px,#08f 322.5px,#00f 325px,#808080 325px 327px,#00e 327px,#0cf 331.5px,#2fd 333.5px,#cf3 339.5px,#ef1 344.5px,#df2 366.5px,#ff0 379.5px,#fa0 400.5px,#f90 438.5px,#f40 461.5px,#f20 492.5px,#e00 494.5px,#f00 506.5px,#f30 522.5px,#f10 523.5px,#f10 530px)"></i><i style="background:linear-gradient(#808080 0px 234px,#01f 234px,#06f 235.5px,#09f 236.5px,#0bf 238.5px,#0cf 240.5px,#0cf 249.5px,#1fe 261.5px,#6f9 282.5px,#8f7 293.5px,#6f9 308.5px,#1fe 318.5px,#0ef 320.5px,#0cf 321.5px,#06f 323.5px,#01f 325px,#808080 325px 330px,#44b 330px,#02f 331.5px,#1ee 336.5px,#af5 342.5px,#df2 345.5px,#fe0 349.5px,#fb0 356.5px,#fd0 397.5px,#f90 415.5px,#f60 467.5px,#f20 492.5px,#e00 494.5px,#f00 506.5px,#f20 512.5px,#f20 522.5px,#e00 523.5px,#f00 530px)"></i><i style="background:linear-gradient(#808080 0px 235px,#01f 235px,#06f 236.5px,#09f 237.5px,#0cf 240.5px,#0cf 256.5px,#1fe 273.5px,#4fb 286.5px,#5fa 295.5px,#4fb 310.5px,#0ff 320.5px,#0df 322.5px,#05f 325.5px,#49b 326.5px,#4bb 327.5px,#18e 328.5px,#6f9 333.5px,#9f6 335.5px,#df2 340.5px,#fd0 351.5px,#f90 365.5px,#f70 377.5px,#f90 396.5px,#f60 424.5px,#f80 445.5px,#f30 489.5px,#f20 492.5px,#e00 494.5px,#f00 508.5px,#f20 522.5px,#f00 523.5px,#f00 530px)"></i><i style="background:linear-gradient(#808080 0px 235px,#01f 235px,#06f 236.5px,#0af 238.5px,#0df 243.5px,#0cf 264.5px,#0ff 277.5px,#3fc 298.5px,#0ff 318.5px,#0ef 321.5px,#0bf 324.5px,#0cf 325.5px,#19e 327.5px,#5fa 333.5px,#9f6 337.5px,#cf3 342.5px,#fc0 353.5px,#f80 380.5px,#f50 416.5px,#f40 441.5px,#f70 464.5px,#f20 492.5px,#e00 494.5px,#f20 522.5px,#e00 523.5px,#e00 530px)"></i><i style="background:linear-gradient(#808080 0px 235px,#44a 235px,#45b 236.5px,#48b 238.5px,#49b 242.5px,#4bb 277.5px,#4bb 303.5px,#0fe 304.5px,#0ff 306.5px,#0ef 318.5px,#0cf 322.5px,#0af 324.5px,#01e 328px,#808080 328px 329px,#44a 329px,#44b 330.5px,#02e 331.5px,#04f 332.5px,#0bf 335.5px,#1fe 338.5px,#6f9 343.5px,#9f6 353.5px,#df2 360.5px,#fd0 369.5px,#f40 420.5px,#f40 444.5px,#f60 469.5px,#f40 485.5px,#f20 492.5px,#e00 494.5px,#f00 509.5px,#f20 522.5px,#e00 523.5px,#e00 530px)"></i><i style="background:linear-gradient(#808080 0px 324px,#48b 324px,#44b 327px,#808080 327px 330px,#44b 330px,#4ab 335.5px,#0ff 336.5px,#9f6 342.5px,#cf3 351.5px,#ef1 368.5px,#fb0 384.5px,#f80 411.5px,#f40 430.5px,#f40 452.5px,#f50 478.5px,#f30 492.5px,#f00 494.5px,#f10 522.5px,#d00 523.5px,#e00 530px)"></i><i style="background:linear-gradient(#808080 0px 235px,#46b 235px,#49b 237.5px,#4ab 241.5px,#49b 249.5px,#49b 263.5px,#0bf 264.5px,#0bf 267.5px,#08f 275.5px,#08f 280.5px,#0ef 291.5px,#0ff 299.5px,#0bf 312.5px,#0ef 319.5px,#0cf 322.5px,#07f 325.5px,#4eb 330.5px,#5fa 332.5px,#9f6 337.5px,#ef1 349.5px,#fc0 356.5px,#fb0 389.5px,#f40 450.5px,#f30 486.5px,#f30 492.5px,#f00 494.5px,#f10 522.5px,#d00 523.5px,#d00 530px)"></i><i style="background:linear-gradient(#808080 0px 231px,#44a 231px,#44b 232.5px,#03f 233.5px,#05f 234.5px,#07f 236.5px,#0af 246.5px,#0ef 277.5px,#0df 288.5px,#0ff 294.5px,#4fb 309.5px,#bf4 331.5px,#cf3 356.5px,#ef1 366.5px,#fe0 375.5px,#f70 434.5px,#f50 467.5px,#f20 486.5px,#f10 492.5px,#f00 493.5px,#d00 495.5px,#f00 522.5px,#d00 523.5px,#d00 530px)"></i><i style="background:linear-gradient(#808080 0px 231px,#44a 231px,#01f 232.5px,#05f 233.5px,#07f 234.5px,#09f 240.5px,#0bf 257.5px,#08f 267.5px,#0af 276.5px,#0df 284.5px,#0ff 296.5px,#2fd 311.5px,#bf4 331.5px,#ef1 344.5px,#df2 377.5px,#ef1 383.5px,#fe0 394.5px,#f70 441.5px,#f40 484.5px,#f20 492.5px,#e00 494.5px,#f10 522.5px,#e00 523.5px,#d00 530px)"></i><i style="background:linear-gradient(#808080 0px 232px,#02f 232px,#06f 233.5px,#07f 234.5px,#0cf 242.5px,#0df 251.5px,#0df 266.5px,#05f 280.5px,#0cf 294.5px,#1fe 305.5px,#ff0 349.5px,#fd0 363.5px,#df2 396.5px,#ef1 401.5px,#f90 422.5px,#fa0 434.5px,#f80 467.5px,#f30 492.5px,#f00 495.5px,#f30 522.5px,#f00 523.5px,#f00 530px)"></i><i style="background:linear-gradient(#808080 0px 232px,#02f 232px,#06f 233.5px,#09f 235.5px,#0af 243.5px,#09f 250.5px,#0cf 254.5px,#0ef 262.5px,#0cf 291.5px,#0ff 311.5px,#2fd 318.5px,#af5 334.5px,#ff0 351.5px,#fc0 371.5px,#fd0 409.5px,#f70 439.5px,#f80 466.5px,#f70 478.5px,#f40 492.5px,#f10 495.5px,#f30 522.5px,#f10 523.5px,#f10 530px)"></i><i style="background:linear-gradient(#808080 0px 232px,#44b 232px,#04f 233.5px,#07f 234.5px,#0bf 244.5px,#0bf 263.5px,#0ef 278.5px,#0ff 313.5px,#7f8 334.5px,#bf4 338.5px,#fe0 345.5px,#f90 356.5px,#f60 378.5px,#f70 400.5px,#f50 441.5px,#f40 484.5px,#f40 492.5px,#f10 495.5px,#f40 512.5px,#f50 522.5px,#f20 523.5px,#f20 530px)"></i><i style="background:linear-gradient(#808080 0px 232px,#02f 232px,#06f 233.5px,#08f 234.5px,#09f 237.5px,#09f 245.5px,#06f 250.5px,#0af 257.5px,#0af 280.5px,#0ef 297.5px,#1fe 312.5px,#ef1 353.5px,#f60 366.5px,#f40 373.5px,#f40 467.5px,#f20 492.5px,#e00 494.5px,#f40 522.5px,#f10 523.5px,#f20 530px)"></i><i style="background:linear-gradient(#808080 0px 232px,#03f 232px,#07f 233.5px,#09f 234.5px,#0bf 240.5px,#0cf 267.5px,#0af 280.5px,#0ef 297.5px,#0ff 308.5px,#ff0 354.5px,#f40 382.5px,#f40 467.5px,#f30 485.5px,#f00 493.5px,#e00 494.5px,#f00 504.5px,#f30 522.5px,#f10 523.5px,#f10 530px)"></i><i style="background:linear-gradient(#808080 0px 232px,#02f 232px,#06f 233.5px,#08f 234.5px,#0bf 240.5px,#0ef 252.5px,#0df 266.5px,#0ef 281.5px,#3fc 309.5px,#ef1 358.5px,#fe0 365.5px,#f50 391.5px,#f40 467.5px,#f20 485.5px,#f00 493.5px,#d00 495.5px,#f00 506.5px,#f30 522.5px,#f10 523.5px,#f10 530px)"></i><i style="background:linear-gradient(#808080 0px 232px,#44b 232px,#03f 233.5px,#06f 235.5px,#0af 240.5px,#1fe 269.5px,#2fd 287.5px,#5fa 301.5px,#6f9 317.5px,#ef1 345.5px,#df2 366.5px,#ef1 372.5px,#fd0 382.5px,#f70 398.5px,#f50 409.5px,#f40 467.5px,#f20 485.5px,#f00 493.5px,#d00 495.5px,#f00 513.5px,#f10 522.5px,#e00 523.5px,#e00 530px)"></i><i style="background:linear-gradient(#808080 0px 231px,#44b 231px,#03f 232.5px,#08f 234.5px,#0bf 240.5px,#0ef 272.5px,#2fc 294.5px,#fe0 353.5px,#ef1 392.5px,#fd0 402.5px,#f70 417.5px,#f50 427.5px,#f40 468.5px,#f20 485.5px,#f00 493.5px,#d00 495.5px,#f00 512.5px,#f10 522.5px,#d00 523.5px,#d00 530px)"></i><i style="background:linear-gradient(#808080 0px 231px,#45b 231px,#03f 232.5px,#09f 234.5px,#0df 240.5px,#0ff 248.5px,#2fd 309.5px,#8f6 333.5px,#ef1 370.5px,#ff0 409.5px,#f50 441.5px,#f40 468.5px,#f30 484.5px,#f00 493.5px,#e00 494.5px,#d00 498.5px,#f00 513.5px,#f10 522.5px,#d00 523.5px,#e00 530px)"></i><i style="background:linear-gradient(#808080 0px 232px,#44a 232px,#01f 233.5px,#05f 234.5px,#07f 235.5px,#0af 240.5px,#0ef 250.5px,#1fe 256.5px,#4fb 267.5px,#2fd 279.5px,#5fa 300.5px,#4fb 322.5px,#9f6 357.5px,#af5 382.5px,#ef1 404.5px,#fd0 433.5px,#f70 452.5px,#f50 470.5px,#f00 493.5px,#e00 494.5px,#f20 522.5px,#e00 523.5px,#e00 530px)"></i><i style="background:linear-gradient(#808080 0px 232px,#00d 232px,#03f 233.5px,#06f 234.5px,#09f 240.5px,#0df 252.5px,#0df 266.5px,#2ed 275.5px,#3fc 279.5px,#4fb 284.5px,#4fb 300.5px,#7f8 322.5px,#8f7 397.5px,#df2 417.5px,#fe0 425.5px,#fc0 434.5px,#f80 467.5px,#f30 492.5px,#e00 495.5px,#f00 508.5px,#f20 522.5px,#e00 523.5px,#f00 530px)"></i><i style="background:linear-gradient(#808080 0px 232px,#44b 232px,#02f 233.5px,#05f 234.5px,#06f 235.5px,#09f 240.5px,#0ff 265.5px,#1de 277.5px,#0fe 286.5px,#5fa 298.5px,#4fb 311.5px,#af5 340.5px,#8f7 410.5px,#af5 423.5px,#ef1 431.5px,#fd0 438.5px,#fa0 445.5px,#f80 452.5px,#f90 468.5px,#f60 484.5px,#f40 492.5px,#f10 495.5px,#f20 522.5px,#e00 523.5px,#e00 530px)"></i><i style="background:linear-gradient(#808080 0px 232px,#44b 232px,#05f 233.5px,#08f 234.5px,#0af 239.5px,#0ff 267.5px,#4fb 286.5px,#9f6 322.5px,#af5 344.5px,#df2 363.5px,#bf4 396.5px,#bf4 421.5px,#ff0 440.5px,#f90 453.5px,#f60 463.5px,#f50 490.5px,#f40 492.5px,#f10 495.5px,#f30 522.5px,#f00 523.5px,#f00 530px)"></i><i style="background:linear-gradient(#808080 0px 232px,#03f 232px,#07f 233.5px,#0af 234.5px,#0df 240.5px,#0ef 246.5px,#0ff 269.5px,#9f6 300.5px,#9f6 321.5px,#ef1 340.5px,#df2 366.5px,#ef1 375.5px,#fd0 433.5px,#f70 463.5px,#f30 492.5px,#f00 495.5px,#f20 516.5px,#f20 522.5px,#e00 523.5px,#e00 530px)"></i><i style="background:linear-gradient(#808080 0px 232px,#00f 232px,#08f 234.5px,#0cf 240.5px,#0ff 250.5px,#1fe 270.5px,#1de 275.5px,#0ff 284.5px,#af5 309.5px,#af5 331.5px,#df2 342.5px,#fc0 356.5px,#fd0 385.5px,#f90 409.5px,#f80 441.5px,#f70 474.5px,#f30 492.5px,#f00 495.5px,#f30 515.5px,#f30 522.5px,#f10 523.5px,#e00 530px)"></i><i style="background:linear-gradient(#808080 0px 232px,#01e 232px,#07f 234.5px,#08f 235.5px,#0fe 253.5px,#5fa 278.5px,#5fa 300.5px,#7f8 324.5px,#bf4 344.5px,#fe0 355.5px,#fa0 366.5px,#f80 373.5px,#f80 397.5px,#f50 419.5px,#f60 441.5px,#f60 474.5px,#f50 492.5px,#f20 495.5px,#f20 507.5px,#f50 522.5px,#f20 523.5px,#f30 530px)"></i><i style="background:linear-gradient(#808080 0px 232px,#00d 232px,#03f 233.5px,#06f 234.5px,#09f 240.5px,#1fe 260.5px,#6f9 275.5px,#bf4 304.5px,#fe0 310.5px,#fb0 324.5px,#fe0 344.5px,#fe0 357.5px,#f70 389.5px,#f50 414.5px,#f50 474.5px,#f40 492.5px,#f10 495.5px,#f50 515.5px,#f60 522.5px,#f30 523.5px,#f30 530px)"></i><i style="background:linear-gradient(#808080 0px 232px,#44b 232px,#02f 233.5px,#05f 234.5px,#06f 235.5px,#09f 240.5px,#0ff 265.5px,#ff0 310.5px,#fe0 317.5px,#f80 333.5px,#f70 344.5px,#f80 356.5px,#f90 375.5px,#f80 389.5px,#f40 412.5px,#f50 474.5px,#f30 492.5px,#e00 495.5px,#f10 506.5px,#f50 522.5px,#f30 523.5px,#f30 530px)"></i><i style="background:linear-gradient(#808080 0px 231px,#44b 231px,#02e 232.5px,#06f 234.5px,#08f 238.5px,#0ff 265.5px,#6f9 287.5px,#ef1 311.5px,#fe0 318.5px,#fe0 330.5px,#f90 342.5px,#f50 362.5px,#f40 453.5px,#f60 474.5px,#f20 492.5px,#f00 494.5px,#d00 495.5px,#f00 515.5px,#f10 522.5px,#d00 523.5px,#e00 530px)"></i><i style="background:linear-gradient(#808080 0px 229px,#44b 229px,#04f 230.5px,#07f 231.5px,#08f 232.5px,#0af 237.5px,#0cf 261.5px,#0ef 271.5px,#7f8 296.5px,#ef1 317.5px,#ff0 344.5px,#f70 370.5px,#f60 381.5px,#f40 403.5px,#f40 455.5px,#f60 474.5px,#f50 485.5px,#f30 492.5px,#e00 495.5px,#f00 522.5px,#d00 523.5px,#d00 530px)"></i><i style="background:linear-gradient(#808080 0px 228px,#44b 228px,#46b 229.5px,#05f 230.5px,#09f 232.5px,#0bf 236.5px,#0ef 250.5px,#0df 275.5px,#0ff 281.5px,#af5 318.5px,#cf3 333.5px,#df2 358.5px,#fd0 369.5px,#f80 392.5px,#f40 418.5px,#f40 459.5px,#f60 474.5px,#f50 485.5px,#f20 492.5px,#f00 494.5px,#e00 495.5px,#f00 522.5px,#d00 523.5px,#d00 530px)"></i><i style="background:linear-gradient(#808080 0px 229px,#45b 229px,#47b 230.5px,#05f 231.5px,#08f 232.5px,#0af 236.5px,#0ff 250.5px,#3fc 265.5px,#2fd 296.5px,#bf4 355.5px,#af5 370.5px,#cf3 378.5px,#fe0 389.5px,#f40 434.5px,#f40 458.5px,#f60 474.5px,#f30 492.5px,#e00 495.5px,#f00 522.5px,#d00 523.5px,#d00 530px)"></i><i style="background:linear-gradient(#808080 0px 230px,#46b 230px,#04f 231.5px,#09f 233.5px,#0bf 247.5px,#0ff 256.5px,#3fc 266.5px,#5fa 280.5px,#3fc 325.5px,#6f9 352.5px,#af5 367.5px,#af5 389.5px,#df2 398.5px,#fe0 405.5px,#f60 446.5px,#f70 483.5px,#f50 492.5px,#f10 495.5px,#f10 522.5px,#d00 523.5px,#d00 530px)"></i><i style="background:linear-gradient(#808080 0px 230px,#44b 230px,#02f 231.5px,#08f 233.5px,#0bf 239.5px,#0bf 250.5px,#1fe 267.5px,#5fa 298.5px,#5fa 316.5px,#2fd 345.5px,#df2 389.5px,#df2 403.5px,#ef1 409.5px,#f70 433.5px,#f90 474.5px,#f50 492.5px,#f20 495.5px,#f30 513.5px,#f30 522.5px,#f00 523.5px,#e00 530px)"></i><i style="background:linear-gradient(#808080 0px 231px,#00f 231px,#04f 232.5px,#06f 233.5px,#09f 239.5px,#0df 258.5px,#0ef 274.5px,#2fd 281.5px,#4fb 290.5px,#4fb 310.5px,#7f8 321.5px,#8f7 330.5px,#7f8 340.5px,#3fc 355.5px,#9f6 377.5px,#ff0 407.5px,#fd0 422.5px,#f70 434.5px,#f50 442.5px,#f80 474.5px,#f60 492.5px,#f30 495.5px,#f50 522.5px,#f30 523.5px,#f20 530px)"></i><i style="background:linear-gradient(#808080 0px 231px,#44a 231px,#01c 232.5px,#03f 234.5px,#08f 239.5px,#0af 250.5px,#0bf 269.5px,#0df 280.5px,#0ff 283.5px,#3fc 291.5px,#5fa 309.5px,#cf3 344.5px,#8f7 370.5px,#9f6 377.5px,#ef1 394.5px,#ff0 411.5px,#f90 434.5px,#f60 451.5px,#f70 475.5px,#f40 493.5px,#f10 495.5px,#f50 522.5px,#f20 523.5px,#f30 530px)"></i><i style="background:linear-gradient(#808080 0px 232px,#449 232px,#00b 233.5px,#00e 234.5px,#01f 236.5px,#07f 244.5px,#0bf 250.5px,#0ef 270.5px,#0cf 275.5px,#0df 287.5px,#2fd 293.5px,#5fa 302.5px,#ff0 352.5px,#bf4 382.5px,#cf3 389.5px,#ef1 396.5px,#fc0 423.5px,#f60 445.5px,#f60 474.5px,#f40 492.5px,#f10 495.5px,#f30 520.5px,#f30 522.5px,#f00 523.5px,#f00 530px)"></i><i style="background:linear-gradient(#808080 0px 230px,#44b 230px,#02f 231.5px,#04f 232.5px,#08f 238.5px,#09f 249.5px,#0df 258.5px,#0ff 267.5px,#5fa 285.5px,#4fb 300.5px,#af5 306.5px,#af5 311.5px,#cf3 316.5px,#ee1 337.5px,#fb0 355.5px,#fe0 400.5px,#f50 452.5px,#f50 478.5px,#f30 493.5px,#e00 495.5px,#f30 522.5px,#f00 523.5px,#f00 530px)"></i><i style="background:linear-gradient(#808080 0px 232px,#45b 232px,#04f 233.5px,#08f 235.5px,#0af 239.5px,#0ef 256.5px,#bf4 304.5px,#ef1 310.5px,#f90 320.5px,#f70 331.5px,#f70 378.5px,#fa0 400.5px,#f90 422.5px,#f40 485.5px,#f20 493.5px,#e00 495.5px,#f00 508.5px,#f20 522.5px,#e00 523.5px,#f00 530px)"></i><i style="background:linear-gradient(#808080 0px 232px,#45b 232px,#03f 233.5px,#08f 235.5px,#0bf 241.5px,#0af 260.5px,#0cf 267.5px,#2fd 275.5px,#7f8 285.5px,#ff0 311.5px,#f60 354.5px,#f80 378.5px,#f60 400.5px,#f70 418.5px,#f60 433.5px,#f90 466.5px,#f20 493.5px,#e00 495.5px,#f10 522.5px,#d00 523.5px,#e00 530px)"></i><i style="background:linear-gradient(#808080 0px 232px,#44b 232px,#03f 233.5px,#07f 234.5px,#07f 235.5px,#0bf 248.5px,#0ef 253.5px,#0bf 264.5px,#07f 275.5px,#0af 280.5px,#0cf 282.5px,#2fd 286.5px,#8f7 293.5px,#ef1 317.5px,#fc0 331.5px,#fb0 350.5px,#f80 369.5px,#f90 397.5px,#f50 412.5px,#f60 451.5px,#fa0 470.5px,#f40 493.5px,#f00 498.5px,#f20 522.5px,#f00 523.5px,#e00 530px)"></i><i style="background:linear-gradient(#808080 0px 232px,#44b 232px,#03f 233.5px,#07f 234.5px,#08f 235.5px,#08f 241.5px,#04f 249.5px,#0df 256.5px,#0ff 260.5px,#4fb 274.5px,#3fc 284.5px,#9f6 296.5px,#ff0 324.5px,#fc0 366.5px,#f80 389.5px,#f40 420.5px,#f40 438.5px,#f80 477.5px,#f60 498.5px,#f20 504.5px,#f30 522.5px,#f10 523.5px,#f10 530px)"></i><i style="background:linear-gradient(#808080 0px 232px,#00e 232px,#08f 234.5px,#0bf 240.5px,#0ef 252.5px,#0ef 259.5px,#1fe 264.5px,#8f7 289.5px,#cf3 314.5px,#fe0 330.5px,#fd0 344.5px,#fe0 356.5px,#fc0 378.5px,#fd0 389.5px,#fc0 397.5px,#f50 410.5px,#f40 418.5px,#f40 452.5px,#f70 470.5px,#f60 496.5px,#f60 504.5px,#f20 509.5px,#f30 522.5px,#f10 523.5px,#f10 530px)"></i><i style="background:linear-gradient(#808080 0px 233px,#01f 233px,#09f 235.5px,#0cf 241.5px,#0ff 254.5px,#4fb 275.5px,#df2 311.5px,#ef0 339.5px,#fd0 356.5px,#fd0 374.5px,#fb0 389.5px,#fc0 400.5px,#f40 424.5px,#f40 457.5px,#f80 477.5px,#f40 510.5px,#f10 512.5px,#f30 522.5px,#f20 530px)"></i><i style="background:linear-gradient(#808080 0px 232px,#44b 232px,#03f 233.5px,#07f 234.5px,#09f 235.5px,#0cf 240.5px,#0ff 251.5px,#2fd 255.5px,#5fa 273.5px,#cf3 309.5px,#ff0 331.5px,#ff0 357.5px,#fd0 394.5px,#f40 433.5px,#f50 460.5px,#f70 470.5px,#f80 485.5px,#f40 510.5px,#f10 512.5px,#f10 530px)"></i><i style="background:linear-gradient(#808080 0px 232px,#44b 232px,#02f 233.5px,#06f 234.5px,#08f 235.5px,#0cf 241.5px,#0ff 248.5px,#5fa 264.5px,#8f7 288.5px,#df2 309.5px,#ff0 339.5px,#ff0 374.5px,#f80 425.5px,#f40 442.5px,#f40 467.5px,#f60 502.5px,#f50 510.5px,#f20 512.5px,#f10 530px)"></i><i style="background:linear-gradient(#808080 0px 232px,#01f 232px,#08f 234.5px,#0cf 240.5px,#0ff 249.5px,#6f9 265.5px,#af5 300.5px,#ef1 316.5px,#fe0 334.5px,#fa0 340.5px,#fa0 345.5px,#f90 354.5px,#fa0 395.5px,#f40 430.5px,#f40 502.5px,#f30 510.5px,#e00 512.5px,#f00 530px)"></i><i style="background:linear-gradient(#808080 0px 233px,#03f 233px,#08f 234.5px,#09f 235.5px,#0ff 247.5px,#2fd 257.5px,#3fc 275.5px,#4fb 280.5px,#af5 288.5px,#df2 300.5px,#ff0 325.5px,#fb0 344.5px,#fc0 350.5px,#f50 377.5px,#f60 403.5px,#f40 438.5px,#f40 485.5px,#f30 503.5px,#f20 510.5px,#f00 511.5px,#d00 512.5px,#d00 530px)"></i><i style="background:linear-gradient(#808080 0px 233px,#02f 233px,#07f 234.5px,#08f 235.5px,#0bf 240.5px,#1fe 253.5px,#5fa 266.5px,#3fc 280.5px,#af5 294.5px,#ef1 309.5px,#fe0 343.5px,#fb0 356.5px,#fa0 375.5px,#f50 400.5px,#f40 485.5px,#f30 504.5px,#f20 510.5px,#f00 511.5px,#e00 512.5px,#d00 530px)"></i><i style="background:linear-gradient(#808080 0px 232px,#45b 232px,#06f 233.5px,#0af 234.5px,#0df 240.5px,#0ff 259.5px,#2fd 266.5px,#6f9 277.5px,#ff0 322.5px,#fe0 352.5px,#fa0 378.5px,#f90 392.5px,#f50 416.5px,#f40 485.5px,#f30 504.5px,#f20 510.5px,#e00 512.5px,#d00 530px)"></i><i style="background:linear-gradient(#808080 0px 232px,#44b 232px,#02d 233.5px,#04f 234.5px,#0af 240.5px,#0ff 248.5px,#2fd 256.5px,#1fe 277.5px,#af5 300.5px,#ef1 327.5px,#fd0 366.5px,#f50 428.5px,#f50 502.5px,#f30 510.5px,#f00 512.5px,#f00 530px)"></i><i style="background:linear-gradient(#808080 0px 232px,#449 232px,#00d 233.5px,#02f 234.5px,#05f 240.5px,#05f 249.5px,#0df 258.5px,#2fd 266.5px,#4fb 273.5px,#2fc 281.5px,#6f9 300.5px,#cf3 318.5px,#ef1 339.5px,#fd0 355.5px,#fd0 378.5px,#fa0 412.5px,#f40 436.5px,#f50 504.5px,#f40 510.5px,#f10 512.5px,#f00 530px)"></i><i style="background:linear-gradient(#808080 0px 232px,#44b 232px,#04f 233.5px,#08f 234.5px,#08f 235.5px,#09f 240.5px,#07f 249.5px,#0ef 261.5px,#1fe 267.5px,#af5 300.5px,#af5 322.5px,#ef1 353.5px,#fc0 377.5px,#fb0 392.5px,#f70 418.5px,#f70 434.5px,#f50 451.5px,#f40 504.5px,#f30 510.5px,#f00 512.5px,#e00 530px)"></i><i style="background:linear-gradient(#808080 0px 232px,#44a 232px,#03f 233.5px,#07f 234.5px,#0af 240.5px,#0bf 249.5px,#0ef 255.5px,#0ff 275.5px,#3fc 289.5px,#bf4 311.5px,#df2 330.5px,#fd0 351.5px,#f70 389.5px,#f50 434.5px,#f70 456.5px,#f70 485.5px,#f50 504.5px,#f30 510.5px,#f00 512.5px,#e00 530px)"></i><i style="background:linear-gradient(#808080 0px 232px,#00f 232px,#08f 234.5px,#0af 240.5px,#0ff 266.5px,#1fe 292.5px,#8f7 298.5px,#ef1 308.5px,#fa0 328.5px,#fa0 352.5px,#f60 370.5px,#f50 396.5px,#f50 452.5px,#f80 467.5px,#f80 485.5px,#f50 510.5px,#f10 512.5px,#f10 513.5px,#e00 530px)"></i><i style="background:linear-gradient(#808080 0px 232px,#44b 232px,#04f 233.5px,#08f 234.5px,#0bf 240.5px,#0df 247.5px,#0ff 270.5px,#2fd 286.5px,#0ff 306.5px,#5fa 313.5px,#bf4 318.5px,#fc0 327.5px,#f90 333.5px,#f60 345.5px,#f70 366.5px,#f40 386.5px,#f40 437.5px,#f90 485.5px,#f70 504.5px,#f50 510.5px,#f20 512.5px,#f20 513.5px,#f10 530px)"></i><i style="background:linear-gradient(#808080 0px 232px,#44a 232px,#02f 233.5px,#06f 234.5px,#08f 235.5px,#0bf 241.5px,#0ff 252.5px,#4fb 300.5px,#3fc 320.5px,#cf3 332.5px,#fd0 339.5px,#f80 353.5px,#f50 378.5px,#f40 453.5px,#f90 486.5px,#f80 503.5px,#f70 510.5px,#f30 512.5px,#f30 522.5px,#f10 530px)"></i><i style="background:linear-gradient(#808080 0px 233px,#44b 233px,#02f 234.5px,#07f 236.5px,#0af 240.5px,#1fe 257.5px,#4fa 275.5px,#8f8 334.5px,#df2 343.5px,#fe0 348.5px,#fa0 356.5px,#f40 397.5px,#f40 452.5px,#f80 501.5px,#f60 510.5px,#f30 512.5px,#f30 513.5px,#f30 530px)"></i><i style="background:linear-gradient(#808080 0px 233px,#01f 233px,#06f 234.5px,#0af 240.5px,#0ff 258.5px,#7f8 288.5px,#8f7 302.5px,#9f6 346.5px,#cf3 354.5px,#fd0 363.5px,#f90 376.5px,#f40 408.5px,#f50 452.5px,#f70 467.5px,#f70 485.5px,#f50 510.5px,#f20 512.5px,#f20 513.5px,#f20 530px)"></i><i style="background:linear-gradient(#808080 0px 233px,#44b 233px,#02e 234.5px,#05f 235.5px,#08f 238.5px,#0ff 255.5px,#5fa 288.5px,#9f6 309.5px,#af4 363.5px,#df2 370.5px,#fd0 379.5px,#f90 390.5px,#f50 415.5px,#f40 432.5px,#f90 456.5px,#f90 485.5px,#f60 510.5px,#f20 512.5px,#f20 513.5px,#f10 530px)"></i><i style="background:linear-gradient(#808080 0px 234px,#02e 234px,#08f 236.5px,#0af 240.5px,#0af 245.5px,#07f 249.5px,#0ef 258.5px,#1fe 261.5px,#4fb 278.5px,#5fa 311.5px,#8f7 323.5px,#9f6 352.5px,#cf3 365.5px,#ef1 385.5px,#fe0 391.5px,#f70 411.5px,#f50 422.5px,#f40 445.5px,#fb0 467.5px,#f80 502.5px,#f70 510.5px,#f40 513.5px,#f20 530px)"></i><i style="background:linear-gradient(#808080 0px 232px,#45b 232px,#05f 233.5px,#08f 234.5px,#09f 235.5px,#0cf 240.5px,#0ff 249.5px,#4fb 264.5px,#6f9 301.5px,#5fa 330.5px,#8f7 353.5px,#ff0 385.5px,#fd0 411.5px,#f70 434.5px,#f60 452.5px,#fb0 487.5px,#f70 510.5px,#f40 512.5px,#f40 513.5px,#f30 530px)"></i><i style="background:linear-gradient(#808080 0px 229px,#01f 229px,#06f 230.5px,#0af 236.5px,#0ff 249.5px,#5fa 265.5px,#7f8 289.5px,#7f8 322.5px,#5fa 346.5px,#ff0 385.5px,#fc0 397.5px,#fc0 434.5px,#f90 452.5px,#fa0 467.5px,#f90 502.5px,#f80 510.5px,#f50 513.5px,#f40 530px)"></i><i style="background:linear-gradient(#808080 0px 228px,#44b 228px,#46b 229.5px,#04f 230.5px,#08f 232.5px,#0af 235.5px,#1fe 254.5px,#4fb 265.5px,#bf4 311.5px,#af5 337.5px,#7f8 353.5px,#ef1 376.5px,#fe0 383.5px,#fc0 397.5px,#fb0 433.5px,#fd0 444.5px,#fd0 454.5px,#f90 470.5px,#f90 486.5px,#f60 510.5px,#f20 513.5px,#f40 522.5px,#f40 530px)"></i><i style="background:linear-gradient(#808080 0px 228px,#45b 228px,#47b 229.5px,#06f 230.5px,#0af 232.5px,#0bf 235.5px,#0ff 251.5px,#af5 301.5px,#ef1 334.5px,#ef1 361.5px,#fe0 374.5px,#f90 389.5px,#f70 396.5px,#fb0 411.5px,#fb0 446.5px,#fe0 463.5px,#f80 481.5px,#f40 508.5px,#f30 510.5px,#f00 512.5px,#f00 513.5px,#e00 530px)"></i><i style="background:linear-gradient(#808080 0px 228px,#46b 228px,#07f 229.5px,#0af 230.5px,#0cf 233.5px,#0ef 249.5px,#0ff 263.5px,#2dd 275.5px,#2fd 281.5px,#5fa 286.5px,#9f6 317.5px,#9f6 334.5px,#cf3 346.5px,#fe0 357.5px,#fa0 383.5px,#f60 397.5px,#fc0 429.5px,#fb0 478.5px,#f50 507.5px,#f40 510.5px,#f10 512.5px,#f00 513.5px,#d00 530px)"></i><i style="background:linear-gradient(#808080 0px 228px,#45b 228px,#05f 229.5px,#09f 230.5px,#0af 231.5px,#0df 236.5px,#0ff 245.5px,#0ff 270.5px,#0df 280.5px,#0ef 289.5px,#2fd 296.5px,#4fb 317.5px,#8f7 334.5px,#6f9 353.5px,#df2 367.5px,#fd0 378.5px,#f80 397.5px,#fb0 441.5px,#fa0 463.5px,#f80 477.5px,#f70 502.5px,#f50 510.5px,#f10 513.5px,#f00 530px)"></i><i style="background:linear-gradient(#808080 0px 229px,#02f 229px,#06f 230.5px,#09f 231.5px,#0cf 237.5px,#0ff 249.5px,#3fc 291.5px,#2fd 319.5px,#6f9 325.5px,#6f9 331.5px,#af5 345.5px,#cf3 367.5px,#ff0 377.5px,#fa0 394.5px,#f70 410.5px,#f90 434.5px,#fa0 441.5px,#f90 449.5px,#fb0 464.5px,#f50 503.5px,#f30 510.5px,#f10 512.5px,#f00 513.5px,#f00 530px)"></i><i style="background:linear-gradient(#808080 0px 229px,#009 229px,#02e 231.5px,#05f 235.5px,#0ff 248.5px,#5fa 273.5px,#4fb 287.5px,#7f8 301.5px,#6f9 323.5px,#af5 334.5px,#ef1 339.5px,#ff0 351.5px,#f90 367.5px,#f80 388.5px,#f50 420.5px,#f50 432.5px,#f90 463.5px,#f80 474.5px,#f80 489.5px,#f60 503.5px,#f30 510.5px,#f00 513.5px,#d00 530px)"></i><i style="background:linear-gradient(#808080 0px 229px,#008 229px,#00c 230.5px,#00e 231.5px,#00e 245.5px,#01d 249.5px,#04f 252.5px,#0bf 256.5px,#1fe 263.5px,#9f6 289.5px,#cf3 342.5px,#fe0 351.5px,#f40 386.5px,#f40 449.5px,#f80 467.5px,#f60 502.5px,#f40 510.5px,#f10 513.5px,#f00 522.5px,#e00 530px)"></i><i style="background:linear-gradient(#808080 0px 229px,#00d 229px,#02f 230.5px,#04f 231.5px,#08f 237.5px,#08f 242.5px,#07f 250.5px,#1fe 268.5px,#cf3 304.5px,#cf3 331.5px,#ff0 350.5px,#fe0 357.5px,#f80 373.5px,#f50 392.5px,#f40 456.5px,#f60 489.5px,#f30 510.5px,#f00 512.5px,#e00 530px)"></i><i style="background:linear-gradient(#808080 0px 229px,#44b 229px,#03f 230.5px,#07f 232.5px,#09f 237.5px,#0bf 261.5px,#0ef 273.5px,#8f7 305.5px,#bf4 338.5px,#ef1 353.5px,#fb0 372.5px,#f70 386.5px,#f50 400.5px,#f40 449.5px,#f60 489.5px,#f20 510.5px,#e00 512.5px,#d00 530px)"></i><i style="background:linear-gradient(#808080 0px 232px,#44b 232px,#02e 233.5px,#06f 235.5px,#0af 245.5px,#0bf 255.5px,#09f 275.5px,#0ef 286.5px,#1fe 292.5px,#8f7 323.5px,#9f6 352.5px,#df2 367.5px,#fd0 377.5px,#f60 400.5px,#f40 422.5px,#f40 451.5px,#f50 458.5px,#f80 467.5px,#f90 485.5px,#f30 510.5px,#e00 512.5px,#d00 530px)"></i><i style="background:linear-gradient(#808080 0px 234px,#44a 234px,#47b 236.5px,#03f 237.5px,#06f 239.5px,#0af 254.5px,#0cf 267.5px,#0cf 280.5px,#0ff 296.5px,#3fc 322.5px,#8f7 344.5px,#9f6 367.5px,#df2 386.5px,#fc0 396.5px,#f70 413.5px,#f40 441.5px,#f50 461.5px,#fa0 478.5px,#fb0 489.5px,#f50 510.5px,#f10 513.5px,#e00 530px)"></i><i style="background:linear-gradient(#808080 0px 236px,#01f 236px,#05f 237.5px,#08f 238.5px,#0af 243.5px,#0bf 265.5px,#0ff 285.5px,#0ff 300.5px,#5fa 331.5px,#9f6 380.5px,#ef2 405.5px,#fd0 416.5px,#f70 433.5px,#f60 450.5px,#f60 468.5px,#fb0 489.5px,#fa0 500.5px,#f70 510.5px,#f30 513.5px,#f10 530px)"></i><i style="background:linear-gradient(#808080 0px 236px,#03f 236px,#07f 237.5px,#09f 238.5px,#0af 240.5px,#0cf 244.5px,#0df 255.5px,#0df 277.5px,#0ff 286.5px,#3fc 300.5px,#2fd 322.5px,#7f8 345.5px,#af5 393.5px,#ef1 424.5px,#fd0 433.5px,#f70 449.5px,#f70 456.5px,#f90 485.5px,#f90 502.5px,#f80 510.5px,#f50 513.5px,#f40 522.5px,#f20 530px)"></i><i style="background:linear-gradient(#808080 0px 236px,#45b 236px,#05f 237.5px,#08f 238.5px,#09f 241.5px,#09f 249.5px,#0df 253.5px,#0ff 260.5px,#1fe 265.5px,#0ff 294.5px,#3fc 311.5px,#4fb 344.5px,#af5 367.5px,#df2 396.5px,#df2 411.5px,#ff0 424.5px,#fd0 444.5px,#f80 465.5px,#f90 491.5px,#f60 510.5px,#f30 513.5px,#f30 530px)"></i><i style="background:linear-gradient(#808080 0px 235px,#44b 235px,#03f 236.5px,#07f 237.5px,#09f 238.5px,#0bf 243.5px,#1fe 264.5px,#3fc 278.5px,#1fe 314.5px,#5fa 333.5px,#6fa 355.5px,#ef1 385.5px,#ff0 423.5px,#fa0 444.5px,#fa0 463.5px,#f70 477.5px,#f60 503.5px,#f50 510.5px,#f20 513.5px,#f10 530px)"></i><i style="background:linear-gradient(#808080 0px 236px,#02f 236px,#06f 237.5px,#08f 238.5px,#0bf 243.5px,#0ff 260.5px,#4fb 311.5px,#4fb 333.5px,#6f9 344.5px,#af5 350.5px,#af5 357.5px,#df2 370.5px,#fd0 384.5px,#f90 397.5px,#f90 438.5px,#f50 456.5px,#f60 485.5px,#f30 510.5px,#f00 513.5px,#f00 530px)"></i><i style="background:linear-gradient(#808080 0px 236px,#449 236px,#01f 237.5px,#05f 238.5px,#0af 244.5px,#0ff 261.5px,#3fc 290.5px,#2fd 311.5px,#8f7 333.5px,#8f7 348.5px,#cf3 359.5px,#fe0 368.5px,#f60 389.5px,#f50 397.5px,#f40 486.5px,#f30 503.5px,#f20 510.5px,#e00 512.5px,#d00 530px)"></i><i style="background:linear-gradient(#808080 0px 236px,#009 236px,#00e 238.5px,#00f 241.5px,#03f 249.5px,#0af 257.5px,#0df 264.5px,#1fe 278.5px,#3fc 282.5px,#5fa 299.5px,#4fb 324.5px,#bf4 347.5px,#cf4 369.5px,#fe0 380.5px,#f40 408.5px,#f40 485.5px,#f20 510.5px,#e00 512.5px,#d00 530px)"></i><i style="background:linear-gradient(#808080 0px 237px,#01f 237px,#05f 238.5px,#07f 239.5px,#08f 241.5px,#08f 249.5px,#0df 269.5px,#0fe 283.5px,#5fa 308.5px,#4fb 331.5px,#cf3 356.5px,#ff0 386.5px,#f40 419.5px,#f40 486.5px,#f30 502.5px,#f10 511.5px,#e00 512.5px,#d00 530px)"></i><i style="background:linear-gradient(#808080 0px 236px,#00f 236px,#08f 238.5px,#0bf 244.5px,#0ff 256.5px,#3fc 278.5px,#2fd 309.5px,#4fb 325.5px,#4fb 345.5px,#6f9 353.5px,#df2 366.5px,#ff0 371.5px,#fe0 379.5px,#ff0 397.5px,#f60 418.5px,#f50 426.5px,#f40 485.5px,#f30 510.5px,#f00 513.5px,#d00 530px)"></i><i style="background:linear-gradient(#808080 0px 236px,#44b 236px,#02f 237.5px,#06f 238.5px,#07f 239.5px,#09f 243.5px,#0ff 261.5px,#7f8 300.5px,#3fc 322.5px,#7f8 345.5px,#6f9 359.5px,#8f7 367.5px,#df2 375.5px,#fe0 381.5px,#fa0 389.5px,#fb0 411.5px,#f50 437.5px,#f40 485.5px,#f30 510.5px,#f00 513.5px,#f10 522.5px,#f00 530px)"></i><i style="background:linear-gradient(#808080 0px 236px,#44b 236px,#03f 237.5px,#06f 238.5px,#07f 239.5px,#0af 244.5px,#0ff 265.5px,#af6 311.5px,#af5 322.5px,#7f8 344.5px,#af5 356.5px,#9f6 378.5px,#df2 387.5px,#fd0 394.5px,#f90 400.5px,#f70 411.5px,#f80 433.5px,#f40 451.5px,#f40 485.5px,#f20 510.5px,#f00 512.5px,#f00 530px)"></i><i style="background:linear-gradient(#808080 0px 236px,#45b 236px,#03f 237.5px,#07f 238.5px,#08f 239.5px,#0af 243.5px,#0ff 259.5px,#7f8 296.5px,#7f8 303.5px,#af5 318.5px,#cf3 344.5px,#bf4 355.5px,#df2 373.5px,#af5 392.5px,#df2 402.5px,#fc0 411.5px,#f80 423.5px,#f70 441.5px,#f40 466.5px,#f40 503.5px,#f30 510.5px,#f00 513.5px,#d00 530px)"></i><i style="background:linear-gradient(#808080 0px 236px,#44b 236px,#03f 237.5px,#07f 238.5px,#08f 239.5px,#0ff 259.5px,#4fb 278.5px,#8f7 311.5px,#bf4 323.5px,#bf4 345.5px,#ef1 367.5px,#fd0 389.5px,#ee2 401.5px,#df2 411.5px,#ff0 415.5px,#f80 438.5px,#f50 452.5px,#f50 477.5px,#f40 510.5px,#f10 513.5px,#f20 522.5px,#f10 530px)"></i><i style="background:linear-gradient(#808080 0px 236px,#44b 236px,#46b 237.5px,#05f 238.5px,#09f 240.5px,#0bf 244.5px,#0ff 262.5px,#9f6 300.5px,#cf3 330.5px,#bf4 356.5px,#ef1 370.5px,#f70 401.5px,#f60 411.5px,#f90 424.5px,#f50 461.5px,#f60 488.5px,#f40 510.5px,#f10 513.5px,#f10 530px)"></i><i style="background:linear-gradient(#808080 0px 236px,#44b 236px,#02f 237.5px,#06f 238.5px,#08f 239.5px,#0ff 256.5px,#2fd 267.5px,#2fd 280.5px,#bf4 309.5px,#df2 311.5px,#dd2 315.5px,#de2 333.5px,#fd0 347.5px,#fd0 367.5px,#f40 413.5px,#f50 502.5px,#f40 510.5px,#f10 513.5px,#f20 522.5px,#f10 530px)"></i><i style="background:linear-gradient(#808080 0px 237px,#03f 237px,#07f 238.5px,#09f 239.5px,#0cf 245.5px,#0ef 254.5px,#2fd 280.5px,#7f8 311.5px,#bf4 317.5px,#cc3 323.5px,#fb0 327.5px,#f90 340.5px,#f80 358.5px,#f90 389.5px,#f50 407.5px,#f40 423.5px,#f60 479.5px,#f40 503.5px,#f30 510.5px,#f00 512.5px,#f00 530px)"></i><i style="background:linear-gradient(#808080 0px 237px,#04f 237px,#08f 238.5px,#09f 239.5px,#0cf 245.5px,#1fe 256.5px,#3fc 266.5px,#3fc 283.5px,#6f9 322.5px,#8f7 330.5px,#bf4 335.5px,#fd0 344.5px,#f50 378.5px,#f70 400.5px,#f40 425.5px,#f40 462.5px,#f70 479.5px,#f20 510.5px,#f00 512.5px,#d00 530px)"></i><i style="background:linear-gradient(#808080 0px 235px,#44b 235px,#46b 236.5px,#04f 237.5px,#09f 239.5px,#0bf 243.5px,#0ff 262.5px,#2fd 277.5px,#2fd 298.5px,#4fb 311.5px,#4fb 332.5px,#6f9 344.5px,#bf4 352.5px,#de2 356.5px,#fe0 366.5px,#f50 400.5px,#f40 469.5px,#f60 485.5px,#f40 503.5px,#f20 510.5px,#e00 512.5px,#d00 530px)"></i><i style="background:linear-gradient(#808080 0px 231px,#44b 231px,#46b 232.5px,#04d 233.5px,#03f 234.5px,#04f 238.5px,#09f 250.5px,#0ff 259.5px,#4fb 291.5px,#2fd 309.5px,#3fc 318.5px,#1fe 338.5px,#3fc 350.5px,#bf4 371.5px,#ef2 381.5px,#fd0 394.5px,#f70 411.5px,#f60 420.5px,#f40 447.5px,#f50 479.5px,#f40 503.5px,#f30 510.5px,#e00 513.5px,#d00 530px)"></i><i style="background:linear-gradient(#808080 0px 227px,#46b 227px,#48b 228.5px,#06f 229.5px,#09f 231.5px,#0bf 236.5px,#0df 244.5px,#0bf 250.5px,#1fe 265.5px,#6f9 300.5px,#7f8 324.5px,#6f9 336.5px,#0ff 355.5px,#cf3 383.5px,#ef1 401.5px,#f50 433.5px,#f50 467.5px,#f80 479.5px,#f40 503.5px,#f30 510.5px,#f00 512.5px,#d00 530px)"></i><i style="background:linear-gradient(#808080 0px 226px,#44b 226px,#46b 227.5px,#06f 228.5px,#09f 230.5px,#0bf 235.5px,#0ff 261.5px,#2fd 289.5px,#df2 345.5px,#cf3 353.5px,#6f9 367.5px,#6f9 377.5px,#df2 389.5px,#fe0 395.5px,#fc0 400.5px,#fb0 421.5px,#f60 432.5px,#f40 439.5px,#f40 452.5px,#f70 464.5px,#f80 479.5px,#f60 504.5px,#f40 510.5px,#f10 513.5px,#e00 530px)"></i><i style="background:linear-gradient(#808080 0px 227px,#00f 227px,#08f 229.5px,#0bf 235.5px,#0ef 267.5px,#0df 275.5px,#3fc 291.5px,#3fc 311.5px,#ff0 353.5px,#ff0 366.5px,#bf4 385.5px,#ef1 401.5px,#f80 416.5px,#f60 422.5px,#f40 451.5px,#f80 479.5px,#f40 510.5px,#f00 513.5px,#f00 530px)"></i><i style="background:linear-gradient(#808080 0px 226px,#00e 226px,#07f 228.5px,#0bf 234.5px,#0ef 246.5px,#1fe 287.5px,#5fa 302.5px,#6f8 333.5px,#8f7 344.5px,#ff0 366.5px,#ff0 398.5px,#fb0 414.5px,#f40 429.5px,#f40 457.5px,#f70 485.5px,#f30 510.5px,#e00 513.5px,#e00 530px)"></i><i style="background:linear-gradient(#808080 0px 225px,#00e 225px,#06f 227.5px,#08f 229.5px,#0af 233.5px,#0ff 248.5px,#4fb 266.5px,#4fb 308.5px,#9f6 322.5px,#bf4 333.5px,#cf3 356.5px,#ff0 371.5px,#fb0 389.5px,#f40 439.5px,#f50 486.5px,#f30 503.5px,#f20 510.5px,#e00 512.5px,#d00 513.5px,#d00 530px)"></i><i style="background:linear-gradient(#808080 0px 226px,#01f 226px,#06f 227.5px,#07f 228.5px,#0af 233.5px,#0ff 247.5px,#2fd 267.5px,#8f7 287.5px,#6f9 309.5px,#7f8 322.5px,#af5 333.5px,#ef1 342.5px,#fe0 347.5px,#f50 410.5px,#f50 485.5px,#f30 503.5px,#f20 510.5px,#e00 512.5px,#d00 513.5px,#d00 530px)"></i><i style="background:linear-gradient(#808080 0px 226px,#01e 226px,#07f 228.5px,#0af 233.5px,#1fe 254.5px,#4fa 267.5px,#4fb 280.5px,#af5 301.5px,#af5 319.5px,#ef1 344.5px,#fe0 350.5px,#f70 374.5px,#f40 387.5px,#f50 485.5px,#f30 503.5px,#f20 510.5px,#e00 512.5px,#d00 513.5px,#d00 530px)"></i><i style="background:linear-gradient(#808080 0px 225px,#02f 225px,#0af 227.5px,#0df 233.5px,#0ef 242.5px,#0ff 261.5px,#6f9 285.5px,#bf4 309.5px,#cf3 329.5px,#ef1 337.5px,#fe0 341.5px,#f80 355.5px,#f50 392.5px,#f50 485.5px,#f30 503.5px,#f20 510.5px,#e00 512.5px,#d00 513.5px,#d00 530px)"></i><i style="background:linear-gradient(#808080 0px 225px,#04f 225px,#08f 226.5px,#09f 227.5px,#0ff 245.5px,#2fd 275.5px,#8f7 299.5px,#af5 327.5px,#ef1 341.5px,#fe0 346.5px,#f70 357.5px,#f50 366.5px,#f50 486.5px,#f40 503.5px,#f20 510.5px,#f00 512.5px,#e00 513.5px,#d00 530px)"></i><i style="background:linear-gradient(#808080 0px 224px,#45b 224px,#47b 225.5px,#06f 226.5px,#09f 227.5px,#0bf 232.5px,#0ef 251.5px,#3fc 267.5px,#4fb 288.5px,#6f9 300.5px,#9f6 314.5px,#ef1 328.5px,#fe0 353.5px,#f60 368.5px,#f40 375.5px,#f40 486.5px,#f30 510.5px,#e00 513.5px,#f00 522.5px,#d00 530px)"></i><i style="background:linear-gradient(#808080 0px 225px,#03f 225px,#07f 226.5px,#09f 227.5px,#0bf 232.5px,#0df 242.5px,#0ef 267.5px,#4fb 284.5px,#5fa 300.5px,#ef1 315.5px,#fe0 322.5px,#fb0 342.5px,#fa0 361.5px,#f40 383.5px,#f50 487.5px,#f30 503.5px,#f20 510.5px,#f00 512.5px,#e00 513.5px,#e00 530px)"></i><i style="background:linear-gradient(#808080 0px 222px,#45b 222px,#05f 223.5px,#08f 224.5px,#09f 225.5px,#0ff 242.5px,#1fe 276.5px,#5fa 294.5px,#9f6 298.5px,#cf3 299.5px,#fe0 302.5px,#f90 334.5px,#f80 378.5px,#f40 395.5px,#f50 486.5px,#f30 510.5px,#e00 513.5px,#e00 530px)"></i><i style="background:linear-gradient(#808080 0px 223px,#44b 223px,#03f 224.5px,#08f 225.5px,#0bf 231.5px,#0df 243.5px,#1fe 258.5px,#2fd 300.5px,#3fc 302.5px,#cf3 309.5px,#fe0 319.5px,#f60 350.5px,#f70 389.5px,#f40 410.5px,#f50 488.5px,#f30 510.5px,#f00 513.5px,#f00 530px)"></i><i style="background:linear-gradient(#808080 0px 223px,#44b 223px,#02f 224.5px,#06f 225.5px,#07f 226.5px,#0af 232.5px,#0df 241.5px,#0df 246.5px,#0bf 250.5px,#0ef 258.5px,#2fd 289.5px,#2fd 310.5px,#df2 324.5px,#fe0 330.5px,#fb0 337.5px,#f50 370.5px,#f40 443.5px,#f70 464.5px,#f50 476.5px,#f30 503.5px,#f20 510.5px,#f00 512.5px,#e00 513.5px,#e00 530px)"></i><i style="background:linear-gradient(#808080 0px 223px,#00f 223px,#07f 225.5px,#0af 230.5px,#0ff 255.5px,#1fe 303.5px,#4fb 318.5px,#af5 325.5px,#ef1 333.5px,#f80 352.5px,#f70 366.5px,#f40 383.5px,#f40 452.5px,#f90 467.5px,#f40 503.5px,#f20 510.5px,#f00 512.5px,#e00 513.5px,#d00 530px)"></i><i style="background:linear-gradient(#808080 0px 223px,#01f 223px,#09f 225.5px,#0cf 231.5px,#0ef 243.5px,#0ff 266.5px,#2fd 274.5px,#2fd 280.5px,#4fb 289.5px,#1fe 311.5px,#5fa 324.5px,#ef1 333.5px,#f60 351.5px,#f50 361.5px,#f40 455.5px,#f70 481.5px,#f30 510.5px,#e00 513.5px,#d00 530px)"></i><i style="background:linear-gradient(#808080 0px 223px,#00f 223px,#09f 225.5px,#0cf 231.5px,#0ff 244.5px,#3fc 265.5px,#2fd 288.5px,#6f9 304.5px,#af5 310.5px,#cf3 330.5px,#ef1 335.5px,#fe0 338.5px,#f60 346.5px,#f40 352.5px,#f40 460.5px,#f60 485.5px,#f40 504.5px,#f30 510.5px,#e00 513.5px,#e00 530px)"></i><i style="background:linear-gradient(#808080 0px 224px,#02f 224px,#08f 225.5px,#0bf 226.5px,#0ef 228.5px,#0ff 230.5px,#2fd 244.5px,#8f7 260.5px,#9f6 266.5px,#7f8 276.5px,#2fd 283.5px,#0bf 286.5px,#04f 288.5px,#45b 290px,#808080 290px 314px,#8b7 314px,#9b6 318.5px,#af5 319.5px,#ef1 328.5px,#ff0 335.5px,#fd0 342.5px,#f60 352.5px,#f40 360.5px,#f50 486.5px,#f40 503.5px,#f20 510.5px,#f00 512.5px,#e00 513.5px,#d00 530px)"></i><i style="background:linear-gradient(#808080 0px 224px,#02e 224px,#09f 226.5px,#0cf 227.5px,#0ef 229.5px,#1fe 233.5px,#7f8 262.5px,#5fa 277.5px,#1fe 285.5px,#0ff 286.5px,#0df 287.5px,#06f 290px,#808080 290px 324px,#8b7 324px,#9b6 328.5px,#af5 329.5px,#fe0 346.5px,#fd0 350.5px,#f60 361.5px,#f40 369.5px,#f40 485.5px,#f30 503.5px,#f20 510.5px,#e00 512.5px,#d00 513.5px,#d00 530px)"></i><i style="background:linear-gradient(#808080 0px 224px,#00b 224px,#02f 225.5px,#07f 227.5px,#0af 229.5px,#1fe 244.5px,#7f8 256.5px,#8f7 264.5px,#6f9 272.5px,#1fe 280.5px,#0cf 284.5px,#07f 286.5px,#4ab 287.5px,#44b 291px,#808080 291px 334px,#ab5 334px,#9b6 344.5px,#bb4 351.5px,#b74 367.5px,#b64 374.5px,#b64 390.5px,#8a7 391.5px,#ba4 392.5px,#ea1 396.5px,#fa0 407.5px,#f80 419.5px,#f40 420.5px,#f40 486.5px,#f30 504.5px,#f20 510.5px,#f00 512.5px,#d00 513.5px,#d00 530px)"></i><i style="background:linear-gradient(#808080 0px 224px,#44a 224px,#03f 225.5px,#09f 227.5px,#0bf 229.5px,#1fe 251.5px,#4fb 260.5px,#6f9 268.5px,#3fc 278.5px,#0ff 284.5px,#0cf 286.5px,#06f 288.5px,#45b 290px,#808080 290px 384px,#49b 384px,#4bb 385.5px,#6b9 387.5px,#3dc 388.5px,#5fa 389.5px,#7f8 390.5px,#bf4 394.5px,#ff0 405.5px,#fc0 422.5px,#f80 423.5px,#f80 424.5px,#f40 425.5px,#f50 486.5px,#f30 503.5px,#f20 510.5px,#f00 512.5px,#e00 513.5px,#d00 530px)"></i><i style="background:linear-gradient(#808080 0px 223px,#44b 223px,#46b 224.5px,#04f 225.5px,#0af 227.5px,#0cf 230.5px,#1fe 252.5px,#4fb 265.5px,#0ff 281.5px,#0bf 285.5px,#06f 287.5px,#02f 288.5px,#44b 290px,#808080 290px 388px,#48b 388px,#4bb 389.5px,#1ce 390.5px,#2fd 391.5px,#3fc 392.5px,#8f7 396.5px,#fe0 416.5px,#fc0 426.5px,#f80 427.5px,#f80 428.5px,#f40 429.5px,#f40 502.5px,#f30 510.5px,#f00 513.5px,#f00 530px)"></i><i style="background:linear-gradient(#808080 0px 226px,#05f 226px,#0bf 228.5px,#0ef 232.5px,#0ff 252.5px,#2fd 267.5px,#0ff 278.5px,#0ef 281.5px,#0af 284.5px,#06f 286.5px,#01f 288px,#808080 288px 387px,#45b 387px,#4ab 389.5px,#4ab 390.5px,#0cf 391.5px,#1fe 392.5px,#2fd 393.5px,#6f9 397.5px,#ef1 420.5px,#fd0 430.5px,#f80 431.5px,#f80 432.5px,#f40 433.5px,#f50 486.5px,#f30 510.5px,#f00 513.5px,#f10 522.5px,#f10 530px)"></i><i style="background:linear-gradient(#808080 0px 226px,#04f 226px,#09f 227.5px,#0cf 228.5px,#0ff 231.5px,#0ff 249.5px,#3fc 259.5px,#0ff 275.5px,#0df 282.5px,#09f 285.5px,#04e 287.5px,#46b 288.5px,#44b 290px,#808080 290px 384px,#46b 384px,#48b 385.5px,#07f 386.5px,#0cf 388.5px,#0ff 392.5px,#2fd 397.5px,#9f6 411.5px,#ef1 426.5px,#fe0 434.5px,#f90 435.5px,#f90 436.5px,#f40 437.5px,#f50 486.5px,#f30 503.5px,#f20 510.5px,#e00 512.5px,#d00 513.5px,#e00 530px)"></i><i style="background:linear-gradient(#808080 0px 226px,#06f 226px,#0bf 227.5px,#0ff 229.5px,#2fd 233.5px,#4fb 249.5px,#7f8 264.5px,#1fe 279.5px,#0ef 282.5px,#0bf 285.5px,#07f 287.5px,#00e 290px,#808080 290px 390px,#45b 390px,#06f 391.5px,#0af 392.5px,#0cf 393.5px,#1fe 396.5px,#5fa 411.5px,#bf4 424.5px,#ef1 438.5px,#f40 440.5px,#f40 486.5px,#f30 503.5px,#f20 510.5px,#f00 512.5px,#d00 513.5px,#d00 530px)"></i><i style="background:linear-gradient(#808080 0px 227px,#05f 227px,#0af 228.5px,#0df 229.5px,#1fe 231.5px,#8f7 264.5px,#6f9 273.5px,#2fd 281.5px,#0df 284.5px,#08f 286.5px,#04f 287.5px,#44b 289px,#808080 289px 391px,#45b 391px,#47b 392.5px,#06f 393.5px,#0bf 395.5px,#1ee 398.5px,#7f8 412.5px,#ef1 440.5px,#fa0 441.5px,#fa0 442.5px,#f40 443.5px,#f50 486.5px,#f30 510.5px,#e00 513.5px,#d00 530px)"></i><i style="background:linear-gradient(#808080 0px 226px,#44b 226px,#04f 227.5px,#0bf 229.5px,#0ef 231.5px,#0ef 233.5px,#7f8 267.5px,#5fa 278.5px,#1fe 286.5px,#0ff 287.5px,#0bf 289.5px,#04f 292px,#808080 292px 392px,#45b 392px,#05f 393.5px,#0af 395.5px,#0df 398.5px,#1fe 411.5px,#9f6 424.5px,#ef1 439.5px,#ff0 443.5px,#f40 445.5px,#f60 489.5px,#f40 510.5px,#f10 513.5px,#f20 522.5px,#f10 530px)"></i><i style="background:linear-gradient(#808080 0px 227px,#03f 227px,#08f 228.5px,#0df 230.5px,#0ef 232.5px,#0ff 236.5px,#1fe 247.5px,#5fa 259.5px,#6f9 266.5px,#5fa 274.5px,#1fe 281.5px,#0cf 284.5px,#07f 286.5px,#47b 287.5px,#45b 289px,#808080 289px 388px,#45b 388px,#05f 389.5px,#08f 390.5px,#0af 391.5px,#0ef 395.5px,#1fe 417.5px,#2fd 422.5px,#ef1 443.5px,#ff0 446.5px,#f40 448.5px,#f50 503.5px,#f40 511.5px,#f10 513.5px,#f20 530px)"></i><i style="background:linear-gradient(#808080 0px 228px,#06f 228px,#0df 230.5px,#1fe 232.5px,#3fc 236.5px,#6f9 261.5px,#4fb 274.5px,#0ff 282.5px,#0bf 285.5px,#04f 288px,#808080 288px 382px,#44b 382px,#48b 384.5px,#04f 385.5px,#09f 387.5px,#0af 388.5px,#0af 397.5px,#0ef 406.5px,#1fe 412.5px,#4fb 433.5px,#df2 448.5px,#ea1 449.5px,#ea1 450.5px,#f40 451.5px,#f50 489.5px,#f30 510.5px,#f00 513.5px,#f10 530px)"></i><i style="background:linear-gradient(#808080 0px 227px,#44a 227px,#04f 228.5px,#0af 230.5px,#0cf 232.5px,#0ef 235.5px,#1fe 241.5px,#8f7 256.5px,#9f6 263.5px,#8f7 267.5px,#2fd 278.5px,#0ff 285.5px,#0cf 288.5px,#08f 290.5px,#04f 291.5px,#44b 293px,#808080 293px 378px,#44b 378px,#03f 379.5px,#07f 380.5px,#09f 381.5px,#0cf 384.5px,#0bf 400.5px,#0ef 416.5px,#cf3 451.5px,#f50 453.5px,#f40 498.5px,#f20 510.5px,#e00 513.5px,#e00 530px)"></i><i style="background:linear-gradient(#808080 0px 228px,#00e 228px,#08f 230.5px,#0bf 232.5px,#0ff 247.5px,#8f7 264.5px,#9f6 268.5px,#7f8 275.5px,#1fe 283.5px,#0cf 287.5px,#06f 290.5px,#48b 291.5px,#44b 295px,#808080 295px 375px,#45b 375px,#04f 376.5px,#07f 377.5px,#0bf 381.5px,#0ef 400.5px,#1fe 417.5px,#6f9 433.5px,#ef0 452.5px,#ff0 454.5px,#f50 456.5px,#f60 489.5px,#f40 509.5px,#f30 511.5px,#f00 513.5px,#e00 530px)"></i><i style="background:linear-gradient(#808080 0px 229px,#44b 229px,#05f 230.5px,#0bf 232.5px,#0df 234.5px,#0ff 250.5px,#5fa 261.5px,#6f9 267.5px,#5fa 273.5px,#1fe 281.5px,#0cf 284.5px,#06f 286.5px,#48b 287.5px,#46b 289px,#808080 289px 369px,#45b 369px,#48b 371.5px,#05f 372.5px,#0af 374.5px,#0cf 378.5px,#0af 389.5px,#0af 396.5px,#0ef 406.5px,#5fa 422.5px,#af5 444.5px,#ef1 454.5px,#fe0 456.5px,#f50 458.5px,#f60 503.5px,#f50 511.5px,#f20 513.5px,#f20 522.5px,#f10 530px)"></i><i style="background:linear-gradient(#808080 0px 230px,#04f 230px,#0af 232.5px,#0ef 236.5px,#0ff 248.5px,#4fb 266.5px,#4fb 272.5px,#0ff 280.5px,#0ef 282.5px,#0bf 284.5px,#05f 286.5px,#00f 288px,#808080 288px 363px,#44b 363px,#47b 365.5px,#49b 368.5px,#06f 369.5px,#09f 371.5px,#0cf 375.5px,#0ef 389.5px,#0df 397.5px,#0ef 406.5px,#1fe 412.5px,#cf3 434.5px,#df2 458.5px,#f60 460.5px,#f40 504.5px,#f30 511.5px,#f00 513.5px,#f20 530px)"></i><i style="background:linear-gradient(#808080 0px 230px,#01f 230px,#05f 231.5px,#08f 232.5px,#0bf 235.5px,#0cf 248.5px,#1fe 259.5px,#3fc 270.5px,#2fd 276.5px,#0ff 281.5px,#0df 283.5px,#09f 285.5px,#02f 288px,#808080 288px 359px,#44b 359px,#03f 360.5px,#07f 361.5px,#0cf 365.5px,#0ff 392.5px,#5fa 415.5px,#ef0 437.5px,#fd0 450.5px,#fe0 460.5px,#f50 462.5px,#f70 478.5px,#f20 509.5px,#f20 511.5px,#f00 512.5px,#e00 513.5px,#e00 530px)"></i><i style="background:linear-gradient(#808080 0px 232px,#45b 232px,#04f 233.5px,#0af 235.5px,#0df 238.5px,#0bf 249.5px,#0ff 258.5px,#1fe 269.5px,#0cf 279.5px,#08f 282.5px,#02f 284.5px,#44b 286px,#808080 286px 360px,#44b 360px,#46b 361.5px,#04f 362.5px,#09f 364.5px,#0cf 367.5px,#0ff 387.5px,#4fb 415.5px,#7f8 427.5px,#ef1 440.5px,#fe0 446.5px,#fc0 462.5px,#f50 464.5px,#f70 486.5px,#f40 503.5px,#f20 511.5px,#e00 513.5px,#d00 530px)"></i><i style="background:linear-gradient(#808080 0px 235px,#01f 235px,#05f 236.5px,#09f 238.5px,#0ef 245.5px,#1fe 251.5px,#3fc 262.5px,#3fc 269.5px,#0ff 276.5px,#0ef 279.5px,#0bf 282.5px,#07f 284.5px,#00e 287px,#808080 287px 358px,#45b 358px,#04f 359.5px,#0af 361.5px,#0ef 365.5px,#0ef 382.5px,#0cf 389.5px,#0ef 396.5px,#2fd 402.5px,#5fa 411.5px,#7f8 434.5px,#9f6 441.5px,#ef1 450.5px,#fe0 455.5px,#fc0 464.5px,#f50 466.5px,#f60 486.5px,#f30 510.5px,#f30 511.5px,#f00 513.5px,#d00 530px)"></i><i style="background:linear-gradient(#808080 0px 235px,#01f 235px,#07f 236.5px,#0bf 237.5px,#0ef 239.5px,#0ff 240.5px,#2ed 249.5px,#3fc 252.5px,#7f8 264.5px,#6f9 272.5px,#1fe 280.5px,#0cf 283.5px,#05f 286.5px,#47b 287.5px,#45b 289px,#808080 289px 359px,#45b 359px,#04e 360.5px,#09f 362.5px,#0df 365.5px,#1fe 372.5px,#5fa 389.5px,#3ec 400.5px,#2fd 405.5px,#2fd 411.5px,#8f7 425.5px,#9f6 445.5px,#ef1 460.5px,#fe0 466.5px,#f60 468.5px,#f60 490.5px,#f30 510.5px,#e00 513.5px,#e00 530px)"></i><i style="background:linear-gradient(#808080 0px 235px,#01f 235px,#07f 236.5px,#0bf 237.5px,#0ef 239.5px,#0ff 240.5px,#cf3 264.5px,#af5 270.5px,#2fd 279.5px,#0cf 282.5px,#06f 284.5px,#47b 285.5px,#44b 287px,#808080 287px 359px,#44a 359px,#45b 360.5px,#04f 361.5px,#07f 362.5px,#0af 365.5px,#0ef 379.5px,#1fe 385.5px,#8f7 400.5px,#9f6 411.5px,#8f7 422.5px,#df2 444.5px,#df2 468.5px,#f70 470.5px,#f40 503.5px,#f30 511.5px,#f00 513.5px,#d00 530px)"></i><i style="background:linear-gradient(#808080 0px 235px,#44b 235px,#04f 236.5px,#08f 237.5px,#0cf 239.5px,#0ef 242.5px,#1fe 245.5px,#3fc 252.5px,#af5 264.5px,#bf4 268.5px,#9f6 277.5px,#3fc 284.5px,#1de 286.5px,#0af 287.5px,#06f 288.5px,#47b 290px,#808080 290px 360px,#46b 360px,#48b 361.5px,#07f 362.5px,#0bf 364.5px,#0df 367.5px,#0cf 378.5px,#0ef 389.5px,#2fd 400.5px,#9f6 420.5px,#bf4 437.5px,#ef1 450.5px,#fd0 462.5px,#fe0 470.5px,#f50 472.5px,#f60 489.5px,#f20 510.5px,#e00 513.5px,#d00 530px)"></i><i style="background:linear-gradient(#808080 0px 235px,#01f 235px,#08f 237.5px,#0af 239.5px,#0ef 250.5px,#1fe 254.5px,#6f9 263.5px,#7f8 268.5px,#4fb 277.5px,#1fe 282.5px,#0cf 284.5px,#06f 286.5px,#45b 288px,#808080 288px 359px,#44b 359px,#48b 361.5px,#05f 362.5px,#0bf 364.5px,#0cf 365.5px,#0ff 371.5px,#2fd 378.5px,#1fe 401.5px,#ef1 456.5px,#fd0 474.5px,#f90 475.5px,#f90 476.5px,#f50 477.5px,#f40 503.5px,#f20 511.5px,#e00 513.5px,#d00 530px)"></i><i style="background:linear-gradient(#808080 0px 235px,#01e 235px,#08f 237.5px,#0bf 239.5px,#0df 250.5px,#0ff 255.5px,#3fc 268.5px,#1fe 274.5px,#0df 278.5px,#04e 282.5px,#46b 283.5px,#44b 285px,#808080 285px 358px,#44a 358px,#45b 359.5px,#04f 360.5px,#08f 362.5px,#0af 364.5px,#0df 376.5px,#2fd 384.5px,#4fb 389.5px,#6f9 397.5px,#4fb 411.5px,#4fb 422.5px,#6f9 435.5px,#ef1 455.5px,#ff0 462.5px,#fe0 479.5px,#f90 480.5px,#f90 481.5px,#f50 482.5px,#f30 503.5px,#f20 511.5px,#f00 512.5px,#d00 513.5px,#d00 530px)"></i><i style="background:linear-gradient(#808080 0px 235px,#00d 235px,#04f 236.5px,#07f 237.5px,#0bf 239.5px,#0ff 249.5px,#5fa 261.5px,#0ff 270.5px,#0bf 274.5px,#04f 277.5px,#02d 278.5px,#45b 279.5px,#44a 281px,#808080 281px 359px,#00e 359px,#08f 361.5px,#0cf 365.5px,#0bf 378.5px,#0ef 392.5px,#7f8 411.5px,#6f9 441.5px,#ef1 464.5px,#fd0 484.5px,#f90 485.5px,#f90 486.5px,#f50 487.5px,#f30 503.5px,#f20 511.5px,#f00 512.5px,#d00 513.5px,#d00 530px)"></i><i style="background:linear-gradient(#808080 0px 235px,#448 235px,#00e 236.5px,#03f 237.5px,#08f 240.5px,#0df 250.5px,#2fd 254.5px,#5fa 260.5px,#6f9 264.5px,#5fa 267.5px,#0ff 272.5px,#09f 275.5px,#01f 278px,#808080 278px 349px,#44b 349px,#48b 351.5px,#48b 352.5px,#05f 353.5px,#09f 355.5px,#0bf 359.5px,#0ef 377.5px,#1fe 401.5px,#9f6 425.5px,#9f6 441.5px,#ff0 471.5px,#fd0 489.5px,#f90 490.5px,#f90 491.5px,#f40 492.5px,#f20 510.5px,#f00 512.5px,#d00 513.5px,#d00 530px)"></i></div>
<svg width="1200" height="800" viewBox="0 0 1200 800" shape-rendering="crispEdges">
<defs>
<linearGradient id="cb" x1="0" y1="1" x2="0" y2="0">
<stop offset="0" stop-color="#000080"/>
<stop offset="0.125" stop-color="#0000ff"/>
<stop offset="0.375" stop-color="#00ffff"/>
<stop offset="0.625" stop-color="#ffff00"/>
<stop offset="0.875" stop-color="#ff0000"/>
<stop offset="1" stop-color="#800000"/>
</linearGradient>
</defs>
<path d="M169.5 135.5H970.5V667.5H169.5Z" fill="none" stroke="#000"/>
<path d="M187.5 668v3M187.5 135v-3M209.5 668v3M209.5 135v-3M231.5 668v3M231.5 135v-3M253.5 668v3M253.5 135v-3M276.5 668v3M276.5 135v-3M298.5 668v5M298.5 135v-5M320.5 668v3M320.5 135v-3M343.5 668v3M343.5 135v-3M365.5 668v3M365.5 135v-3M387.5 668v3M387.5 135v-3M409.5 668v3M409.5 135v-3M432.5 668v5M432.5 135v-5M454.5 668v3M454.5 135v-3M476.5 668v3M476.5 135v-3M498.5 668v3M498.5 135v-3M521.5 668v3M521.5 135v-3M543.5 668v3M543.5 135v-3M565.5 668v5M565.5 135v-5M587.5 668v3M587.5 135v-3M610.5 668v3M610.5 135v-3M632.5 668v3M632.5 135v-3M654.5 668v3M654.5 135v-3M677.5 668v3M677.5 135v-3M699.5 668v5M699.5 135v-5M721.5 668v3M721.5 135v-3M743.5 668v3M743.5 135v-3M766.5 668v3M766.5 135v-3M788.5 668v3M788.5 135v-3M810.5 668v3M810.5 135v-3M832.5 668v5M832.5 135v-5M855.5 668v3M855.5 135v-3M877.5 668v3M877.5 135v-3M899.5 668v3M899.5 135v-3M921.5 668v3M921.5 135v-3M944.5 668v3M944.5 135v-3M966.5 668v5M966.5 135v-5M169 652.5h-4M971 652.5h4M169 630.5h-4M971 630.5h4M169 607.5h-4M971 607.5h4M169 585.5h-8M971 585.5h8M169 562.5h-4M971 562.5h4M169 540.5h-4M971 540.5h4M169 517.5h-4M971 517.5h4M169 494.5h-8M971 494.5h8M169 472.5h-4M971 472.5h4M169 449.5h-4M971 449.5h4M169 427.5h-4M971 427.5h4M169 404.5h-8M971 404.5h8M169 382.5h-4M971 382.5h4M169 359.5h-4M971 359.5h4M169 337.5h-4M971 337.5h4M169 314.5h-8M971 314.5h8M169 292.5h-4M971 292.5h4M169 269.5h-4M971 269.5h4M169 247.5h-4M971 247.5h4M169 224.5h-8M971 224.5h8M169 202.5h-4M971 202.5h4M169 179.5h-4M971 179.5h4M169 157.5h-4M971 157.5h4" stroke="#000" fill="none"/>
<rect x="991" y="136" width="19" height="531" fill="url(#cb)"/>
<path d="M990.5 135.5H1010.5V667.5H990.5Z" fill="none" stroke="#000"/>
<path d="M1009 165h1v1h-1zM1009 194h1v1h-1zM1009 224h1v1h-1zM1009 253h1v1h-1zM1009 283h1v1h-1zM1009 312h1v1h-1zM1009 342h1v1h-1zM1009 371h1v1h-1zM1009 401h1v1h-1zM1009 431h1v1h-1zM1009 460h1v1h-1zM1009 490h1v1h-1zM1009 519h1v1h-1zM1009 549h1v1h-1zM1009 578h1v1h-1zM1009 608h1v1h-1zM1009 637h1v1h-1z" fill="#000"/>
<text x="142.3" y="115" xml:space="preserve" textLength="900" lengthAdjust="spacing">Equivalent Radar Reflectivity Factor Ze of Hydrometeors   06:01 02.03.2015 - 09:00 02.03.2015 Muenchen</text>
<g text-anchor="end" letter-spacing="1">
<text x="158" y="231">10</text>
<text x="158" y="321">8</text>
<text x="158" y="411">6</text>
<text x="158" y="501">4</text>
<text x="158" y="592">2</text>
</g>
<g text-anchor="middle">
<g letter-spacing="0.75">
<text x="299.5" y="694">06:30</text>
<text x="433" y="694">07:00</text>
<text x="567" y="694">07:30</text>
<text x="700" y="694">08:00</text>
<text x="834" y="694">08:30</text>
<text x="968" y="694">09:00</text>
</g>
<text x="570" y="715" letter-spacing="1">Time UTC</text>
<text transform="translate(120 402) rotate(-90)">Height AGL km</text>
<text transform="translate(1061 400.5) rotate(-90)">Ze dBmm^6/m^3</text>
</g>
<g letter-spacing="1">
<text x="1015" y="200">20</text>
<text x="1015" y="318">0</text>
<text x="1015" y="436">-20</text>
<text x="1015" y="555">-40</text>
<text x="1015" y="668">-60</text>
</g>
</svg>
</body></html>
